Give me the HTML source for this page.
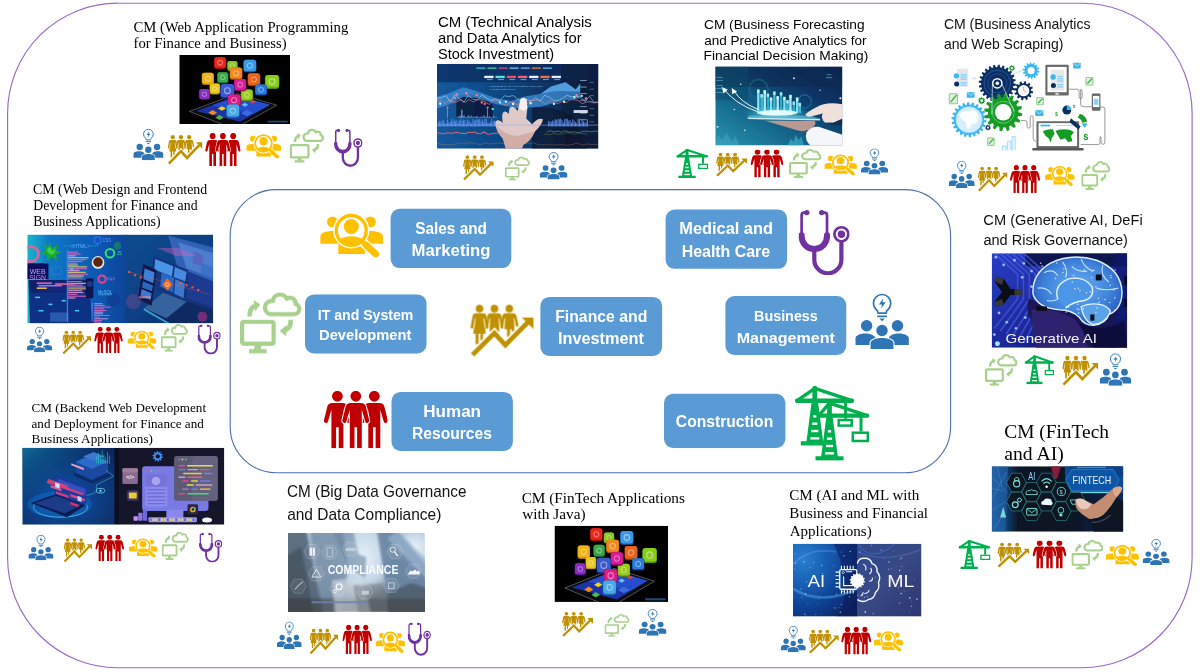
<!DOCTYPE html>
<html lang="en"><head><meta charset="utf-8"><title>Career Map</title>
<style>html,body{margin:0;padding:0;background:#fff}body{width:1200px;height:672px;overflow:hidden}svg{display:block}.serif{font-family:"Liberation Serif",serif}.sans{font-family:"Liberation Sans",sans-serif}</style></head><body>
<svg width="1200" height="672" viewBox="0 0 1200 672">
<defs><filter id="soft" x="-3%" y="-3%" width="106%" height="106%"><feGaussianBlur stdDeviation="0.55"/></filter><filter id="soft2" x="-5%" y="-5%" width="110%" height="110%"><feGaussianBlur stdDeviation="0.3"/></filter></defs>
<rect width="1200" height="672" fill="#fff"/>
<rect x="7.6" y="3.2" width="1184.5" height="664.5" rx="110" ry="110" fill="none" stroke="#9A6AC6" stroke-width="1.15"/>
<rect x="230.2" y="189.6" width="720.4" height="283.2" rx="46" ry="46" fill="none" stroke="#4F71B0" stroke-width="1.1"/>
<g filter="url(#soft)"><svg x="179.3" y="55" width="110.70" height="69.00" viewBox="40 25 990 620" preserveAspectRatio="none" overflow="hidden"><rect x="40" y="25" width="990" height="620" rx="0" fill="#000" /><polygon points="130,532 560,372 912,476 600,650 430,650" fill="#0a0a0c" stroke="#8c8c98" stroke-width="5" stroke-linejoin="round"/><polygon points="190,528 560,392 852,472 585,625" fill="#1a33a6"/><polygon points="330,478 560,392 852,472 700,555" fill="#2a55d8" opacity="0.8"/><polygon points="300,543.0 339.0,520 378,543.0 339.0,566" fill="#f08a1e"/><polygon points="385,505.5 421.5,485 458,505.5 421.5,526" fill="#f0d21e"/><polygon points="362,587.5 400.0,565 438,587.5 400.0,610" fill="#4ab84a"/><polygon points="598,472.5 626.5,455 655,472.5 626.5,490" fill="#6ac0f0"/><polygon points="668,445.0 698.0,430 728,445.0 698.0,460" fill="#e04040"/><polygon points="590,547.5 645.0,520 700,547.5 645.0,575" fill="#3a6ae0"/><rect x="350" y="45" width="110" height="105" rx="24.2" fill="#a01008"/><rect x="354.4" y="45" width="101.2" height="94.5" rx="22.0" fill="#e8281e"/><circle cx="405.0" cy="94.2" r="22.0" fill="none" stroke="#fff" stroke-opacity="0.5" stroke-width="7.7"/><rect x="468" y="80" width="94" height="90" rx="20.7" fill="#4a8a10"/><rect x="471.8" y="80" width="86.5" height="81.0" rx="18.8" fill="#8ac828"/><circle cx="515.0" cy="122.2" r="18.8" fill="none" stroke="#fff" stroke-opacity="0.5" stroke-width="6.6"/><rect x="612" y="68" width="118" height="112" rx="26.0" fill="#1a5aa8"/><rect x="616.7" y="68" width="108.6" height="100.8" rx="23.6" fill="#3a9ae8"/><circle cx="671.0" cy="120.5" r="23.6" fill="none" stroke="#fff" stroke-opacity="0.5" stroke-width="8.3"/><rect x="240" y="185" width="110" height="110" rx="24.2" fill="#b07808"/><rect x="244.4" y="185" width="101.2" height="99.0" rx="22.0" fill="#f0b41e"/><circle cx="295.0" cy="236.7" r="22.0" fill="none" stroke="#fff" stroke-opacity="0.5" stroke-width="7.7"/><rect x="378" y="180" width="102" height="100" rx="22.4" fill="#1a6a2a"/><rect x="382.1" y="180" width="93.8" height="90.0" rx="20.4" fill="#3aa84a"/><circle cx="429.0" cy="226.9" r="20.4" fill="none" stroke="#fff" stroke-opacity="0.5" stroke-width="7.1"/><rect x="490" y="138" width="115" height="110" rx="25.3" fill="#b85408"/><rect x="494.6" y="138" width="105.8" height="99.0" rx="23.0" fill="#f08a1e"/><circle cx="547.5" cy="189.6" r="23.0" fill="none" stroke="#fff" stroke-opacity="0.5" stroke-width="8.1"/><rect x="650" y="190" width="115" height="115" rx="25.3" fill="#a03808"/><rect x="654.6" y="190" width="105.8" height="103.5" rx="23.0" fill="#e8641e"/><circle cx="707.5" cy="244.1" r="23.0" fill="none" stroke="#fff" stroke-opacity="0.5" stroke-width="8.1"/><rect x="805" y="205" width="130" height="125" rx="28.6" fill="#4a8a08"/><rect x="810.2" y="205" width="119.6" height="112.5" rx="26.0" fill="#8acc1e"/><circle cx="870.0" cy="263.6" r="26.0" fill="none" stroke="#fff" stroke-opacity="0.5" stroke-width="9.1"/><rect x="310" y="280" width="95" height="100" rx="20.9" fill="#a88808"/><rect x="313.8" y="280" width="87.4" height="90.0" rx="19.0" fill="#e8c81e"/><circle cx="357.5" cy="327.1" r="19.0" fill="none" stroke="#fff" stroke-opacity="0.5" stroke-width="6.7"/><rect x="215" y="330" width="100" height="100" rx="22.0" fill="#4a0a80"/><rect x="219.0" y="330" width="92.0" height="90.0" rx="20.0" fill="#8a2ec0"/><circle cx="265.0" cy="377.0" r="20.0" fill="none" stroke="#fff" stroke-opacity="0.5" stroke-width="7.0"/><rect x="715" y="290" width="110" height="100" rx="24.2" fill="#0a3a98"/><rect x="719.4" y="290" width="101.2" height="90.0" rx="22.0" fill="#2a7ad8"/><circle cx="770.0" cy="336.7" r="22.0" fill="none" stroke="#fff" stroke-opacity="0.5" stroke-width="7.7"/><rect x="590" y="335" width="110" height="105" rx="24.2" fill="#5a8a08"/><rect x="594.4" y="335" width="101.2" height="94.5" rx="22.0" fill="#9acc1e"/><circle cx="645.0" cy="384.2" r="22.0" fill="none" stroke="#fff" stroke-opacity="0.5" stroke-width="7.7"/><rect x="528" y="240" width="112" height="110" rx="24.6" fill="#900a5a"/><rect x="532.5" y="240" width="103.0" height="99.0" rx="22.4" fill="#d81e9a"/><circle cx="584.0" cy="291.6" r="22.4" fill="none" stroke="#fff" stroke-opacity="0.5" stroke-width="7.8"/><rect x="405" y="285" width="130" height="130" rx="28.6" fill="#1a2a90"/><rect x="410.2" y="285" width="119.6" height="117.0" rx="26.0" fill="#3a5ad0"/><circle cx="470.0" cy="346.1" r="26.0" fill="none" stroke="#fff" stroke-opacity="0.5" stroke-width="9.1"/><rect x="470" y="380" width="120" height="110" rx="26.4" fill="#900a4a"/><rect x="474.8" y="380" width="110.4" height="99.0" rx="24.0" fill="#d81e8a"/><circle cx="530.0" cy="431.4" r="24.0" fill="none" stroke="#fff" stroke-opacity="0.5" stroke-width="8.4"/><rect x="460" y="470" width="120" height="120" rx="26.4" fill="#1a68a8"/><rect x="464.8" y="470" width="110.4" height="108.0" rx="24.0" fill="#4aa8e8"/><circle cx="520.0" cy="526.4" r="24.0" fill="none" stroke="#fff" stroke-opacity="0.5" stroke-width="8.4"/><rect x="830" y="615" width="180" height="17" rx="2" fill="#2a5a9a" opacity="0.8"/></svg></g>
<g filter="url(#soft)"><svg x="437" y="64" width="161.40" height="84.70" viewBox="48 25 1107 583" preserveAspectRatio="none" overflow="hidden"><defs><linearGradient id="stk" x1="0" x2="1" y1="0" y2="0"><stop offset="0" stop-color="#125a9c"/><stop offset="0.45" stop-color="#10447e"/><stop offset="0.8" stop-color="#0e2c54"/><stop offset="1" stop-color="#0c2140"/></linearGradient></defs><rect x="48" y="25" width="1107" height="583" rx="0" fill="url(#stk)" /><path d="M180 250 Q300 200 430 300 L430 390 H180Z" fill="#06183a" opacity="0.85"/><path d="M700 330 Q800 300 980 380 L1080 608 H700Z" fill="#061428" opacity="0.6"/><rect x="48" y="25" width="1107" height="125" rx="0" fill="#0a2a5c" opacity="0.7"/><rect x="900" y="25" width="255" height="583" rx="0" fill="#07142a" opacity="0.4"/><path d="M48 250 L120 230 L230 185 L330 215 L450 260 L560 280 L640 250 L760 230 L830 180 L930 150 L1000 200 L1030 160 L1030 260 L900 280 L760 320 L600 330 L450 300 L330 260 L230 250 L120 310 L48 330Z" fill="#3c8fd8" opacity="0.75"/><path d="M760 230 L830 180 L930 150 L1000 200 L1030 160 L1030 215 L860 210Z" fill="#5aa8e8" opacity="0.8"/><rect x="52.0" y="426.6712380517838" width="7.0" height="28.328761948216197" rx="0" fill="#5a8cf0" opacity="0.9"/><rect x="61.2" y="415.9519771146417" width="7.0" height="39.04802288535831" rx="0" fill="#5a8cf0" opacity="0.9"/><rect x="70.4" y="422.05156917081723" width="7.0" height="32.94843082918277" rx="0" fill="#5a8cf0" opacity="0.9"/><rect x="79.6" y="413.8627986491332" width="7.0" height="41.1372013508668" rx="0" fill="#5a8cf0" opacity="0.9"/><rect x="88.8" y="413.09978935621814" width="7.0" height="41.90021064378186" rx="0" fill="#5a8cf0" opacity="0.9"/><rect x="98.0" y="432.70648992660654" width="7.0" height="22.293510073393463" rx="0" fill="#5a8cf0" opacity="0.9"/><rect x="107.19999999999999" y="434.5391202955794" width="7.0" height="20.46087970442062" rx="0" fill="#5a8cf0" opacity="0.9"/><rect x="116.39999999999999" y="405.6885821266239" width="7.0" height="49.311417873376115" rx="0" fill="#5a8cf0" opacity="0.9"/><rect x="125.6" y="425.9226094985197" width="7.0" height="29.077390501480295" rx="0" fill="#5a8cf0" opacity="0.9"/><rect x="134.8" y="426.7984163633656" width="7.0" height="28.201583636634382" rx="0" fill="#5a8cf0" opacity="0.9"/><rect x="144.0" y="400.1524307571338" width="7.0" height="54.8475692428662" rx="0" fill="#5a8cf0" opacity="0.9"/><rect x="153.2" y="418.54077723671435" width="7.0" height="36.45922276328565" rx="0" fill="#5a8cf0" opacity="0.9"/><rect x="162.39999999999998" y="405.7238492053964" width="7.0" height="49.27615079460361" rx="0" fill="#5a8cf0" opacity="0.9"/><rect x="171.6" y="418.32763769552326" width="7.0" height="36.672362304476735" rx="0" fill="#5a8cf0" opacity="0.9"/><rect x="180.79999999999998" y="412.63261508095434" width="7.0" height="42.36738491904566" rx="0" fill="#5a8cf0" opacity="0.9"/><rect x="190.0" y="429.72842515917665" width="7.0" height="25.271574840823348" rx="0" fill="#5a8cf0" opacity="0.9"/><rect x="199.2" y="412.7798769600184" width="7.0" height="42.220123039981615" rx="0" fill="#5a8cf0" opacity="0.9"/><rect x="208.39999999999998" y="404.6184142499846" width="7.0" height="50.381585750015404" rx="0" fill="#5a8cf0" opacity="0.9"/><rect x="217.6" y="416.6886576365845" width="7.0" height="38.31134236341552" rx="0" fill="#5a8cf0" opacity="0.9"/><rect x="226.79999999999998" y="409.05618503294784" width="7.0" height="45.94381496705216" rx="0" fill="#5a8cf0" opacity="0.9"/><rect x="236.0" y="411.50059836206424" width="7.0" height="43.49940163793576" rx="0" fill="#5a8cf0" opacity="0.9"/><rect x="245.2" y="432.7588996620551" width="7.0" height="22.241100337944886" rx="0" fill="#5a8cf0" opacity="0.9"/><rect x="254.39999999999998" y="408.4619413799614" width="7.0" height="46.53805862003861" rx="0" fill="#5a8cf0" opacity="0.9"/><rect x="263.6" y="414.31151459740386" width="7.0" height="40.68848540259614" rx="0" fill="#5a8cf0" opacity="0.9"/><rect x="272.79999999999995" y="424.4556319169501" width="7.0" height="30.544368083049903" rx="0" fill="#5a8cf0" opacity="0.9"/><rect x="282.0" y="433.91458869855876" width="7.0" height="21.08541130144124" rx="0" fill="#5a8cf0" opacity="0.9"/><rect x="291.2" y="404.7065467057369" width="7.0" height="50.29345329426309" rx="0" fill="#5a8cf0" opacity="0.9"/><rect x="300.4" y="418.4537818967087" width="7.0" height="36.546218103291324" rx="0" fill="#5a8cf0" opacity="0.9"/><rect x="309.59999999999997" y="409.8411626576969" width="7.0" height="45.158837342303116" rx="0" fill="#5a8cf0" opacity="0.9"/><rect x="318.79999999999995" y="404.24155199105815" width="7.0" height="50.758448008941855" rx="0" fill="#5a8cf0" opacity="0.9"/><rect x="328.0" y="410.0054680736079" width="7.0" height="44.994531926392085" rx="0" fill="#5a8cf0" opacity="0.9"/><rect x="337.2" y="402.7615466345644" width="7.0" height="52.23845336543559" rx="0" fill="#5a8cf0" opacity="0.9"/><rect x="346.4" y="421.176280859974" width="7.0" height="33.823719140026014" rx="0" fill="#5a8cf0" opacity="0.9"/><rect x="355.59999999999997" y="406.968193015517" width="7.0" height="48.03180698448301" rx="0" fill="#5a8cf0" opacity="0.9"/><rect x="364.79999999999995" y="419.4382630382234" width="7.0" height="35.5617369617766" rx="0" fill="#5a8cf0" opacity="0.9"/><rect x="374.0" y="402.25446474034175" width="7.0" height="52.745535259658254" rx="0" fill="#5a8cf0" opacity="0.9"/><rect x="383.2" y="404.23966688816853" width="7.0" height="50.76033311183147" rx="0" fill="#5a8cf0" opacity="0.9"/><rect x="392.4" y="431.5890991594193" width="7.0" height="23.410900840580723" rx="0" fill="#5a8cf0" opacity="0.9"/><rect x="401.59999999999997" y="430.24108989297656" width="7.0" height="24.75891010702344" rx="0" fill="#5a8cf0" opacity="0.9"/><rect x="410.79999999999995" y="427.4054570568402" width="7.0" height="27.59454294315981" rx="0" fill="#5a8cf0" opacity="0.9"/><rect x="420.0" y="401.2081951385629" width="7.0" height="53.79180486143707" rx="0" fill="#5a8cf0" opacity="0.9"/><rect x="429.2" y="419.73433466804" width="7.0" height="35.26566533196001" rx="0" fill="#5a8cf0" opacity="0.9"/><rect x="438.4" y="413.0673098196619" width="7.0" height="41.93269018033811" rx="0" fill="#5a8cf0" opacity="0.9"/><rect x="447.59999999999997" y="424.4640830551073" width="7.0" height="30.535916944892676" rx="0" fill="#5a8cf0" opacity="0.9"/><rect x="810.0" y="417.2464955659829" width="7.0" height="37.75350443401709" rx="0" fill="#5a8cf0" opacity="0.9"/><rect x="819.2" y="421.4946809404284" width="7.0" height="33.505319059571605" rx="0" fill="#5a8cf0" opacity="0.9"/><rect x="828.4" y="422.71813289304373" width="7.0" height="32.28186710695627" rx="0" fill="#5a8cf0" opacity="0.9"/><rect x="837.6" y="414.5224062408123" width="7.0" height="40.4775937591877" rx="0" fill="#5a8cf0" opacity="0.9"/><rect x="846.8" y="414.551187246043" width="7.0" height="40.448812753956986" rx="0" fill="#5a8cf0" opacity="0.9"/><rect x="856.0" y="403.3529380203279" width="7.0" height="51.64706197967212" rx="0" fill="#5a8cf0" opacity="0.9"/><rect x="865.2" y="411.1306252177762" width="7.0" height="43.869374782223815" rx="0" fill="#5a8cf0" opacity="0.9"/><rect x="874.4" y="402.4869039579994" width="7.0" height="52.5130960420006" rx="0" fill="#5a8cf0" opacity="0.9"/><rect x="883.6" y="405.02598017611353" width="7.0" height="49.974019823886465" rx="0" fill="#5a8cf0" opacity="0.9"/><rect x="892.8" y="400.31536242959146" width="7.0" height="54.68463757040854" rx="0" fill="#5a8cf0" opacity="0.9"/><rect x="902.0" y="411.5054260243119" width="7.0" height="43.49457397568813" rx="0" fill="#5a8cf0" opacity="0.9"/><rect x="911.2" y="429.2915132310126" width="7.0" height="25.708486768987427" rx="0" fill="#5a8cf0" opacity="0.9"/><rect x="920.4" y="404.8776863409306" width="7.0" height="50.12231365906939" rx="0" fill="#5a8cf0" opacity="0.9"/><rect x="929.6" y="401.23784684418285" width="7.0" height="53.762153155817145" rx="0" fill="#5a8cf0" opacity="0.9"/><rect x="938.8" y="403.3356405420717" width="7.0" height="51.6643594579283" rx="0" fill="#5a8cf0" opacity="0.9"/><rect x="948.0" y="415.08123737839867" width="7.0" height="39.91876262160133" rx="0" fill="#5a8cf0" opacity="0.9"/><rect x="957.2" y="410.016404293903" width="7.0" height="44.98359570609699" rx="0" fill="#5a8cf0" opacity="0.9"/><rect x="966.4" y="427.61062557135403" width="7.0" height="27.389374428645965" rx="0" fill="#5a8cf0" opacity="0.9"/><rect x="975.6" y="405.8937224404326" width="7.0" height="49.10627755956739" rx="0" fill="#5a8cf0" opacity="0.9"/><rect x="984.8" y="414.92636766770505" width="7.0" height="40.07363233229495" rx="0" fill="#5a8cf0" opacity="0.9"/><rect x="994.0" y="425.02648883048283" width="7.0" height="29.973511169517167" rx="0" fill="#5a8cf0" opacity="0.9"/><rect x="1003.2" y="432.778879799917" width="7.0" height="22.22112020008302" rx="0" fill="#5a8cf0" opacity="0.9"/><rect x="1012.4" y="405.1120129052062" width="7.0" height="49.8879870947938" rx="0" fill="#5a8cf0" opacity="0.9"/><rect x="1021.6" y="400.35678947774466" width="6.999999999999886" height="54.643210522255345" rx="0" fill="#5a8cf0" opacity="0.9"/><rect x="1030.8" y="431.9018667411595" width="7.0" height="23.098133258840505" rx="0" fill="#5a8cf0" opacity="0.9"/><rect x="1040.0" y="406.97916375598743" width="7.0" height="48.02083624401257" rx="0" fill="#5a8cf0" opacity="0.9"/><rect x="1049.2" y="420.6338360428932" width="7.0" height="34.36616395710678" rx="0" fill="#5a8cf0" opacity="0.9"/><rect x="1058.4" y="429.7232118941517" width="7.0" height="25.27678810584831" rx="0" fill="#5a8cf0" opacity="0.9"/><rect x="1067.6" y="424.71380636133284" width="7.0" height="30.286193638667157" rx="0" fill="#5a8cf0" opacity="0.9"/><rect x="1076.8" y="408.09228394529293" width="7.0" height="46.907716054707066" rx="0" fill="#5a8cf0" opacity="0.9"/><rect x="190" y="382.27937627154415" width="6" height="12.720623728455848" rx="0" fill="#7aa0e0" opacity="0.8"/><rect x="199" y="380.61498215034976" width="6" height="14.38501784965024" rx="0" fill="#7aa0e0" opacity="0.8"/><rect x="208" y="379.8672900820803" width="6" height="15.132709917919726" rx="0" fill="#7aa0e0" opacity="0.8"/><rect x="217" y="377.8056960271213" width="6" height="17.194303972878686" rx="0" fill="#7aa0e0" opacity="0.8"/><rect x="226" y="380.641419953641" width="6" height="14.358580046359009" rx="0" fill="#7aa0e0" opacity="0.8"/><rect x="235" y="378.0874500466842" width="6" height="16.912549953315818" rx="0" fill="#7aa0e0" opacity="0.8"/><rect x="244" y="390.59392680402937" width="6" height="4.4060731959706345" rx="0" fill="#7aa0e0" opacity="0.8"/><rect x="253" y="384.48128283870653" width="6" height="10.518717161293466" rx="0" fill="#7aa0e0" opacity="0.8"/><rect x="262" y="377.7930059620236" width="6" height="17.206994037976415" rx="0" fill="#7aa0e0" opacity="0.8"/><rect x="271" y="381.91435625608307" width="6" height="13.085643743916933" rx="0" fill="#7aa0e0" opacity="0.8"/><rect x="280" y="378.3873931154913" width="6" height="16.612606884508693" rx="0" fill="#7aa0e0" opacity="0.8"/><rect x="289" y="389.41511649485597" width="6" height="5.584883505144035" rx="0" fill="#7aa0e0" opacity="0.8"/><rect x="298" y="384.4330333310497" width="6" height="10.566966668950272" rx="0" fill="#7aa0e0" opacity="0.8"/><rect x="307" y="387.54798034332237" width="6" height="7.452019656677635" rx="0" fill="#7aa0e0" opacity="0.8"/><rect x="316" y="383.38734797069696" width="6" height="11.612652029303035" rx="0" fill="#7aa0e0" opacity="0.8"/><rect x="325" y="382.9648233690066" width="6" height="12.03517663099342" rx="0" fill="#7aa0e0" opacity="0.8"/><rect x="334" y="390.81640134575537" width="6" height="4.1835986542446335" rx="0" fill="#7aa0e0" opacity="0.8"/><rect x="343" y="387.96578279350615" width="6" height="7.0342172064938495" rx="0" fill="#7aa0e0" opacity="0.8"/><rect x="352" y="387.08724687584447" width="6" height="7.912753124155529" rx="0" fill="#7aa0e0" opacity="0.8"/><rect x="361" y="378.1711647946803" width="6" height="16.828835205319706" rx="0" fill="#7aa0e0" opacity="0.8"/><rect x="370" y="380.279843677192" width="6" height="14.720156322808009" rx="0" fill="#7aa0e0" opacity="0.8"/><rect x="379" y="388.7655410269875" width="6" height="6.234458973012522" rx="0" fill="#7aa0e0" opacity="0.8"/><rect x="388" y="379.83994211996315" width="6" height="15.160057880036845" rx="0" fill="#7aa0e0" opacity="0.8"/><rect x="397" y="389.0572561424154" width="6" height="5.942743857584617" rx="0" fill="#7aa0e0" opacity="0.8"/><rect x="406" y="382.35566471347437" width="6" height="12.644335286525632" rx="0" fill="#7aa0e0" opacity="0.8"/><rect x="415" y="389.2262107442962" width="6" height="5.773789255703775" rx="0" fill="#7aa0e0" opacity="0.8"/><rect x="424" y="390.9751519291645" width="6" height="4.024848070835503" rx="0" fill="#7aa0e0" opacity="0.8"/><rect x="433" y="378.80033357386003" width="6" height="16.19966642613997" rx="0" fill="#7aa0e0" opacity="0.8"/><rect x="442" y="388.0676106450683" width="6" height="6.932389354931672" rx="0" fill="#7aa0e0" opacity="0.8"/><rect x="451" y="387.98326363085374" width="6" height="7.016736369146258" rx="0" fill="#7aa0e0" opacity="0.8"/><rect x="215" y="340" width="7" height="55" rx="0" fill="#9ab8f0" /><polyline points="48,282 76,275 103,297 131,271 159,292 186,284 214,271 242,290 269,270 297,287 325,271 352,272 380,287 408,304 435,273 463,278 491,296 518,310 546,293 574,285 602,311 629,270 657,306 685,281 712,274 740,273 768,282 795,304 823,276 851,294 878,296 906,284 934,292 961,271 989,271 1017,277 1044,298 1072,287 1100,282 1127,294 1155,288" fill="none" stroke="#f08088" stroke-width="5" opacity="0.9" stroke-linejoin="round"/><polyline points="48,263 79,257 110,243 140,287 171,235 202,265 232,289 263,240 294,268 325,272 356,237 386,258 417,277 448,262 478,279 509,244 540,249 571,242 602,265 632,290 663,270 694,281 724,258 755,280 786,241 817,252 848,275 878,279 909,260 940,240 970,251 1001,248 1032,252 1063,284 1094,247 1124,288 1155,288" fill="none" stroke="#b8e0ff" stroke-width="4" opacity="0.9" stroke-linejoin="round"/><polyline points="48,499 70,501 91,507 113,499 134,500 156,501 178,495 199,500 221,502 242,505 264,494 286,497 307,493 329,505 350,503 372,493 394,508 415,507 437,502 458,502 480,495" fill="none" stroke="#f06070" stroke-width="7" opacity="0.9" stroke-linejoin="round"/><polyline points="48,570 85,579 122,579 159,582 196,569 232,570 269,568 306,570 343,580 380,568 417,576 454,569 491,571 528,574 565,582 602,577 638,565 675,571 712,568 749,582 786,581 823,581 860,582 897,580 934,584 970,581 1007,570 1044,582 1081,575 1118,580 1155,576" fill="none" stroke="#d09070" stroke-width="3" opacity="0.7" stroke-linejoin="round"/><polyline points="800,496 825,484 851,493 876,486 901,496 927,484 952,495 978,492 1003,494 1028,496 1054,487 1079,488 1104,492 1130,487 1155,487" fill="none" stroke="#60e0d0" stroke-width="4" opacity="0.8" stroke-linejoin="round"/><polyline points="780,505 801,510 823,512 844,502 866,509 887,508 909,508 930,499 951,497 973,503 994,509 1016,501 1037,505 1059,502 1080,511" fill="none" stroke="#d0a040" stroke-width="3" opacity="0.7" stroke-linejoin="round"/><rect x="318" y="48" width="62" height="12" rx="0" fill="#40c0c0" opacity="0.8"/><rect x="372" y="106" width="64" height="16" rx="0" fill="#e8f0ff" /><rect x="390" y="128" width="40" height="8" rx="0" fill="#a0b8e0" opacity="0.7"/><rect x="394" y="48" width="62" height="12" rx="0" fill="#40d0a0" opacity="0.8"/><rect x="449" y="106" width="64" height="16" rx="0" fill="#60e0d0" /><rect x="467" y="128" width="40" height="8" rx="0" fill="#a0b8e0" opacity="0.7"/><rect x="470" y="48" width="62" height="12" rx="0" fill="#d05080" opacity="0.8"/><rect x="526" y="106" width="64" height="16" rx="0" fill="#f05060" /><rect x="544" y="128" width="40" height="8" rx="0" fill="#a0b8e0" opacity="0.7"/><rect x="546" y="48" width="62" height="12" rx="0" fill="#80c0e0" opacity="0.8"/><rect x="603" y="106" width="64" height="16" rx="0" fill="#f06070" /><rect x="621" y="128" width="40" height="8" rx="0" fill="#a0b8e0" opacity="0.7"/><rect x="622" y="48" width="62" height="12" rx="0" fill="#80a0e0" opacity="0.8"/><rect x="680" y="106" width="64" height="16" rx="0" fill="#e8f0ff" /><rect x="698" y="128" width="40" height="8" rx="0" fill="#a0b8e0" opacity="0.7"/><rect x="698" y="48" width="62" height="12" rx="0" fill="#e08040" opacity="0.8"/><rect x="757" y="106" width="64" height="16" rx="0" fill="#f07040" /><rect x="775" y="128" width="40" height="8" rx="0" fill="#a0b8e0" opacity="0.7"/><rect x="774" y="48" width="62" height="12" rx="0" fill="#60c0e0" opacity="0.8"/><rect x="834" y="106" width="64" height="16" rx="0" fill="#e8f0ff" /><rect x="852" y="128" width="40" height="8" rx="0" fill="#a0b8e0" opacity="0.7"/><text x="412" y="180" font-family="Liberation Serif, serif" font-size="20" fill="#8ab0d8" textLength="360" lengthAdjust="spacingAndGlyphs" font-weight="bold">HISTORICAL CHART PATTERN</text><text x="412" y="202" font-family="Liberation Serif, serif" font-size="20" fill="#8ab0d8" textLength="175" lengthAdjust="spacingAndGlyphs" font-weight="bold">COMPARISONS</text><rect x="1030" y="135" width="45" height="7" rx="0" fill="#a0c0e8" opacity="0.7"/><rect x="1095" y="150" width="30" height="6" rx="0" fill="#80a0d0" opacity="0.6"/><rect x="1030" y="180" width="45" height="7" rx="0" fill="#a0c0e8" opacity="0.7"/><rect x="1095" y="195" width="30" height="6" rx="0" fill="#80a0d0" opacity="0.6"/><rect x="1030" y="225" width="45" height="7" rx="0" fill="#a0c0e8" opacity="0.7"/><rect x="1095" y="240" width="30" height="6" rx="0" fill="#80a0d0" opacity="0.6"/><rect x="1030" y="270" width="45" height="7" rx="0" fill="#a0c0e8" opacity="0.7"/><rect x="1095" y="285" width="30" height="6" rx="0" fill="#80a0d0" opacity="0.6"/><rect x="1030" y="315" width="45" height="7" rx="0" fill="#a0c0e8" opacity="0.7"/><rect x="1095" y="330" width="30" height="6" rx="0" fill="#80a0d0" opacity="0.6"/><rect x="1030" y="360" width="45" height="7" rx="0" fill="#a0c0e8" opacity="0.7"/><rect x="1095" y="375" width="30" height="6" rx="0" fill="#80a0d0" opacity="0.6"/><rect x="1030" y="405" width="45" height="7" rx="0" fill="#a0c0e8" opacity="0.7"/><rect x="1095" y="420" width="30" height="6" rx="0" fill="#80a0d0" opacity="0.6"/><rect x="985" y="342" width="97" height="20" rx="0" fill="#e8f0ff" opacity="0.9"/><circle cx="170" cy="258" r="8" fill="#ff8090"/><circle cx="185" cy="235" r="8" fill="#ff8090"/><circle cx="250" cy="228" r="8" fill="#ff90a0"/><circle cx="320" cy="240" r="8" fill="#ff8090"/><circle cx="355" cy="290" r="8" fill="#ff7080"/><circle cx="375" cy="300" r="8" fill="#ff7080"/><circle cx="120" cy="325" r="8" fill="#ff6070"/><circle cx="395" cy="325" r="8" fill="#ff6070"/><circle cx="1005" cy="240" r="8" fill="#ff8090"/><circle cx="1070" cy="262" r="8" fill="#ff8090"/><circle cx="70" cy="298" r="8" fill="#fff"/><circle cx="430" cy="335" r="8" fill="#60ffe0"/><circle cx="480" cy="290" r="8" fill="#a0f0ff"/><circle cx="520" cy="285" r="8" fill="#c0ffff"/><circle cx="570" cy="300" r="8" fill="#fff"/><circle cx="850" cy="300" r="8" fill="#c0ffff"/><circle cx="920" cy="285" r="8" fill="#c0ffff"/><circle cx="990" cy="255" r="8" fill="#c0ffff"/><circle cx="1040" cy="245" r="8" fill="#a0ffff"/><circle cx="690" cy="295" r="8" fill="#e0ffff"/><rect x="117" y="325" width="6" height="70" rx="0" fill="#f06070" /><rect x="392" y="325" width="6" height="70" rx="0" fill="#f06070" /><path d="M520 608 L500 540 Q440 470 450 420 Q470 400 500 430 Q490 380 500 360 Q520 340 540 370 L545 330 Q560 310 585 330 L600 350 L620 270 Q640 245 662 270 L668 330 L660 400 L700 440 Q740 390 775 405 Q770 440 720 490 Q690 560 640 580 L630 608Z" fill="#ecd2cc" opacity="0.95"/><path d="M520 608 L500 540 Q470 500 455 450 Q520 520 600 520 Q680 500 720 490 Q690 560 640 580 L630 608Z" fill="#c89890" opacity="0.6"/><path d="M620 270 Q640 245 662 270 L668 330 L640 350 L612 330Z" fill="#f8f0f0"/><rect x="48" y="440" width="1107" height="12" rx="0" fill="#8ab0f0" opacity="0.35"/></svg></g>
<g filter="url(#soft)"><svg x="715.3" y="66.5" width="127.10" height="79.00" viewBox="78 47 949 593" preserveAspectRatio="none" overflow="hidden"><defs><linearGradient id="fcg" x1="0" x2="1" y1="1" y2="0"><stop offset="0" stop-color="#2a94ae"/><stop offset="0.35" stop-color="#14668a"/><stop offset="0.7" stop-color="#0c3566"/><stop offset="1" stop-color="#0a2250"/></linearGradient><radialGradient id="fcglow" cx="0.5" cy="0.5" r="0.5"><stop offset="0" stop-color="#e8ffff" stop-opacity="0.95"/><stop offset="0.4" stop-color="#70e0f0" stop-opacity="0.6"/><stop offset="1" stop-color="#30b0d0" stop-opacity="0"/></radialGradient></defs><rect x="78" y="47" width="949" height="593" rx="0" fill="url(#fcg)" /><rect x="78" y="47" width="949" height="153" rx="0" fill="#0a2a4c" opacity="0.55"/><path d="M78 47 H320 V300 H78Z" fill="#0e4a68" opacity="0.5"/><circle cx="400" cy="215" r="70" fill="none" stroke="#1a6a8a" stroke-width="14" opacity="0.6"/><circle cx="745" cy="310" r="50" fill="none" stroke="#2a7ab0" stroke-width="8" opacity="0.7"/><ellipse cx="540" cy="400" rx="260" ry="60" fill="url(#fcglow)"/><rect x="390" y="220" width="18" height="175" rx="0" fill="#8af0ff" opacity="0.9"/><rect x="390" y="220" width="18" height="25" rx="0" fill="#e0ffff" opacity="0.7"/><rect x="415" y="255" width="18" height="140" rx="0" fill="#40c8e0" opacity="0.9"/><rect x="415" y="255" width="18" height="25" rx="0" fill="#e0ffff" opacity="0.7"/><rect x="438" y="225" width="18" height="170" rx="0" fill="#b8f8ff" opacity="0.9"/><rect x="438" y="225" width="18" height="25" rx="0" fill="#e0ffff" opacity="0.7"/><rect x="462" y="250" width="18" height="145" rx="0" fill="#30b8d8" opacity="0.9"/><rect x="462" y="250" width="18" height="25" rx="0" fill="#e0ffff" opacity="0.7"/><rect x="485" y="280" width="18" height="115" rx="0" fill="#8af0ff" opacity="0.9"/><rect x="485" y="280" width="18" height="25" rx="0" fill="#e0ffff" opacity="0.7"/><rect x="510" y="235" width="18" height="160" rx="0" fill="#40c8e0" opacity="0.9"/><rect x="510" y="235" width="18" height="25" rx="0" fill="#e0ffff" opacity="0.7"/><rect x="535" y="270" width="18" height="125" rx="0" fill="#b8f8ff" opacity="0.9"/><rect x="535" y="270" width="18" height="25" rx="0" fill="#e0ffff" opacity="0.7"/><rect x="560" y="240" width="18" height="155" rx="0" fill="#30b8d8" opacity="0.9"/><rect x="560" y="240" width="18" height="25" rx="0" fill="#e0ffff" opacity="0.7"/><rect x="585" y="275" width="18" height="120" rx="0" fill="#8af0ff" opacity="0.9"/><rect x="585" y="275" width="18" height="25" rx="0" fill="#e0ffff" opacity="0.7"/><rect x="608" y="300" width="18" height="95" rx="0" fill="#40c8e0" opacity="0.9"/><rect x="608" y="300" width="18" height="25" rx="0" fill="#e0ffff" opacity="0.7"/><rect x="630" y="260" width="18" height="135" rx="0" fill="#b8f8ff" opacity="0.9"/><rect x="630" y="260" width="18" height="25" rx="0" fill="#e0ffff" opacity="0.7"/><rect x="655" y="310" width="18" height="85" rx="0" fill="#30b8d8" opacity="0.9"/><rect x="655" y="310" width="18" height="25" rx="0" fill="#e0ffff" opacity="0.7"/><rect x="680" y="280" width="18" height="115" rx="0" fill="#8af0ff" opacity="0.9"/><rect x="680" y="280" width="18" height="25" rx="0" fill="#e0ffff" opacity="0.7"/><rect x="700" y="320" width="18" height="75" rx="0" fill="#40c8e0" opacity="0.9"/><rect x="700" y="320" width="18" height="25" rx="0" fill="#e0ffff" opacity="0.7"/><ellipse cx="540" cy="395" rx="150" ry="22" fill="#f0ffff" opacity="0.9"/><path d="M320 430 L860 440 L860 452 L320 442Z" fill="#d0e8f0"/><path d="M330 415 L780 415 L860 440 L320 432Z" fill="#60c8e0" opacity="0.7"/><path d="M390 385 Q230 330 140 215" fill="none" stroke="#f0ffff" stroke-width="7"/><path d="M400 370 Q270 320 215 225" fill="none" stroke="#f0ffff" stroke-width="7"/><path d="M125 200 L170 220 L140 250Z" fill="#fff"/><path d="M200 208 L240 235 L205 255Z" fill="#fff"/><path d="M1027 330 Q900 310 840 350 Q760 390 750 410 Q760 430 800 420 L880 400 Q860 440 900 470 L960 470 L1027 440Z" fill="#f0e0dc"/><path d="M450 455 L820 455 Q840 480 800 510 Q760 540 700 530 Q600 500 450 455Z" fill="#b89890"/><path d="M760 540 Q800 490 850 500 L1027 560 V640 H790 Q740 600 760 540Z" fill="#f4f6fa"/><path d="M900 470 Q980 500 1027 480 V440 L960 470Z" fill="#0a2a4a" opacity="0.8"/><circle cx="268" cy="180" r="6" fill="#fff" opacity="0.9"/><circle cx="665" cy="135" r="7" fill="#fff" opacity="0.9"/><circle cx="1012" cy="285" r="8" fill="#fff" opacity="0.9"/><circle cx="220" cy="370" r="6" fill="#fff" opacity="0.9"/><circle cx="95" cy="500" r="7" fill="#fff" opacity="0.9"/><circle cx="298" cy="525" r="6" fill="#fff" opacity="0.9"/><circle cx="860" cy="225" r="5" fill="#fff" opacity="0.9"/><rect x="85" y="125" width="50" height="8" rx="0" fill="#60b0d0" opacity="0.6"/><rect x="85" y="148" width="50" height="8" rx="0" fill="#60b0d0" opacity="0.6"/><rect x="85" y="185" width="50" height="8" rx="0" fill="#60b0d0" opacity="0.6"/><rect x="85" y="208" width="50" height="8" rx="0" fill="#60b0d0" opacity="0.6"/><rect x="85" y="238" width="50" height="8" rx="0" fill="#60b0d0" opacity="0.6"/><rect x="910" y="105" width="35" height="7" rx="0" fill="#60a0d0" opacity="0.7"/><rect x="905" y="125" width="45" height="10" rx="0" fill="#5090c0" opacity="0.7"/><path d="M620 640 L640 590 L660 610 L680 560 L700 600 L720 570 L740 640Z" fill="#40b8d0" opacity="0.6"/><path d="M78 640 L100 560 L130 600 L160 540 L200 610 L230 570 L260 640Z" fill="#50b8d0" opacity="0.35"/></svg></g>
<g filter="url(#soft)"><svg x="946.7" y="61.7" width="160.00" height="90.00" viewBox="45 45 1075 605" preserveAspectRatio="none" overflow="hidden"><rect x="45" y="45" width="1075" height="605" rx="0" fill="#fff" /><path d="M865 230 H920 Q935 230 935 250 V280 Q935 295 945 295 Q955 295 955 280 V245 Q955 230 945 232 V330 Q945 348 965 348 H1020" fill="none" stroke="#777" stroke-width="5"/><path d="M1078 350 H1095 Q1108 350 1108 365 V590 Q1108 600 1095 600 Q1082 600 1082 585 V560 Q1082 548 1075 548 V590 Q1075 602 1060 602 H945" fill="none" stroke="#777" stroke-width="5"/><path d="M545 440 H570 Q585 440 585 455 V480 Q585 492 595 492 Q606 492 606 480 V420 Q606 408 615 408 Q626 408 626 420 V560 Q626 580 645 580" fill="none" stroke="#777" stroke-width="5"/><path d="M385 160 L612 85 M385 220 L562 190" stroke="#9ad8f8" stroke-width="4" fill="none"/><polygon points="296.5,435.0 312.9,440.1 311.8,451.8 294.7,453.7 292.4,463.6 306.7,473.1 302.3,484.0 285.4,481.1 280.4,489.9 291.4,503.0 284.2,512.3 268.8,504.7 261.5,511.7 268.4,527.4 258.8,534.3 246.2,522.6 237.2,527.3 239.4,544.3 228.2,548.2 219.4,533.5 209.4,535.4 206.8,552.4 195.0,553.0 190.7,536.4 180.6,535.4 173.2,551.0 161.8,548.2 162.3,531.1 152.8,527.3 141.4,540.1 131.2,534.3 136.5,517.9 128.5,511.7 114.0,520.8 105.8,512.3 115.5,498.1 109.6,489.9 93.1,494.5 87.7,484.0 101.0,473.2 97.6,463.6 80.5,463.4 78.2,451.8 94.0,445.1 93.5,435.0 77.1,429.9 78.2,418.2 95.3,416.3 97.6,406.4 83.3,396.9 87.7,386.0 104.6,388.9 109.6,380.1 98.6,367.0 105.8,357.7 121.2,365.3 128.5,358.3 121.6,342.6 131.2,335.7 143.8,347.4 152.8,342.7 150.6,325.7 161.8,321.8 170.6,336.5 180.6,334.6 183.2,317.6 195.0,317.0 199.3,333.6 209.4,334.6 216.8,319.0 228.2,321.8 227.7,338.9 237.2,342.7 248.6,329.9 258.8,335.7 253.5,352.1 261.5,358.3 276.0,349.2 284.2,357.7 274.5,371.9 280.4,380.1 296.9,375.5 302.3,386.0 289.0,396.8 292.4,406.4 309.5,406.6 311.8,418.2 296.0,424.9" fill="#38b6f2"/><circle cx="195" cy="435" r="88" fill="#d4eefc"/><path d="M130 400 Q150 370 190 380 Q230 360 250 390 Q270 420 250 450 Q230 470 215 460 Q210 490 190 500 Q170 480 175 450 Q140 440 130 400Z" fill="#fff" opacity="0.9"/><circle cx="195" cy="435" r="88" fill="none" stroke="#a8dcf8" stroke-width="6"/><polygon points="493.8,190.0 509.9,194.9 508.9,206.3 492.2,208.4 490.0,218.1 504.4,227.1 500.5,237.8 483.8,235.5 479.2,244.4 490.7,256.7 484.2,266.1 468.6,259.5 461.9,266.9 469.9,281.8 461.1,289.2 447.8,278.8 439.4,284.2 443.2,300.6 432.8,305.5 422.6,292.0 413.1,295.0 412.6,311.9 401.3,313.9 395.0,298.3 385.0,298.8 380.1,314.9 368.7,313.9 366.6,297.2 356.9,295.0 347.9,309.4 337.2,305.5 339.5,288.8 330.6,284.2 318.3,295.7 308.9,289.2 315.5,273.6 308.1,266.9 293.2,274.9 285.8,266.1 296.2,252.8 290.8,244.4 274.4,248.2 269.5,237.8 283.0,227.6 280.0,218.1 263.1,217.6 261.1,206.3 276.7,200.0 276.2,190.0 260.1,185.1 261.1,173.7 277.8,171.6 280.0,161.9 265.6,152.9 269.5,142.2 286.2,144.5 290.8,135.6 279.3,123.3 285.8,113.9 301.4,120.5 308.1,113.1 300.1,98.2 308.9,90.8 322.2,101.2 330.6,95.8 326.8,79.4 337.2,74.5 347.4,88.0 356.9,85.0 357.4,68.1 368.7,66.1 375.0,81.7 385.0,81.2 389.9,65.1 401.3,66.1 403.4,82.8 413.1,85.0 422.1,70.6 432.8,74.5 430.5,91.2 439.4,95.8 451.7,84.3 461.1,90.8 454.5,106.4 461.9,113.1 476.8,105.1 484.2,113.9 473.8,127.2 479.2,135.6 495.6,131.8 500.5,142.2 487.0,152.4 490.0,161.9 506.9,162.4 508.9,173.7 493.3,180.0" fill="#0c2f62"/><circle cx="385" cy="190" r="88" fill="none" stroke="#1a4a88" stroke-width="10"/><circle cx="385" cy="190" r="64" fill="none" stroke="#254f90" stroke-width="6"/><polygon points="527.4,385.0 552.8,392.5 550.5,410.0 524.1,410.9 519.6,424.2 540.2,440.9 531.4,456.1 506.6,446.8 497.4,457.4 510.0,480.7 496.1,491.4 476.8,473.3 464.2,479.6 466.9,505.9 450.0,510.5 439.0,486.4 425.0,487.4 417.5,512.8 400.0,510.5 399.1,484.1 385.8,479.6 369.1,500.2 353.9,491.4 363.2,466.6 352.6,457.4 329.3,470.0 318.6,456.1 336.7,436.8 330.4,424.2 304.1,426.9 299.5,410.0 323.6,399.0 322.6,385.0 297.2,377.5 299.5,360.0 325.9,359.1 330.4,345.8 309.8,329.1 318.6,313.9 343.4,323.2 352.6,312.6 340.0,289.3 353.9,278.6 373.2,296.7 385.8,290.4 383.1,264.1 400.0,259.5 411.0,283.6 425.0,282.6 432.5,257.2 450.0,259.5 450.9,285.9 464.2,290.4 480.9,269.8 496.1,278.6 486.8,303.4 497.4,312.6 520.7,300.0 531.4,313.9 513.3,333.2 519.6,345.8 545.9,343.1 550.5,360.0 526.4,371.0" fill="#129c24"/><circle cx="425" cy="385" r="56" fill="#fff"/><circle cx="425" cy="385" r="74" fill="none" stroke="#7ad888" stroke-width="5"/><path d="M352 200 L348 400 M418 200 L498 380" stroke="#d8e8f0" stroke-width="5" fill="none" opacity="0.9"/><circle cx="385" cy="190" r="36" fill="#fff"/><circle cx="385" cy="190" r="26" fill="#0c2f62"/><circle cx="385" cy="190" r="12" fill="#fff"/><polygon points="655.7,105.0 667.9,108.8 666.6,117.5 653.8,117.6 651.4,124.0 660.7,132.6 655.8,139.9 644.2,134.5 639.2,139.2 643.9,151.0 636.3,155.5 628.3,145.5 621.7,147.6 620.8,160.3 612.0,161.0 609.1,148.6 602.3,147.6 595.9,158.6 587.7,155.5 590.4,143.0 584.8,139.2 574.2,146.3 568.2,139.9 576.1,129.9 572.6,124.0 560.0,125.8 557.4,117.5 568.9,111.8 568.3,105.0 556.1,101.2 557.4,92.5 570.2,92.4 572.6,86.0 563.3,77.4 568.2,70.1 579.8,75.5 584.8,70.8 580.1,59.0 587.7,54.5 595.7,64.5 602.3,62.4 603.2,49.7 612.0,49.0 614.9,61.4 621.7,62.4 628.1,51.4 636.3,54.5 633.6,67.0 639.2,70.8 649.8,63.7 655.8,70.1 647.9,80.1 651.4,86.0 664.0,84.2 666.6,92.5 655.1,98.2" fill="#38b6f2"/><circle cx="612" cy="105" r="24" fill="#fff"/><polygon points="611.9,240.0 625.8,245.0 623.8,256.6 609.1,256.7 605.2,265.0 614.7,276.2 607.3,285.3 594.4,278.0 587.0,283.2 589.6,297.8 578.6,301.8 571.1,289.1 562.0,289.9 557.0,303.8 545.4,301.8 545.3,287.1 537.0,283.2 525.8,292.7 516.7,285.3 524.0,272.4 518.8,265.0 504.2,267.6 500.2,256.6 512.9,249.1 512.1,240.0 498.2,235.0 500.2,223.4 514.9,223.3 518.8,215.0 509.3,203.8 516.7,194.7 529.6,202.0 537.0,196.8 534.4,182.2 545.4,178.2 552.9,190.9 562.0,190.1 567.0,176.2 578.6,178.2 578.7,192.9 587.0,196.8 598.2,187.3 607.3,194.7 600.0,207.6 605.2,215.0 619.8,212.4 623.8,223.4 611.1,230.9" fill="#0c2f62"/><circle cx="562" cy="240" r="38" fill="#fff"/><path d="M562 240 L562 212 M562 240 L580 250" stroke="#e06040" stroke-width="4"/><polygon points="498.0,88.0 502.9,89.9 502.0,94.2 496.8,94.0 495.1,96.8 498.0,101.2 494.8,104.2 490.6,100.9 487.6,102.3 487.4,107.5 483.0,108.0 481.6,102.9 478.4,102.3 475.1,106.4 471.2,104.2 473.1,99.3 470.9,96.8 465.8,98.2 464.0,94.2 468.4,91.3 468.0,88.0 463.1,86.1 464.0,81.8 469.2,82.0 470.9,79.2 468.0,74.8 471.2,71.8 475.4,75.1 478.4,73.7 478.6,68.5 483.0,68.0 484.4,73.1 487.6,73.7 490.9,69.6 494.8,71.8 492.9,76.7 495.1,79.2 500.2,77.8 502.0,81.8 497.6,84.7" fill="#129c24"/><circle cx="483" cy="88" r="8" fill="#fff"/><polygon points="298.0,307.0 303.9,309.3 302.8,314.4 296.5,314.1 294.6,317.6 298.0,322.9 294.1,326.4 289.2,322.5 285.6,324.1 285.2,330.4 280.0,331.0 278.3,324.9 274.4,324.1 270.5,329.0 265.9,326.4 268.1,320.5 265.4,317.6 259.3,319.2 257.2,314.4 262.4,310.9 262.0,307.0 256.1,304.7 257.2,299.6 263.5,299.9 265.4,296.4 262.0,291.1 265.9,287.6 270.8,291.5 274.4,289.9 274.8,283.6 280.0,283.0 281.7,289.1 285.6,289.9 289.5,285.0 294.1,287.6 291.9,293.5 294.6,296.4 300.7,294.8 302.8,299.6 297.6,303.1" fill="#129c24"/><circle cx="280" cy="307" r="9" fill="#fff"/><polygon points="336.2,488.0 340.9,489.8 340.1,493.9 335.1,493.7 333.5,496.4 336.3,500.6 333.2,503.4 329.3,500.3 326.4,501.6 326.1,506.5 322.0,507.0 320.7,502.2 317.6,501.6 314.5,505.4 310.8,503.4 312.6,498.7 310.5,496.4 305.6,497.7 303.9,493.9 308.1,491.1 307.8,488.0 303.1,486.2 303.9,482.1 308.9,482.3 310.5,479.6 307.7,475.4 310.8,472.6 314.7,475.7 317.6,474.4 317.9,469.5 322.0,469.0 323.3,473.8 326.4,474.4 329.5,470.6 333.2,472.6 331.4,477.3 333.5,479.6 338.4,478.3 340.1,482.1 335.9,484.9" fill="#0c2f62"/><circle cx="322" cy="488" r="7" fill="#fff"/><rect x="115" y="92" width="75" height="123" rx="4" fill="#e4e6ea" /><circle cx="110" cy="140" r="18" fill="#38b6f2"/><circle cx="112" cy="195" r="17" fill="#0c2f62"/><rect x="138" y="128" width="42" height="9" rx="0" fill="#8ad0f4" /><rect x="138" y="143" width="42" height="9" rx="0" fill="#8ad0f4" /><rect x="138" y="158" width="42" height="9" rx="0" fill="#8ad0f4" /><rect x="138" y="182" width="42" height="9" rx="0" fill="#8ad0f4" /><rect x="138" y="197" width="42" height="9" rx="0" fill="#8ad0f4" /><path d="M208 158 H238 M228 148 L240 158 L228 168" stroke="#c8ccd4" stroke-width="4" fill="none"/><rect x="708" y="65" width="157" height="207" rx="8" fill="#686868" /><rect x="722" y="80" width="129" height="170" rx="0" fill="#fff" /><rect x="745" y="100" width="90" height="140" rx="0" fill="#e8e8e8" /><circle cx="760" cy="148" r="18" fill="#38b6f2"/><circle cx="762" cy="205" r="17" fill="#0c2f62"/><rect x="788" y="140" width="40" height="9" rx="0" fill="#8ad0f4" /><rect x="788" y="155" width="40" height="9" rx="0" fill="#8ad0f4" /><rect x="788" y="170" width="40" height="9" rx="0" fill="#8ad0f4" /><rect x="788" y="195" width="40" height="9" rx="0" fill="#8ad0f4" /><rect x="788" y="210" width="40" height="9" rx="0" fill="#8ad0f4" /><rect x="775" y="257" width="23" height="9" rx="0" fill="#fff" /><rect x="1020" y="258" width="58" height="117" rx="8" fill="#686868" /><rect x="1028" y="275" width="42" height="75" rx="0" fill="#fff" /><rect x="1034" y="295" width="30" height="40" rx="0" fill="#8ad0f4" /><rect x="648" y="445" width="287" height="185" rx="6" fill="#686868" /><rect x="662" y="458" width="259" height="154" rx="0" fill="#fff" /><rect x="620" y="625" width="345" height="17" rx="6" fill="#555" /><rect x="675" y="468" width="65" height="12" rx="0" fill="#38b6f2" /><rect x="780" y="470" width="130" height="8" rx="0" fill="#b8e0f4" /><path d="M690 515 Q720 495 760 500 L770 530 L750 560 L745 590 L730 560 L710 545 Z" fill="#129c24"/><path d="M775 510 Q820 490 880 505 L900 520 L880 545 L890 580 L860 585 L840 560 L810 570 L795 545 Z" fill="#129c24"/><rect x="895" y="52" width="50" height="38" rx="3" fill="#3ab4f0"/><path d="M899 57 L920.0 74.0 L941 57" fill="none" stroke="#fff" stroke-width="4"/><rect x="180" y="250" width="52" height="38" rx="3" fill="#3ab4f0"/><path d="M184 255 L206.0 272.0 L228 255" fill="none" stroke="#fff" stroke-width="4"/><rect x="640" y="372" width="55" height="38" rx="3" fill="#3ab4f0"/><path d="M644 377 L667.5 394.0 L691 377" fill="none" stroke="#fff" stroke-width="4"/><rect x="980" y="150" width="48" height="53" rx="4" fill="#d8f0d8" stroke="#3aa83a" stroke-width="4" opacity="0.9"/><path d="M990 191 L1022 158" stroke="#3aa83a" stroke-width="9" opacity="0.9"/><rect x="62" y="260" width="56" height="68" rx="4" fill="#d8f0d8" stroke="#3aa83a" stroke-width="4" opacity="0.9"/><path d="M72 316 L112 268" stroke="#3aa83a" stroke-width="9" opacity="0.9"/><rect x="650" y="285" width="45" height="50" rx="4" fill="#d8f0d8" stroke="#3aa83a" stroke-width="4" opacity="0.9"/><path d="M660 323 L689 293" stroke="#3aa83a" stroke-width="9" opacity="0.9"/><rect x="320" y="557" width="44" height="51" rx="4" fill="#d8f0d8" stroke="#3aa83a" stroke-width="4" opacity="0.9"/><path d="M330 596 L358 565" stroke="#3aa83a" stroke-width="9" opacity="0.9"/><circle cx="852" cy="370" r="30" fill="#0c2f62"/><path d="M852 370 L852 340 A30 30 0 0 1 882 370Z" fill="#38b6f2"/><path d="M940 395 Q985 410 988 450 L955 455 Q950 430 925 420Z" fill="#129c24"/><path d="M950 460 L990 458 L975 490Z" fill="#38b6f2"/><path d="M880 425 L945 480 L930 500 L870 450Z" fill="#0c2f62"/><text x="965" y="570" font-family="Liberation Sans, sans-serif" font-weight="bold" font-size="58" fill="#129c24">$</text><text x="775" y="412" font-family="Liberation Sans, sans-serif" font-weight="bold" font-size="30" fill="#129c24">$</text><text x="893" y="355" font-family="Liberation Sans, sans-serif" font-weight="bold" font-size="28" fill="#129c24">$</text><path d="M420 640 V612 H445 V640 M452 640 V580 H477 V640 M484 640 V548 H505 V640" fill="#eaf6fe" stroke="#8ad0f4" stroke-width="5"/></svg></g>
<g filter="url(#soft)"><svg x="991.7" y="253.3" width="135.50" height="94.40" viewBox="43 35 875 610" preserveAspectRatio="none" overflow="hidden"><defs><linearGradient id="brg" x1="0" x2="1" y1="0" y2="1"><stop offset="0" stop-color="#2a3cc4"/><stop offset="0.5" stop-color="#1c2a9c"/><stop offset="1" stop-color="#0a1248"/></linearGradient><radialGradient id="brn" cx="0.5" cy="0.45" r="0.6"><stop offset="0" stop-color="#6cb0f4"/><stop offset="0.6" stop-color="#4084dc"/><stop offset="1" stop-color="#2452b8"/></radialGradient></defs><rect x="43" y="35" width="875" height="610" rx="0" fill="url(#brg)" /><rect x="260" y="35" width="658" height="85" rx="0" fill="#0a103a" opacity="0.8"/><path d="M840 35 H918 V645 H780 Q860 400 840 35Z" fill="#101a70" opacity="0.7"/><path d="M60 35 L210 170 V330 L60 520.0" fill="none" stroke="#4a5ce0" stroke-width="10" opacity="0.7"/><path d="M98 35 L248 170 V330 L98 539.0" fill="none" stroke="#4a5ce0" stroke-width="10" opacity="0.7"/><path d="M136 35 L286 170 V330 L136 558.0" fill="none" stroke="#4a5ce0" stroke-width="10" opacity="0.7"/><path d="M174 35 L324 170 V330 L174 577.0" fill="none" stroke="#4a5ce0" stroke-width="10" opacity="0.7"/><path d="M212 35 L362 170 V330 L212 596.0" fill="none" stroke="#4a5ce0" stroke-width="10" opacity="0.7"/><path d="M250 35 L400 170 V330 L250 615.0" fill="none" stroke="#4a5ce0" stroke-width="10" opacity="0.7"/><circle cx="70" cy="60" r="9" fill="#9ab8ff"/><circle cx="120" cy="110" r="9" fill="#9ab8ff"/><circle cx="190" cy="80" r="9" fill="#9ab8ff"/><circle cx="250" cy="100" r="9" fill="#9ab8ff"/><circle cx="300" cy="150" r="9" fill="#9ab8ff"/><circle cx="240" cy="190" r="9" fill="#9ab8ff"/><circle cx="90" cy="420" r="9" fill="#9ab8ff"/><circle cx="140" cy="480" r="9" fill="#9ab8ff"/><circle cx="60" cy="560" r="9" fill="#9ab8ff"/><circle cx="200" cy="520" r="9" fill="#9ab8ff"/><circle cx="260" cy="450" r="9" fill="#9ab8ff"/><circle cx="300" cy="250" r="9" fill="#9ab8ff"/><path d="M75 185 L120 200 L165 265 H240 V305 H165 L120 365 L75 380 L60 350 L110 285 L60 215Z" fill="#0a0a12"/><path d="M75 185 L120 200 L110 240 L60 215Z M75 380 L120 365 L110 330 L60 350Z M190 265 H240 V305 H190Z" fill="#444" opacity="0.8"/><path d="M280 330 Q260 420 300 470 L330 645 H860 Q800 520 870 400 L500 380Z" fill="#1a1450" opacity="0.92"/><path d="M300 400 Q420 380 560 450 Q640 500 660 645 H330 L300 470Z" fill="#3a2a80" opacity="0.6"/><path d="M600 480 Q760 560 900 470 L918 645 H700Z" fill="#07103a" opacity="0.9"/><path d="M310 300 Q300 170 420 100 Q560 30 720 80 Q880 140 885 290 Q880 400 800 430 Q780 490 700 500 Q640 500 610 450 Q560 400 480 400 Q340 390 310 300Z" fill="url(#brn)" stroke="#d8f0ff" stroke-width="9"/><path d="M470 330 Q440 240 540 200 Q640 180 690 250 Q710 320 640 340 Q560 350 520 390" fill="#4c96e6" stroke="#e0f4ff" stroke-width="9"/><path d="M620 380 Q680 350 760 370 Q830 400 800 430 Q770 490 700 495 Q640 480 620 380Z" fill="#5aa2ea" stroke="#e0f4ff" stroke-width="8"/><path d="M380 160 Q440 130 470 180" fill="none" stroke="#cfeaff" stroke-width="7" opacity="0.9"/><path d="M500 90 Q540 140 520 190" fill="none" stroke="#cfeaff" stroke-width="7" opacity="0.9"/><path d="M620 70 Q640 130 700 150" fill="none" stroke="#cfeaff" stroke-width="7" opacity="0.9"/><path d="M760 110 Q740 180 800 220" fill="none" stroke="#cfeaff" stroke-width="7" opacity="0.9"/><path d="M340 260 Q400 250 430 300" fill="none" stroke="#cfeaff" stroke-width="7" opacity="0.9"/><path d="M720 260 Q780 280 860 260" fill="none" stroke="#cfeaff" stroke-width="7" opacity="0.9"/><path d="M400 340 Q440 350 470 330" fill="none" stroke="#cfeaff" stroke-width="7" opacity="0.9"/><path d="M560 120 Q600 160 660 150" fill="none" stroke="#cfeaff" stroke-width="7" opacity="0.9"/><circle cx="837" cy="403" r="5" fill="#e8f8ff" opacity="0.8"/><circle cx="369" cy="118" r="5" fill="#e8f8ff" opacity="0.8"/><circle cx="774" cy="333" r="5" fill="#e8f8ff" opacity="0.8"/><circle cx="688" cy="192" r="5" fill="#e8f8ff" opacity="0.8"/><circle cx="655" cy="290" r="5" fill="#e8f8ff" opacity="0.8"/><circle cx="642" cy="142" r="5" fill="#e8f8ff" opacity="0.8"/><circle cx="564" cy="220" r="5" fill="#e8f8ff" opacity="0.8"/><circle cx="716" cy="418" r="5" fill="#e8f8ff" opacity="0.8"/><circle cx="834" cy="270" r="5" fill="#e8f8ff" opacity="0.8"/><circle cx="571" cy="179" r="5" fill="#e8f8ff" opacity="0.8"/><circle cx="359" cy="99" r="5" fill="#e8f8ff" opacity="0.8"/><circle cx="582" cy="195" r="5" fill="#e8f8ff" opacity="0.8"/><circle cx="538" cy="384" r="5" fill="#e8f8ff" opacity="0.8"/><circle cx="613" cy="275" r="5" fill="#e8f8ff" opacity="0.8"/><circle cx="463" cy="98" r="5" fill="#e8f8ff" opacity="0.8"/><circle cx="509" cy="135" r="5" fill="#e8f8ff" opacity="0.8"/><circle cx="605" cy="420" r="5" fill="#e8f8ff" opacity="0.8"/><circle cx="691" cy="150" r="5" fill="#e8f8ff" opacity="0.8"/><circle cx="805" cy="353" r="5" fill="#e8f8ff" opacity="0.8"/><circle cx="722" cy="389" r="5" fill="#e8f8ff" opacity="0.8"/><circle cx="737" cy="351" r="5" fill="#e8f8ff" opacity="0.8"/><circle cx="524" cy="414" r="5" fill="#e8f8ff" opacity="0.8"/><circle cx="840" cy="143" r="5" fill="#e8f8ff" opacity="0.8"/><circle cx="732" cy="326" r="5" fill="#e8f8ff" opacity="0.8"/><circle cx="580" cy="265" r="5" fill="#e8f8ff" opacity="0.8"/><circle cx="595" cy="395" r="5" fill="#e8f8ff" opacity="0.8"/><circle cx="600" cy="364" r="5" fill="#e8f8ff" opacity="0.8"/><circle cx="524" cy="381" r="5" fill="#e8f8ff" opacity="0.8"/><circle cx="808" cy="242" r="5" fill="#e8f8ff" opacity="0.8"/><circle cx="635" cy="394" r="5" fill="#e8f8ff" opacity="0.8"/><circle cx="716" cy="251" r="5" fill="#e8f8ff" opacity="0.8"/><circle cx="455" cy="197" r="5" fill="#e8f8ff" opacity="0.8"/><circle cx="704" cy="145" r="5" fill="#e8f8ff" opacity="0.8"/><circle cx="812" cy="178" r="5" fill="#e8f8ff" opacity="0.8"/><circle cx="814" cy="192" r="5" fill="#e8f8ff" opacity="0.8"/><circle cx="838" cy="323" r="5" fill="#e8f8ff" opacity="0.8"/><circle cx="602" cy="261" r="5" fill="#e8f8ff" opacity="0.8"/><circle cx="679" cy="284" r="5" fill="#e8f8ff" opacity="0.8"/><circle cx="502" cy="159" r="5" fill="#e8f8ff" opacity="0.8"/><circle cx="606" cy="398" r="5" fill="#e8f8ff" opacity="0.8"/><rect x="715" y="172" width="38" height="38" rx="0" fill="#0a0a14" /><rect x="680" y="430" width="26" height="40" rx="0" fill="#0a0a14" /><rect x="330" y="378" width="70" height="28" rx="0" fill="#0a0a14" /><rect x="900" y="180" width="18" height="60" rx="0" fill="#0a0a14" /><rect x="900" y="330" width="18" height="50" rx="0" fill="#0a0a14" /><circle cx="80" cy="620" r="16" fill="#9ae8ff"/><text x="133" y="615" font-family="Liberation Sans, sans-serif" font-size="84" fill="#f4f4fa" textLength="590" lengthAdjust="spacingAndGlyphs">Generative AI</text></svg></g>
<g filter="url(#soft)"><svg x="991.7" y="466.25" width="131.60" height="65.45" viewBox="55 35 1090 543" preserveAspectRatio="none" overflow="hidden"><defs><linearGradient id="ftg" x1="0" x2="1" y1="0" y2="0"><stop offset="0" stop-color="#1c5a9c"/><stop offset="0.12" stop-color="#123a6c"/><stop offset="0.2" stop-color="#0a1626"/><stop offset="0.6" stop-color="#0a1422"/><stop offset="1" stop-color="#0c2a58"/></linearGradient></defs><rect x="55" y="35" width="1090" height="543" rx="0" fill="url(#ftg)" /><path d="M55 35 H190 L170 578 H55Z" fill="#2468b0" opacity="0.6"/><path d="M55 120 L190 260" stroke="#8ac0f0" stroke-width="3" opacity="0.6"/><path d="M60 300 L180 80" stroke="#8ac0f0" stroke-width="3" opacity="0.6"/><path d="M55 400 L170 330" stroke="#8ac0f0" stroke-width="3" opacity="0.6"/><path d="M70 560 L160 420" stroke="#8ac0f0" stroke-width="3" opacity="0.6"/><path d="M55 220 L150 240" stroke="#8ac0f0" stroke-width="3" opacity="0.6"/><path d="M100 35 L140 200" stroke="#8ac0f0" stroke-width="3" opacity="0.6"/><path d="M545 35 H630 L600 130 Q585 150 570 130Z" fill="#8a1a3a"/><path d="M660 35 H1145 V260 H720 L665 150Z" fill="#0c4c98"/><path d="M700 35 H1145 V120 H700Z" fill="#0a3a7a" opacity="0.6"/><polygon points="720,60 1060,60 1110,150 1060,240 720,240 668,150" fill="#0f58a8" stroke="#3a9ae0" stroke-width="5" opacity="0.95"/><rect x="700" y="248" width="360" height="10" rx="0" fill="#8ae8f0" opacity="0.9"/><rect x="760" y="40" width="240" height="8" rx="0" fill="#4ac8f0" opacity="0.8"/><polygon points="342,171 301,249 219,249 178,171 219,93 301,93" fill="#0a1424" stroke="#3fa8a0" stroke-width="4.5" stroke-linejoin="round"/><polygon points="468,248 427,326 345,326 304,248 345,170 427,170" fill="#0a1424" stroke="#3fa8a0" stroke-width="4.5" stroke-linejoin="round"/><polygon points="590,171 549,249 467,249 426,171 467,93 549,93" fill="#0a1424" stroke="#3fa8a0" stroke-width="4.5" stroke-linejoin="round"/><polygon points="714,248 673,326 591,326 550,248 591,170 673,170" fill="#0a1424" stroke="#3fa8a0" stroke-width="4.5" stroke-linejoin="round"/><polygon points="342,328 301,406 219,406 178,328 219,250 301,250" fill="#0a1424" stroke="#3fa8a0" stroke-width="4.5" stroke-linejoin="round"/><polygon points="468,408 427,486 345,486 304,408 345,330 427,330" fill="#0a1424" stroke="#3fa8a0" stroke-width="4.5" stroke-linejoin="round"/><polygon points="590,328 549,406 467,406 426,328 467,250 549,250" fill="#0a1424" stroke="#3fa8a0" stroke-width="4.5" stroke-linejoin="round"/><polygon points="714,408 673,486 591,486 550,408 591,330 673,330" fill="#0a1424" stroke="#3fa8a0" stroke-width="4.5" stroke-linejoin="round"/><polygon points="832,328 791,406 709,406 668,328 709,250 791,250" fill="#0a1424" stroke="#3fa8a0" stroke-width="4.5" stroke-linejoin="round"/><circle cx="262" cy="180" r="26" fill="none" stroke="#7ee8d8" stroke-width="9"/><path d="M245 160 V140 Q262 115 280 140 V160" fill="none" stroke="#7ee8d8" stroke-width="8"/><path d="M340 270 H432 V250 Q415 225 400 240 Q385 215 370 240 Q355 225 340 250Z" fill="none" stroke="#7ee8d8" stroke-width="7"/><path d="M468 160 Q510 115 552 160 M482 180 Q510 150 538 180" fill="none" stroke="#7ee8d8" stroke-width="9"/><circle cx="510" cy="205" r="10" fill="#fff"/><circle cx="632" cy="245" r="34" fill="none" stroke="#7ee8d8" stroke-width="7"/><text x="617" y="262" font-family="Liberation Sans, sans-serif" font-size="46" fill="#7ee8d8">$</text><circle cx="250" cy="355" r="24" fill="none" stroke="#7ee8d8" stroke-width="10"/><circle cx="285" cy="315" r="16" fill="none" stroke="#7ee8d8" stroke-width="8"/><rect x="345" y="385" width="85" height="55" rx="5" fill="none" stroke="#7ee8d8" stroke-width="8"/><path d="M350 392 L387 420 L425 392" fill="none" stroke="#7ee8d8" stroke-width="7"/><path d="M470 355 Q455 330 485 322 Q495 295 525 305 Q550 300 552 328 Q570 345 548 358Z" fill="#e8fbff"/><circle cx="628" cy="400" r="24" fill="none" stroke="#7ee8d8" stroke-width="7"/><rect x="616" y="428" width="24" height="22" fill="#7ee8d8"/><path d="M705 315 H770 L760 350 H720Z" fill="none" stroke="#7ee8d8" stroke-width="7"/><path d="M150 370 L175 460 H125Z" fill="#7ee8d8" opacity="0.9"/><path d="M750 310 Q800 290 830 320 L900 350 Q980 300 1060 220 Q1110 190 1135 215 Q1130 250 1090 290 Q1040 380 980 440 Q920 480 860 470 Q800 440 760 390 Q740 350 750 310Z" fill="#c48c70"/><path d="M750 310 Q800 290 830 320 L880 350 Q860 400 800 390 Q760 370 750 310Z" fill="#e8c8b8"/><path d="M1060 220 Q1110 190 1135 215 Q1130 250 1090 290 Q1060 280 1060 220Z" fill="#e0a888"/><path d="M860 470 Q920 480 980 440 Q1040 380 1090 300 L1145 330 V578 H900Z" fill="#0a1220"/><path d="M880 500 Q960 510 1040 440" fill="none" stroke="#3a4a60" stroke-width="10"/><text x="725" y="185" font-family="Liberation Sans, sans-serif" font-size="96" fill="#e8f0fa" textLength="320" lengthAdjust="spacingAndGlyphs">FINTECH</text><text x="358" y="150" font-family="Liberation Sans, sans-serif" font-size="84" fill="#9ad8ff" textLength="58" lengthAdjust="spacingAndGlyphs">AI</text></svg></g>
<g filter="url(#soft)"><svg x="27.3" y="234.6" width="185.90" height="88.70" viewBox="43 38 1117 532" preserveAspectRatio="none" overflow="hidden"><defs><linearGradient id="wdl" x1="0" x2="1" y1="0" y2="0"><stop offset="0" stop-color="#18b4d0"/><stop offset="0.22" stop-color="#0e78c4"/><stop offset="0.7" stop-color="#0c58b4"/><stop offset="1" stop-color="#0c4498"/></linearGradient><linearGradient id="wdr" x1="0" x2="1" y1="0" y2="1"><stop offset="0" stop-color="#0c4c90"/><stop offset="0.5" stop-color="#0e4084"/><stop offset="1" stop-color="#18286c"/></linearGradient></defs><rect x="43" y="38" width="597" height="532" rx="0" fill="url(#wdl)" /><rect x="630" y="38" width="530" height="532" rx="0" fill="url(#wdr)" /><path d="M50 310 H400 L440 570 H60Z" fill="#0c2468"/><path d="M90 320 H400 L370 380 H100Z" fill="#142878"/><path d="M60 385 H420 L430 570 H65Z" fill="#103488" opacity="0.9"/><rect x="180" y="505" width="110" height="55" rx="4" fill="#2a5ab0" /><rect x="43" y="210" width="127" height="95" rx="0" fill="#101060" /><text x="58" y="275" font-family="Liberation Sans, sans-serif" font-size="46" fill="#c8a0f0" textLength="95" lengthAdjust="spacingAndGlyphs">WEB</text><text x="55" y="312" font-family="Liberation Sans, sans-serif" font-size="40" fill="#b890e8" textLength="100" lengthAdjust="spacingAndGlyphs">SIGN</text><path d="M175 80 L195 120 L225 95 L215 135 L250 140 L215 160 L225 195 L190 170 L165 200 L160 160 L120 150 L155 130 L140 95 L170 115Z" fill="#1aa830"/><path d="M175 110 L195 135 L215 125 L205 150 L190 160 L170 150 L160 130Z" fill="#3ad04a"/><circle cx="65" cy="155" r="45" fill="none" stroke="#f06090" stroke-width="16" opacity="0.9"/><circle cx="465" cy="72" r="20" fill="none" stroke="#2a70f0" stroke-width="8"/><circle cx="540" cy="150" r="26" fill="none" stroke="#30e070" stroke-width="12"/><circle cx="492" cy="305" r="22" fill="none" stroke="#f04088" stroke-width="12"/><circle cx="585" cy="105" r="22" fill="#208868" opacity="0.7"/><circle cx="560" cy="430" r="40" fill="#0a3a90" opacity="0.7"/><circle cx="468" cy="205" r="38" fill="#f0e8e0"/><circle cx="468" cy="203" r="29" fill="#5a2810"/><text x="302" y="118" font-family="Liberation Sans, sans-serif" font-size="32" fill="#60b0ff" textLength="118" lengthAdjust="spacingAndGlyphs">&lt;HTML&gt;</text><text x="495" y="84" font-family="Liberation Sans, sans-serif" font-size="30" fill="#60a0ff" textLength="50" lengthAdjust="spacingAndGlyphs">CSS</text><text x="582" y="162" font-family="Liberation Sans, sans-serif" font-size="30" fill="#40e090" textLength="28" lengthAdjust="spacingAndGlyphs">JS</text><text x="522" y="316" font-family="Liberation Sans, sans-serif" font-size="30" fill="#c060c0" textLength="48" lengthAdjust="spacingAndGlyphs">PHP</text><text x="468" y="392" font-family="Liberation Sans, sans-serif" font-size="30" fill="#60c0ff" textLength="85" lengthAdjust="spacingAndGlyphs" text-decoration="underline">MySQL</text><rect x="288" y="140" width="61.24432807636913" height="7" rx="0" fill="#f060c0" opacity="0.85"/><rect x="288" y="151" width="75.64524183496133" height="7" rx="0" fill="#f060c0" opacity="0.85"/><rect x="288" y="162" width="45.9863586111631" height="7" rx="0" fill="#e0a0e0" opacity="0.85"/><rect x="288" y="173" width="122.6159538778947" height="7" rx="0" fill="#f0d060" opacity="0.85"/><rect x="288" y="184" width="108.86463422548945" height="7" rx="0" fill="#f060c0" opacity="0.85"/><rect x="288" y="195" width="88.30120073573323" height="7" rx="0" fill="#f060c0" opacity="0.85"/><rect x="288" y="206" width="55.53980763568319" height="7" rx="0" fill="#f060c0" opacity="0.85"/><rect x="288" y="217" width="59.296038932102476" height="7" rx="0" fill="#f0d060" opacity="0.85"/><rect x="288" y="228" width="114.60280439005771" height="7" rx="0" fill="#f0d060" opacity="0.85"/><rect x="288" y="239" width="112.04030546886696" height="7" rx="0" fill="#f060c0" opacity="0.85"/><rect x="288" y="250" width="67.88649615695817" height="7" rx="0" fill="#e0a0e0" opacity="0.85"/><rect x="288" y="261" width="105.8705237990846" height="7" rx="0" fill="#f0d060" opacity="0.85"/><rect x="288" y="272" width="119.20456762250797" height="7" rx="0" fill="#f060c0" opacity="0.85"/><rect x="288" y="283" width="94.52666953478922" height="7" rx="0" fill="#f0d060" opacity="0.85"/><rect x="288" y="294" width="85.5358398139374" height="7" rx="0" fill="#f060c0" opacity="0.85"/><rect x="288" y="316" width="82.62290988266307" height="7" rx="0" fill="#f060c0" opacity="0.85"/><rect x="288" y="327" width="124.11295275099172" height="7" rx="0" fill="#f0d060" opacity="0.85"/><rect x="288" y="338" width="89.28749826283484" height="7" rx="0" fill="#f060c0" opacity="0.85"/><rect x="288" y="349" width="121.79832604732178" height="7" rx="0" fill="#e0a0e0" opacity="0.85"/><rect x="288" y="360" width="119.40855158909108" height="7" rx="0" fill="#f0d060" opacity="0.85"/><rect x="288" y="371" width="85.75351377994764" height="7" rx="0" fill="#e0a0e0" opacity="0.85"/><rect x="288" y="382" width="93.90212249709907" height="7" rx="0" fill="#e0a0e0" opacity="0.85"/><rect x="288" y="393" width="54.51885455094475" height="7" rx="0" fill="#f060c0" opacity="0.85"/><rect x="288" y="404" width="113.13330867711585" height="7" rx="0" fill="#f060c0" opacity="0.85"/><rect x="288" y="415" width="44.168979910316125" height="7" rx="0" fill="#e0a0e0" opacity="0.85"/><rect x="445" y="450" width="49.6303248131353" height="6" rx="0" fill="#e0a0e0" opacity="0.85"/><rect x="445" y="460" width="62.9868060280495" height="6" rx="0" fill="#f060c0" opacity="0.85"/><rect x="445" y="470" width="99.8095211920479" height="6" rx="0" fill="#f060c0" opacity="0.85"/><rect x="445" y="480" width="58.89562594851276" height="6" rx="0" fill="#f060c0" opacity="0.85"/><rect x="445" y="490" width="74.28654872537129" height="6" rx="0" fill="#f060c0" opacity="0.85"/><rect x="445" y="500" width="54.90815282251464" height="6" rx="0" fill="#e0a0e0" opacity="0.85"/><rect x="445" y="510" width="52.44682322748196" height="6" rx="0" fill="#e0a0e0" opacity="0.85"/><rect x="445" y="520" width="93.30205710714608" height="6" rx="0" fill="#f060c0" opacity="0.85"/><rect x="445" y="530" width="34.3127169428123" height="6" rx="0" fill="#f060c0" opacity="0.85"/><rect x="445" y="540" width="83.56135689283929" height="6" rx="0" fill="#e0a0e0" opacity="0.85"/><rect x="445" y="550" width="46.61920188777282" height="6" rx="0" fill="#f060c0" opacity="0.85"/><rect x="445" y="560" width="42.42777854475901" height="6" rx="0" fill="#f060c0" opacity="0.85"/><rect x="280" y="130" width="8" height="430" rx="0" fill="#4090ff" opacity="0.8"/><rect x="428" y="445" width="8" height="115" rx="0" fill="#4090ff" opacity="0.8"/><rect x="106.13090882332511" y="356.37813466576836" width="-106.13090882332511" height="-356.37813466576836" rx="0" fill="#f06090" /><rect x="327.9412225690739" y="367.9631919254055" width="-327.9412225690739" height="-367.9631919254055" rx="0" fill="#f06090" /><rect x="286.0682686832207" y="368.1940416225828" width="-286.0682686832207" height="-368.1940416225828" rx="0" fill="#f06090" /><rect x="99.72875657625994" y="338.00484105553795" width="-99.72875657625994" height="-338.00484105553795" rx="0" fill="#f06090" /><rect x="346.16175681171194" y="359.8857745851317" width="-346.16175681171194" height="-359.8857745851317" rx="0" fill="#f06090" /><rect x="201.71119707790763" y="367.44887653088415" width="-201.71119707790763" height="-367.44887653088415" rx="0" fill="#f06090" /><rect x="256.3327225805176" y="361.80675103142136" width="-256.3327225805176" height="-361.80675103142136" rx="0" fill="#f06090" /><rect x="171.28666595078784" y="333.61368421639327" width="-171.28666595078784" height="-333.61368421639327" rx="0" fill="#f06090" /><rect x="210.47698226510573" y="331.13969319501615" width="-210.47698226510573" height="-331.13969319501615" rx="0" fill="#f06090" /><rect x="194.22500502832617" y="368.2816130083107" width="-194.22500502832617" height="-368.2816130083107" rx="0" fill="#f06090" /><rect x="100" y="325" width="90" height="9" rx="0" fill="#f060a0" /><rect x="110" y="340" width="140" height="9" rx="0" fill="#a070f0" /><rect x="100" y="355" width="60" height="9" rx="0" fill="#f0c060" /><rect x="210" y="330" width="120" height="9" rx="0" fill="#f060a0" /><rect x="90" y="410" width="30" height="9" rx="0" fill="#40d0f0" /><rect x="250" y="430" width="24" height="9" rx="0" fill="#40d0f0" /><rect x="170" y="452" width="24" height="9" rx="0" fill="#40d0f0" /><rect x="110" y="490" width="30" height="9" rx="0" fill="#40d0f0" /><rect x="330" y="490" width="24" height="9" rx="0" fill="#40d0f0" /><rect x="300" y="240" width="20" height="9" rx="0" fill="#40d0f0" /><rect x="395" y="300" width="45" height="120" rx="6" fill="#0a1450" /><circle cx="418" cy="335" r="18" fill="#1a3890"/><rect x="190" y="232" width="58" height="46" rx="4" fill="none" stroke="#3a80e0" stroke-width="4"/><path d="M260 105 H300 M420 105 H465 V92" stroke="#30c080" stroke-width="3" fill="none"/><path d="M890 45 L1160 115 V330 L950 250Z" fill="#3a68c0" opacity="0.85"/><path d="M950 85 L1160 150 V300 L1000 240Z" fill="#5a8ad8" opacity="0.7"/><path d="M800 165 L1010 250 L985 440 L790 355Z" fill="#12347c"/><path d="M812 185 L920 228 L912 290 L806 248Z" fill="#4a94e4"/><path d="M930 232 L1000 262 L992 320 L922 292Z" fill="#4a8ae0"/><path d="M850 265 L925 298 L918 385 L842 350Z" fill="#2a68c8"/><path d="M932 305 L990 330 L982 420 L925 392Z" fill="#3a78d0"/><path d="M1010 260 L1160 320 V480 L1000 420Z" fill="#1a3a90"/><path d="M1090 210 L1160 235 V300 L1085 270Z" fill="#3a70c8" opacity="0.9"/><path d="M1040 140 L1100 160 L1095 230 L1035 208Z" fill="#5a60c0" opacity="0.8"/><path d="M745 480 L860 385 L1160 500 V570 H900Z" fill="#0c2a64"/><path d="M745 480 L860 385 L1000 440 L880 540Z" fill="#3a6aa4" opacity="0.9"/><path d="M745 480 L900 570 H880 L740 490Z" fill="#3aa0d0"/><path d="M740 215 L820 250 L790 465 L708 425Z" fill="#141848"/><path d="M748 240 L808 265 L800 330 L740 305Z" fill="#3a80d8"/><path d="M738 318 L798 343 L792 378 L732 355Z" fill="#2a68c0"/><path d="M730 365 L790 390 L784 430 L724 405Z" fill="#3a78d0"/><rect x="715" y="408" width="70" height="12" rx="0" fill="#f090b0" opacity="0.7"/><polygon points="885,300 915,338 885,375 855,338" fill="#f06a20"/><circle cx="885" cy="338" r="11" fill="none" stroke="#fff" stroke-width="4"/><circle cx="655" cy="262" r="7" fill="#ff5040"/><circle cx="690" cy="282" r="7" fill="#ff5040"/><circle cx="725" cy="295" r="7" fill="#ff5040"/><circle cx="965" cy="330" r="7" fill="#ff5040"/><circle cx="1000" cy="342" r="7" fill="#ff5040"/><circle cx="1035" cy="355" r="7" fill="#ff5040"/><circle cx="1070" cy="370" r="7" fill="#ff5040"/><path d="M655 262 L1150 400" stroke="#f06050" stroke-width="3" opacity="0.6"/><circle cx="680" cy="440" r="45" fill="#6a4a90" opacity="0.5"/><circle cx="1095" cy="530" r="30" fill="#a03080" opacity="0.7"/><rect x="830" y="118" width="130" height="4" rx="0" fill="#e060c0" opacity="0.6"/><rect x="844" y="124" width="130" height="4" rx="0" fill="#e060c0" opacity="0.6"/><rect x="858" y="130" width="130" height="4" rx="0" fill="#e060c0" opacity="0.6"/><rect x="872" y="136" width="130" height="4" rx="0" fill="#e060c0" opacity="0.6"/><rect x="886" y="142" width="130" height="4" rx="0" fill="#e060c0" opacity="0.6"/><rect x="900" y="148" width="130" height="4" rx="0" fill="#e060c0" opacity="0.6"/><rect x="914" y="154" width="130" height="4" rx="0" fill="#e060c0" opacity="0.6"/><rect x="928" y="160" width="130" height="4" rx="0" fill="#e060c0" opacity="0.6"/></svg></g>
<g filter="url(#soft)"><svg x="22.3" y="447.8" width="202.00" height="76.90" viewBox="42 32 1126 430" preserveAspectRatio="none" overflow="hidden"><defs><radialGradient id="bkl" cx="0.45" cy="0.65" r="0.8"><stop offset="0" stop-color="#0c54a8"/><stop offset="0.5" stop-color="#0a3c80"/><stop offset="1" stop-color="#08265a"/></radialGradient><linearGradient id="bkt" x1="0" x2="1" y1="0" y2="1"><stop offset="0" stop-color="#0c6c98"/><stop offset="0.45" stop-color="#0a4a88" stop-opacity="0"/></linearGradient></defs><rect x="42" y="32" width="518" height="430" rx="0" fill="url(#bkl)" /><rect x="42" y="32" width="518" height="430" rx="0" fill="url(#bkt)" /><rect x="556" y="32" width="26" height="430" rx="0" fill="#0a0e20" /><rect x="580" y="32" width="588" height="430" rx="0" fill="#17122c" /><ellipse cx="255" cy="365" rx="150" ry="55" fill="none" stroke="#7ae0ff" stroke-width="5" opacity="0.9"/><ellipse cx="250" cy="350" rx="180" ry="75" fill="#1a80e0" opacity="0.35"/><path d="M90 340 L230 290 L400 350 L290 420Z" fill="#0a1c50"/><path d="M110 340 L230 300 L370 350 L280 400Z" fill="#1a3a88"/><path d="M230 185 L405 250 L395 355 L225 290Z" fill="#2038a0" opacity="0.95"/><path d="M240 205 L395 262 L392 300 L238 245Z" fill="#3a58c8" opacity="0.8"/><path d="M185 205 l110 38 v14 l-110 -38Z" fill="#f04070" opacity="0.85"/><path d="M200 240 l60 21 v14 l-60 -21Z" fill="#ff6090" opacity="0.85"/><path d="M230 275 l70 24 v14 l-70 -24Z" fill="#f04070" opacity="0.85"/><path d="M310 290 l80 28 v14 l-80 -28Z" fill="#ff5080" opacity="0.85"/><path d="M310 335 l45 16 v14 l-45 -16Z" fill="#ff3060" opacity="0.85"/><path d="M180 215 l200 70 v14 l-200 -70Z" fill="#f04070" opacity="0.85"/><path d="M225 225 L250 234 V260 L225 251Z" fill="#d0e0ff"/><path d="M350 300 L372 308 V335 L350 327Z" fill="#c0d8ff"/><path d="M340 110 L430 70 L520 110 L520 170 L430 210 L340 170Z" fill="#1a4aa0"/><path d="M340 110 L430 70 L520 110 L430 150Z" fill="#2a6ac8"/><path d="M380 80 L440 55 L500 80 L440 105Z" fill="#3a78d0"/><path d="M330 170 L430 215 L530 170 L530 185 L430 232 L330 185Z" fill="#0a2a68"/><path d="M315 118 L385 145 V158 L315 130Z" fill="#e8a0c0"/><rect x="455" y="80" width="4" height="40" rx="0" fill="#30d0c0" opacity="0.8"/><rect x="465" y="60" width="4" height="60" rx="0" fill="#30d0c0" opacity="0.8"/><rect x="475" y="90" width="4" height="30" rx="0" fill="#30d0c0" opacity="0.8"/><rect x="485" y="45" width="4" height="75" rx="0" fill="#30d0c0" opacity="0.8"/><rect x="495" y="70" width="4" height="50" rx="0" fill="#30d0c0" opacity="0.8"/><rect x="505" y="85" width="4" height="35" rx="0" fill="#30d0c0" opacity="0.8"/><rect x="515" y="55" width="4" height="65" rx="0" fill="#30d0c0" opacity="0.8"/><rect x="525" y="75" width="4" height="45" rx="0" fill="#30d0c0" opacity="0.8"/><path d="M510 160 L552 190 L455 240 L455 275" fill="none" stroke="#50c0e0" stroke-width="3"/><path d="M400 300 Q440 290 460 275" fill="none" stroke="#50c0e0" stroke-width="3"/><ellipse cx="478" cy="272" rx="24" ry="13" fill="none" stroke="#60d0f0" stroke-width="5"/><circle cx="478" cy="272" r="6" fill="#a0f0ff"/><rect x="710" y="135" width="370" height="250" rx="18" fill="#7a7ae4" /><rect x="845" y="380" width="95" height="50" rx="0" fill="#8a88ec" /><rect x="745" y="420" width="270" height="28" rx="6" fill="#9a98f0" /><rect x="752" y="427" width="10" height="14" rx="0" fill="#6a68c8" /><rect x="768" y="427" width="10" height="14" rx="0" fill="#e8d870" /><rect x="784" y="427" width="10" height="14" rx="0" fill="#e8d870" /><rect x="800" y="427" width="10" height="14" rx="0" fill="#6a68c8" /><rect x="816" y="427" width="10" height="14" rx="0" fill="#e8d870" /><rect x="832" y="427" width="10" height="14" rx="0" fill="#e8d870" /><rect x="848" y="427" width="10" height="14" rx="0" fill="#6a68c8" /><rect x="864" y="427" width="10" height="14" rx="0" fill="#e8d870" /><rect x="880" y="427" width="10" height="14" rx="0" fill="#e8d870" /><rect x="896" y="427" width="10" height="14" rx="0" fill="#6a68c8" /><rect x="912" y="427" width="10" height="14" rx="0" fill="#e8d870" /><rect x="928" y="427" width="10" height="14" rx="0" fill="#e8d870" /><rect x="944" y="427" width="10" height="14" rx="0" fill="#6a68c8" /><rect x="960" y="427" width="10" height="14" rx="0" fill="#e8d870" /><rect x="976" y="427" width="10" height="14" rx="0" fill="#e8d870" /><rect x="992" y="427" width="10" height="14" rx="0" fill="#6a68c8" /><rect x="740" y="157" width="8" height="8" rx="4" fill="#f06060" /><rect x="758" y="157" width="8" height="8" rx="4" fill="#f0d040" /><rect x="776" y="157" width="8" height="8" rx="4" fill="#40d080" /><rect x="728" y="178" width="122" height="182" rx="10" fill="#8c8cf0" /><rect x="728" y="178" width="122" height="72" rx="10" fill="#7472d8" /><circle cx="787" cy="218" r="24" fill="#a8a4f0"/><rect x="738" y="262" width="102" height="8" rx="3" fill="#706ed4" /><rect x="738" y="282" width="102" height="8" rx="3" fill="#706ed4" /><rect x="738" y="302" width="102" height="8" rx="3" fill="#706ed4" /><rect x="738" y="322" width="102" height="8" rx="3" fill="#706ed4" /><rect x="738" y="340" width="102" height="8" rx="3" fill="#706ed4" /><rect x="888" y="78" width="244" height="250" rx="14" fill="#5c5a74" /><rect x="990" y="78" width="142" height="250" rx="14" fill="#6a6888" opacity="0.6"/><circle cx="917" cy="97" r="5" fill="#f06080"/><circle cx="935" cy="97" r="5" fill="#f0d040"/><circle cx="953" cy="97" r="5" fill="#40e080"/><rect x="912" y="128" width="38" height="8" rx="4" fill="#f04090" /><rect x="960" y="128" width="145" height="8" rx="4" fill="#f0d840" /><rect x="912" y="150" width="40" height="8" rx="4" fill="#7080f0" /><rect x="962" y="150" width="60" height="8" rx="4" fill="#c8a0e0" /><rect x="1032" y="150" width="58" height="8" rx="4" fill="#f05858" /><rect x="938" y="172" width="105" height="8" rx="4" fill="#e8d040" /><rect x="1053" y="172" width="50" height="8" rx="4" fill="#7a80e8" /><rect x="912" y="193" width="40" height="8" rx="4" fill="#c8a0e0" /><rect x="962" y="193" width="85" height="8" rx="4" fill="#f05880" /><rect x="932" y="214" width="40" height="8" rx="4" fill="#f04090" /><rect x="982" y="214" width="40" height="8" rx="4" fill="#e8d040" /><rect x="1032" y="214" width="60" height="8" rx="4" fill="#7080e8" /><rect x="958" y="236" width="40" height="8" rx="4" fill="#f0d840" /><rect x="1008" y="236" width="95" height="8" rx="4" fill="#c8a0c0" /><rect x="932" y="259" width="40" height="8" rx="4" fill="#a080e0" /><rect x="982" y="259" width="40" height="8" rx="4" fill="#7080f0" /><rect x="1032" y="259" width="60" height="8" rx="4" fill="#f0d040" /><rect x="912" y="285" width="40" height="8" rx="4" fill="#f04080" /><rect x="962" y="285" width="120" height="8" rx="4" fill="#40e070" /><rect x="600" y="147" width="86" height="88" rx="8" fill="#8a6a90" /><rect x="600" y="147" width="86" height="23" rx="8" fill="#a08098" /><text x="620" y="207" font-family="Liberation Sans, sans-serif" font-weight="bold" font-size="30" fill="#f0f0f8" textLength="46" lengthAdjust="spacingAndGlyphs">&lt;/&gt;</text><rect x="626" y="270" width="64" height="58" rx="8" fill="#3a3868" /><rect x="636" y="282" width="44" height="33" rx="4" fill="#f0c830" /><rect x="963" y="348" width="59" height="57" rx="8" fill="#2a2848" /><circle cx="993" cy="377" r="16" fill="#f0a020"/><path d="M993 377 L993 361 A16 16 0 0 1 1009 377Z" fill="#40c060"/><circle cx="993" cy="377" r="7" fill="#2a2848"/><polygon points="818.6,80.0 826.9,82.8 825.5,89.3 816.8,88.6 814.5,92.7 819.5,99.8 814.6,104.3 808.0,98.6 803.7,100.5 803.5,109.3 797.0,110.0 795.0,101.5 790.3,100.5 785.1,107.5 779.4,104.3 782.7,96.2 779.5,92.7 771.2,95.3 768.5,89.3 775.9,84.7 775.4,80.0 767.1,77.2 768.5,70.7 777.2,71.4 779.5,67.3 774.5,60.2 779.4,55.7 786.0,61.4 790.3,59.5 790.5,50.7 797.0,50.0 799.0,58.5 803.7,59.5 808.9,52.5 814.6,55.7 811.3,63.8 814.5,67.3 822.8,64.7 825.5,70.7 818.1,75.3" fill="#3a90f0"/><circle cx="797" cy="80" r="12" fill="#17122c"/><rect x="662" y="415" width="24" height="25" rx="4" fill="#c890f0" /><rect x="688" y="395" width="24" height="45" rx="4" fill="#8a78e8" /><rect x="714" y="375" width="24" height="65" rx="4" fill="#7068e0" /><ellipse cx="1072" cy="436" rx="28" ry="14" fill="#f4f4fa"/></svg></g>
<g filter="url(#soft)"><svg x="288.1" y="533.1" width="136.50" height="78.50" viewBox="62 38 1043 602" preserveAspectRatio="none" overflow="hidden"><defs><linearGradient id="cpg" x1="0" x2="0" y1="0" y2="1"><stop offset="0" stop-color="#a9c0d4"/><stop offset="0.55" stop-color="#94a8b8"/><stop offset="1" stop-color="#5c6268"/></linearGradient><radialGradient id="cps" cx="0.5" cy="0.5" r="0.5"><stop offset="0" stop-color="#eaf3fa"/><stop offset="0.6" stop-color="#cfe0ee" stop-opacity="0.8"/><stop offset="1" stop-color="#b4c8da" stop-opacity="0"/></radialGradient><filter id="cpb" x="-10%" y="-10%" width="120%" height="120%"><feGaussianBlur stdDeviation="9"/></filter></defs><rect x="62" y="38" width="1043" height="602" rx="0" fill="url(#cpg)" /><g filter="url(#cpb)"><ellipse cx="640" cy="230" rx="270" ry="330" fill="url(#cps)"/><ellipse cx="1030" cy="150" rx="190" ry="170" fill="url(#cps)"/><path d="M40 20 H200 L330 660 H40Z" fill="#55687a" opacity="0.9"/><path d="M40 220 L160 140 L260 660 H40Z" fill="#414e58" opacity="0.7"/><path d="M230 20 H480 L520 300 L470 660 H330Z" fill="#7890a8" opacity="0.8"/><path d="M400 20 H560 L600 200 L660 220 L650 380 L520 300Z" fill="#6a86a4" opacity="0.6"/><path d="M740 20 H900 L1130 300 V660 H820 L800 400Z" fill="#6480a0" opacity="0.85"/><path d="M900 20 L1130 250 V400 L820 80Z" fill="#9ab4d0" opacity="0.7"/><path d="M820 500 L1000 420 L1130 460 V660 H820Z" fill="#505e6c" opacity="0.85"/><path d="M40 540 H1130 V660 H40Z" fill="#3c3c3c" opacity="0.5"/><path d="M400 400 L620 380 L700 660 H420Z" fill="#d4dee6" opacity="0.6"/><path d="M560 440 L800 420 L830 660 H600Z" fill="#687078" opacity="0.5"/></g><rect x="240" y="560" width="420" height="16" rx="0" fill="#6a84b0" opacity="0.8"/><polygon points="307,180 276,234 214,234 183,180 214,126 276,126" fill="#fff" fill-opacity="0.07" stroke="#e8f0f8" stroke-opacity="0.4" stroke-width="4"/><polygon points="442,185 411,239 349,239 318,185 349,131 411,131" fill="#fff" fill-opacity="0.07" stroke="#e8f0f8" stroke-opacity="0.4" stroke-width="4"/><polygon points="602,160 571,214 509,214 478,160 509,106 571,106" fill="#fff" fill-opacity="0.07" stroke="#e8f0f8" stroke-opacity="0.4" stroke-width="4"/><polygon points="942,180 911,234 849,234 818,180 849,126 911,126" fill="#fff" fill-opacity="0.07" stroke="#e8f0f8" stroke-opacity="0.4" stroke-width="4"/><polygon points="340,350 309,404 247,404 216,350 247,296 309,296" fill="#fff" fill-opacity="0.07" stroke="#e8f0f8" stroke-opacity="0.4" stroke-width="4"/><polygon points="202,445 171,499 109,499 78,445 109,391 171,391" fill="#fff" fill-opacity="0.07" stroke="#e8f0f8" stroke-opacity="0.4" stroke-width="4"/><polygon points="502,465 471,519 409,519 378,465 409,411 471,411" fill="#fff" fill-opacity="0.07" stroke="#e8f0f8" stroke-opacity="0.4" stroke-width="4"/><polygon points="712,490 681,544 619,544 588,490 619,436 681,436" fill="#fff" fill-opacity="0.07" stroke="#e8f0f8" stroke-opacity="0.4" stroke-width="4"/><polygon points="912,440 881,494 819,494 788,440 819,386 881,386" fill="#fff" fill-opacity="0.07" stroke="#e8f0f8" stroke-opacity="0.4" stroke-width="4"/><polygon points="1082,330 1051,384 989,384 958,330 989,276 1051,276" fill="#fff" fill-opacity="0.07" stroke="#e8f0f8" stroke-opacity="0.4" stroke-width="4"/><path d="M225 150 H245 V212 H225Z M251 150 H268 V212 H251Z" fill="#f4f6fa" opacity="0.9"/><rect x="360" y="150" width="42" height="70" rx="4" fill="none" stroke="#e0e8f0" stroke-width="6" opacity="0.7"/><path d="M245 375 L278 315 L312 375Z" fill="none" stroke="#f0f4f8" stroke-width="7" opacity="0.9"/><circle cx="862" cy="165" r="20" fill="none" stroke="#f0f4f8" stroke-width="7"/><path d="M876 182 L900 215" stroke="#f8f8fc" stroke-width="10"/><circle cx="452" cy="450" r="22" fill="none" stroke="#f8f8fc" stroke-width="10"/><circle cx="418" cy="485" r="13" fill="none" stroke="#f8f8fc" stroke-width="7"/><path d="M975 355 H1068 V335 Q1055 320 1045 335 Q1030 305 1015 335 Q1000 320 990 335 Z" fill="#f4f6fa"/><rect x="828" y="420" width="44" height="44" fill="none" stroke="#e8eef4" stroke-width="6" opacity="0.8"/><path d="M115 470 L140 440 L175 410" fill="none" stroke="#e0e8f0" stroke-width="8" opacity="0.7"/><rect x="625" y="480" width="55" height="30" rx="0" fill="#e8eef4" opacity="0.6"/><rect x="500" y="150" width="80" height="25" rx="0" fill="#e8eef4" opacity="0.5"/><text x="365" y="355" font-family="Liberation Sans, sans-serif" font-weight="bold" font-size="98" fill="#fafcff" textLength="540" lengthAdjust="spacingAndGlyphs">COMPLIANCE</text></svg></g>
<g filter="url(#soft)"><svg x="554.5" y="525.8" width="113.50" height="76.10" viewBox="40 25 990 620" preserveAspectRatio="none" overflow="hidden"><rect x="40" y="25" width="990" height="620" rx="0" fill="#000" /><polygon points="130,532 560,372 912,476 600,650 430,650" fill="#0a0a0c" stroke="#8c8c98" stroke-width="5" stroke-linejoin="round"/><polygon points="190,528 560,392 852,472 585,625" fill="#1a33a6"/><polygon points="330,478 560,392 852,472 700,555" fill="#2a55d8" opacity="0.8"/><polygon points="300,543.0 339.0,520 378,543.0 339.0,566" fill="#f08a1e"/><polygon points="385,505.5 421.5,485 458,505.5 421.5,526" fill="#f0d21e"/><polygon points="362,587.5 400.0,565 438,587.5 400.0,610" fill="#4ab84a"/><polygon points="598,472.5 626.5,455 655,472.5 626.5,490" fill="#6ac0f0"/><polygon points="668,445.0 698.0,430 728,445.0 698.0,460" fill="#e04040"/><polygon points="590,547.5 645.0,520 700,547.5 645.0,575" fill="#3a6ae0"/><rect x="350" y="45" width="110" height="105" rx="24.2" fill="#a01008"/><rect x="354.4" y="45" width="101.2" height="94.5" rx="22.0" fill="#e8281e"/><circle cx="405.0" cy="94.2" r="22.0" fill="none" stroke="#fff" stroke-opacity="0.5" stroke-width="7.7"/><rect x="468" y="80" width="94" height="90" rx="20.7" fill="#4a8a10"/><rect x="471.8" y="80" width="86.5" height="81.0" rx="18.8" fill="#8ac828"/><circle cx="515.0" cy="122.2" r="18.8" fill="none" stroke="#fff" stroke-opacity="0.5" stroke-width="6.6"/><rect x="612" y="68" width="118" height="112" rx="26.0" fill="#1a5aa8"/><rect x="616.7" y="68" width="108.6" height="100.8" rx="23.6" fill="#3a9ae8"/><circle cx="671.0" cy="120.5" r="23.6" fill="none" stroke="#fff" stroke-opacity="0.5" stroke-width="8.3"/><rect x="240" y="185" width="110" height="110" rx="24.2" fill="#b07808"/><rect x="244.4" y="185" width="101.2" height="99.0" rx="22.0" fill="#f0b41e"/><circle cx="295.0" cy="236.7" r="22.0" fill="none" stroke="#fff" stroke-opacity="0.5" stroke-width="7.7"/><rect x="378" y="180" width="102" height="100" rx="22.4" fill="#1a6a2a"/><rect x="382.1" y="180" width="93.8" height="90.0" rx="20.4" fill="#3aa84a"/><circle cx="429.0" cy="226.9" r="20.4" fill="none" stroke="#fff" stroke-opacity="0.5" stroke-width="7.1"/><rect x="490" y="138" width="115" height="110" rx="25.3" fill="#b85408"/><rect x="494.6" y="138" width="105.8" height="99.0" rx="23.0" fill="#f08a1e"/><circle cx="547.5" cy="189.6" r="23.0" fill="none" stroke="#fff" stroke-opacity="0.5" stroke-width="8.1"/><rect x="650" y="190" width="115" height="115" rx="25.3" fill="#a03808"/><rect x="654.6" y="190" width="105.8" height="103.5" rx="23.0" fill="#e8641e"/><circle cx="707.5" cy="244.1" r="23.0" fill="none" stroke="#fff" stroke-opacity="0.5" stroke-width="8.1"/><rect x="805" y="205" width="130" height="125" rx="28.6" fill="#4a8a08"/><rect x="810.2" y="205" width="119.6" height="112.5" rx="26.0" fill="#8acc1e"/><circle cx="870.0" cy="263.6" r="26.0" fill="none" stroke="#fff" stroke-opacity="0.5" stroke-width="9.1"/><rect x="310" y="280" width="95" height="100" rx="20.9" fill="#a88808"/><rect x="313.8" y="280" width="87.4" height="90.0" rx="19.0" fill="#e8c81e"/><circle cx="357.5" cy="327.1" r="19.0" fill="none" stroke="#fff" stroke-opacity="0.5" stroke-width="6.7"/><rect x="215" y="330" width="100" height="100" rx="22.0" fill="#4a0a80"/><rect x="219.0" y="330" width="92.0" height="90.0" rx="20.0" fill="#8a2ec0"/><circle cx="265.0" cy="377.0" r="20.0" fill="none" stroke="#fff" stroke-opacity="0.5" stroke-width="7.0"/><rect x="715" y="290" width="110" height="100" rx="24.2" fill="#0a3a98"/><rect x="719.4" y="290" width="101.2" height="90.0" rx="22.0" fill="#2a7ad8"/><circle cx="770.0" cy="336.7" r="22.0" fill="none" stroke="#fff" stroke-opacity="0.5" stroke-width="7.7"/><rect x="590" y="335" width="110" height="105" rx="24.2" fill="#5a8a08"/><rect x="594.4" y="335" width="101.2" height="94.5" rx="22.0" fill="#9acc1e"/><circle cx="645.0" cy="384.2" r="22.0" fill="none" stroke="#fff" stroke-opacity="0.5" stroke-width="7.7"/><rect x="528" y="240" width="112" height="110" rx="24.6" fill="#900a5a"/><rect x="532.5" y="240" width="103.0" height="99.0" rx="22.4" fill="#d81e9a"/><circle cx="584.0" cy="291.6" r="22.4" fill="none" stroke="#fff" stroke-opacity="0.5" stroke-width="7.8"/><rect x="405" y="285" width="130" height="130" rx="28.6" fill="#1a2a90"/><rect x="410.2" y="285" width="119.6" height="117.0" rx="26.0" fill="#3a5ad0"/><circle cx="470.0" cy="346.1" r="26.0" fill="none" stroke="#fff" stroke-opacity="0.5" stroke-width="9.1"/><rect x="470" y="380" width="120" height="110" rx="26.4" fill="#900a4a"/><rect x="474.8" y="380" width="110.4" height="99.0" rx="24.0" fill="#d81e8a"/><circle cx="530.0" cy="431.4" r="24.0" fill="none" stroke="#fff" stroke-opacity="0.5" stroke-width="8.4"/><rect x="460" y="470" width="120" height="120" rx="26.4" fill="#1a68a8"/><rect x="464.8" y="470" width="110.4" height="108.0" rx="24.0" fill="#4aa8e8"/><circle cx="520.0" cy="526.4" r="24.0" fill="none" stroke="#fff" stroke-opacity="0.5" stroke-width="8.4"/><rect x="830" y="615" width="180" height="17" rx="2" fill="#2a5a9a" opacity="0.8"/></svg></g>
<g filter="url(#soft)"><svg x="792.9" y="543.7" width="128.60" height="72.90" viewBox="65 33 1052 595" preserveAspectRatio="none" overflow="hidden"><defs><radialGradient id="aml" cx="0.15" cy="0.2" r="1"><stop offset="0" stop-color="#2a7ed0"/><stop offset="0.4" stop-color="#165cb0"/><stop offset="0.8" stop-color="#0c3684"/><stop offset="1" stop-color="#0a2460"/></radialGradient><linearGradient id="amr" x1="0" x2="1" y1="0" y2="1"><stop offset="0" stop-color="#2e4890"/><stop offset="0.5" stop-color="#384884"/><stop offset="1" stop-color="#2c3670"/></linearGradient></defs><rect x="65" y="33" width="527" height="595" rx="0" fill="url(#aml)" /><rect x="590" y="33" width="527" height="595" rx="0" fill="url(#amr)" /><path d="M400 33 H592 V628 H420 Q520 500 480 300 Q460 150 400 33Z" fill="#061c5c" opacity="0.55"/><path d="M65 400 Q250 520 500 440 Q560 420 592 400" fill="none" stroke="#5ab0f0" stroke-width="22" opacity="0.45"/><path d="M65 200 Q200 60 420 100" fill="none" stroke="#60b0f0" stroke-width="14" opacity="0.35"/><path d="M600 100 Q800 200 1117 80" fill="none" stroke="#5a70c0" stroke-width="12" opacity="0.5"/><path d="M600 33 Q700 200 900 33" fill="none" stroke="#4a78d0" stroke-width="10" opacity="0.5"/><circle cx="303" cy="606" r="3.5" fill="#d0e0ff" opacity="0.75"/><circle cx="155" cy="180" r="7.0" fill="#d0e0ff" opacity="0.50"/><circle cx="740" cy="306" r="4.8" fill="#d0e0ff" opacity="0.65"/><circle cx="267" cy="527" r="3.4" fill="#d0e0ff" opacity="0.52"/><circle cx="86" cy="192" r="4.6" fill="#d0e0ff" opacity="0.85"/><circle cx="464" cy="101" r="4.0" fill="#d0e0ff" opacity="0.90"/><circle cx="131" cy="402" r="4.5" fill="#d0e0ff" opacity="0.73"/><circle cx="421" cy="444" r="5.0" fill="#d0e0ff" opacity="0.72"/><circle cx="1013" cy="379" r="3.6" fill="#d0e0ff" opacity="0.43"/><circle cx="1060" cy="324" r="3.8" fill="#d0e0ff" opacity="0.87"/><circle cx="674" cy="467" r="6.5" fill="#d0e0ff" opacity="0.54"/><circle cx="440" cy="555" r="3.5" fill="#d0e0ff" opacity="0.78"/><circle cx="168" cy="444" r="5.8" fill="#d0e0ff" opacity="0.87"/><circle cx="952" cy="333" r="3.8" fill="#d0e0ff" opacity="0.48"/><circle cx="621" cy="336" r="3.3" fill="#d0e0ff" opacity="0.85"/><circle cx="599" cy="450" r="3.9" fill="#d0e0ff" opacity="0.52"/><circle cx="78" cy="237" r="4.1" fill="#d0e0ff" opacity="0.61"/><circle cx="462" cy="529" r="6.6" fill="#d0e0ff" opacity="0.49"/><circle cx="482" cy="132" r="5.7" fill="#d0e0ff" opacity="0.89"/><circle cx="277" cy="489" r="4.2" fill="#d0e0ff" opacity="0.41"/><circle cx="869" cy="236" r="3.7" fill="#d0e0ff" opacity="0.62"/><circle cx="309" cy="277" r="4.8" fill="#d0e0ff" opacity="0.61"/><circle cx="684" cy="205" r="3.4" fill="#d0e0ff" opacity="0.44"/><circle cx="177" cy="343" r="4.4" fill="#d0e0ff" opacity="0.80"/><circle cx="596" cy="454" r="6.9" fill="#d0e0ff" opacity="0.43"/><circle cx="83" cy="117" r="4.5" fill="#d0e0ff" opacity="0.69"/><circle cx="847" cy="242" r="6.9" fill="#d0e0ff" opacity="0.40"/><circle cx="944" cy="158" r="6.5" fill="#d0e0ff" opacity="0.42"/><circle cx="1080" cy="485" r="7.0" fill="#d0e0ff" opacity="0.69"/><circle cx="252" cy="610" r="4.8" fill="#d0e0ff" opacity="0.44"/><circle cx="702" cy="329" r="4.9" fill="#d0e0ff" opacity="0.48"/><circle cx="193" cy="379" r="4.8" fill="#d0e0ff" opacity="0.46"/><circle cx="527" cy="465" r="5.9" fill="#d0e0ff" opacity="0.64"/><circle cx="479" cy="248" r="3.9" fill="#d0e0ff" opacity="0.50"/><circle cx="534" cy="97" r="5.9" fill="#d0e0ff" opacity="0.75"/><circle cx="708" cy="46" r="4.5" fill="#d0e0ff" opacity="0.62"/><circle cx="163" cy="609" r="6.0" fill="#d0e0ff" opacity="0.65"/><circle cx="807" cy="152" r="3.9" fill="#d0e0ff" opacity="0.66"/><circle cx="848" cy="418" r="3.0" fill="#d0e0ff" opacity="0.71"/><circle cx="1021" cy="475" r="6.7" fill="#d0e0ff" opacity="0.89"/><circle cx="300" cy="209" r="5.2" fill="#d0e0ff" opacity="0.89"/><circle cx="453" cy="593" r="6.4" fill="#d0e0ff" opacity="0.66"/><circle cx="723" cy="602" r="6.1" fill="#d0e0ff" opacity="0.55"/><circle cx="955" cy="149" r="4.5" fill="#d0e0ff" opacity="0.88"/><circle cx="956" cy="219" r="4.2" fill="#d0e0ff" opacity="0.71"/><circle cx="951" cy="440" r="6.7" fill="#d0e0ff" opacity="0.76"/><circle cx="929" cy="393" r="4.4" fill="#d0e0ff" opacity="0.61"/><circle cx="580" cy="348" r="6.4" fill="#d0e0ff" opacity="0.53"/><circle cx="137" cy="469" r="4.1" fill="#d0e0ff" opacity="0.61"/><circle cx="188" cy="526" r="4.1" fill="#d0e0ff" opacity="0.55"/><circle cx="911" cy="333" r="4.1" fill="#d0e0ff" opacity="0.84"/><circle cx="498" cy="248" r="6.9" fill="#d0e0ff" opacity="0.80"/><circle cx="851" cy="182" r="6.3" fill="#d0e0ff" opacity="0.70"/><circle cx="938" cy="252" r="6.1" fill="#d0e0ff" opacity="0.80"/><circle cx="473" cy="423" r="6.1" fill="#d0e0ff" opacity="0.90"/><circle cx="1033" cy="501" r="3.5" fill="#d0e0ff" opacity="0.71"/><circle cx="786" cy="85" r="4.9" fill="#d0e0ff" opacity="0.83"/><circle cx="1018" cy="584" r="3.4" fill="#d0e0ff" opacity="0.70"/><circle cx="975" cy="421" r="4.3" fill="#d0e0ff" opacity="0.42"/><circle cx="1033" cy="544" r="5.6" fill="#d0e0ff" opacity="0.58"/><circle cx="937" cy="518" r="5.9" fill="#d0e0ff" opacity="0.70"/><circle cx="401" cy="209" r="4.4" fill="#d0e0ff" opacity="0.56"/><circle cx="612" cy="101" r="5.9" fill="#d0e0ff" opacity="0.57"/><circle cx="233" cy="185" r="4.6" fill="#d0e0ff" opacity="0.62"/><circle cx="888" cy="92" r="3.9" fill="#d0e0ff" opacity="0.55"/><circle cx="251" cy="479" r="3.4" fill="#d0e0ff" opacity="0.43"/><circle cx="650" cy="471" r="6.3" fill="#d0e0ff" opacity="0.68"/><circle cx="409" cy="558" r="5.9" fill="#d0e0ff" opacity="0.64"/><circle cx="657" cy="590" r="7.0" fill="#d0e0ff" opacity="0.87"/><circle cx="205" cy="227" r="4.6" fill="#d0e0ff" opacity="0.48"/><rect x="448" y="245" width="140" height="160" rx="12" fill="none" stroke="#f6f8fc" stroke-width="11"/><path d="M480 300 V375 H560" fill="none" stroke="#f6f8fc" stroke-width="9"/><path d="M500 262 H550" stroke="#f6f8fc" stroke-width="9"/><circle cx="478" cy="268" r="8" fill="none" stroke="#f6f8fc" stroke-width="6"/><path d="M462 242 v-30 M462 408 v32" stroke="#f6f8fc" stroke-width="9"/><path d="M446 265 h-32" stroke="#f6f8fc" stroke-width="9"/><path d="M486 242 v-30 M486 408 v32" stroke="#f6f8fc" stroke-width="9"/><path d="M446 295 h-32" stroke="#f6f8fc" stroke-width="9"/><path d="M510 242 v-30 M510 408 v32" stroke="#f6f8fc" stroke-width="9"/><path d="M446 325 h-32" stroke="#f6f8fc" stroke-width="9"/><path d="M534 242 v-30 M534 408 v32" stroke="#f6f8fc" stroke-width="9"/><path d="M446 355 h-32" stroke="#f6f8fc" stroke-width="9"/><path d="M558 242 v-30 M558 408 v32" stroke="#f6f8fc" stroke-width="9"/><path d="M446 385 h-32" stroke="#f6f8fc" stroke-width="9"/><path d="M592 195 Q600 150 650 152 Q700 150 712 195 Q760 210 752 260 Q790 300 765 350 Q780 400 740 430 Q735 480 680 490 Q640 520 592 490" fill="#3a4c90" fill-opacity="0.3" stroke="#f6f8fc" stroke-width="11" stroke-linejoin="round"/><path d="M640 200 Q670 210 660 250" fill="none" stroke="#f6f8fc" stroke-width="9"/><path d="M700 230 Q720 260 690 280" fill="none" stroke="#f6f8fc" stroke-width="9"/><path d="M690 340 Q720 340 715 310" fill="none" stroke="#f6f8fc" stroke-width="9"/><path d="M650 440 Q680 440 690 410" fill="none" stroke="#f6f8fc" stroke-width="9"/><path d="M620 460 Q640 450 640 430" fill="none" stroke="#f6f8fc" stroke-width="9"/><polygon points="645.3,335.0 653.9,339.2 652.4,348.8 643.1,350.3 640.0,358.1 645.9,365.6 640.5,373.7 631.4,371.0 625.2,376.7 627.3,386.0 618.9,390.9 611.9,384.5 603.9,387.0 601.7,396.2 592.0,397.0 588.4,388.2 580.1,387.0 574.2,394.4 565.1,390.9 565.7,381.4 558.8,376.7 550.2,380.8 543.5,373.7 548.2,365.4 544.0,358.1 534.5,358.1 531.6,348.8 539.3,343.3 538.7,335.0 530.1,330.8 531.6,321.2 540.9,319.7 544.0,311.9 538.1,304.4 543.5,296.3 552.6,299.0 558.8,293.3 556.7,284.0 565.1,279.1 572.1,285.5 580.1,283.0 582.3,273.8 592.0,273.0 595.6,281.8 603.9,283.0 609.8,275.6 618.9,279.1 618.3,288.6 625.2,293.3 633.8,289.2 640.5,296.3 635.8,304.6 640.0,311.9 649.5,311.9 652.4,321.2 644.7,326.7" fill="#fff"/><text x="186" y="388" font-family="Liberation Sans, sans-serif" font-size="142" fill="#f6f8fc" textLength="142" lengthAdjust="spacingAndGlyphs">AI</text><text x="836" y="388" font-family="Liberation Sans, sans-serif" font-size="142" fill="#f6f8fc" textLength="222" lengthAdjust="spacingAndGlyphs">ML</text></svg></g>
<g class="serif">
<text x="133.40" y="32.00" font-size="14.6" fill="#000" textLength="214.88" lengthAdjust="spacingAndGlyphs">CM (Web Application Programming</text>
<text x="133.55" y="47.60" font-size="14.6" fill="#000" textLength="153.10" lengthAdjust="spacingAndGlyphs">for Finance and Business)</text>
</g>
<g class="sans">
<text x="437.95" y="27.00" font-size="14.7" fill="#000" textLength="153.88" lengthAdjust="spacingAndGlyphs">CM (Technical Analysis</text>
<text x="438.08" y="43.00" font-size="14.7" fill="#000" textLength="143.47" lengthAdjust="spacingAndGlyphs">and Data Analytics for</text>
<text x="438.04" y="59.20" font-size="14.7" fill="#000" textLength="116.16" lengthAdjust="spacingAndGlyphs">Stock Investment)</text>
</g>
<g class="sans">
<text x="704.00" y="28.80" font-size="13.5" fill="#000" textLength="160.58" lengthAdjust="spacingAndGlyphs">CM (Business Forecasting</text>
<text x="704.13" y="44.50" font-size="13.5" fill="#000" textLength="162.40" lengthAdjust="spacingAndGlyphs">and Predictive Analytics for</text>
<text x="703.57" y="59.70" font-size="13.5" fill="#000" textLength="164.79" lengthAdjust="spacingAndGlyphs">Financial Decision Making)</text>
</g>
<g class="sans">
<text x="943.89" y="29.00" font-size="14.5" fill="#111" textLength="146.61" lengthAdjust="spacingAndGlyphs">CM (Business Analytics</text>
<text x="944.01" y="48.50" font-size="14.5" fill="#111" textLength="119.36" lengthAdjust="spacingAndGlyphs">and Web Scraping)</text>
</g>
<g class="sans">
<text x="983.36" y="225.00" font-size="14.9" fill="#111" textLength="159.32" lengthAdjust="spacingAndGlyphs">CM (Generative AI, DeFi</text>
<text x="983.48" y="244.60" font-size="14.9" fill="#111" textLength="144.42" lengthAdjust="spacingAndGlyphs">and Risk Governance)</text>
</g>
<g class="serif">
<text x="1004.21" y="438.10" font-size="19.2" fill="#000" textLength="104.79" lengthAdjust="spacingAndGlyphs">CM (FinTech</text>
<text x="1004.32" y="459.60" font-size="19.2" fill="#000" textLength="59.43" lengthAdjust="spacingAndGlyphs">and AI)</text>
</g>
<g class="serif">
<text x="33.04" y="193.60" font-size="13.75" fill="#000" textLength="174.13" lengthAdjust="spacingAndGlyphs">CM (Web Design and Frontend</text>
<text x="33.20" y="210.40" font-size="13.75" fill="#000" textLength="164.37" lengthAdjust="spacingAndGlyphs">Development for Finance and</text>
<text x="33.20" y="226.40" font-size="13.75" fill="#000" textLength="127.40" lengthAdjust="spacingAndGlyphs">Business Applications)</text>
</g>
<g class="serif">
<text x="31.47" y="412.00" font-size="13.1" fill="#000" textLength="174.61" lengthAdjust="spacingAndGlyphs">CM (Backend Web Development</text>
<text x="31.54" y="428.00" font-size="13.1" fill="#000" textLength="172.22" lengthAdjust="spacingAndGlyphs">and Deployment for Finance and</text>
<text x="31.62" y="443.40" font-size="13.1" fill="#000" textLength="121.35" lengthAdjust="spacingAndGlyphs">Business Applications)</text>
</g>
<g class="sans">
<text x="287.02" y="497.00" font-size="16.2" fill="#111" textLength="179.46" lengthAdjust="spacingAndGlyphs">CM (Big Data Governance</text>
<text x="287.14" y="519.60" font-size="16.2" fill="#111" textLength="154.22" lengthAdjust="spacingAndGlyphs">and Data Compliance)</text>
</g>
<g class="serif">
<text x="521.68" y="502.90" font-size="15.15" fill="#000" textLength="163.26" lengthAdjust="spacingAndGlyphs">CM (FinTech Applications</text>
<text x="522.29" y="519.00" font-size="15.15" fill="#000" textLength="63.39" lengthAdjust="spacingAndGlyphs">with Java)</text>
</g>
<g class="serif">
<text x="789.18" y="500.40" font-size="14.95" fill="#000" textLength="130.01" lengthAdjust="spacingAndGlyphs">CM (AI and ML with</text>
<text x="789.37" y="518.10" font-size="14.95" fill="#000" textLength="138.63" lengthAdjust="spacingAndGlyphs">Business and Financial</text>
<text x="789.65" y="536.25" font-size="14.95" fill="#000" textLength="82.01" lengthAdjust="spacingAndGlyphs">Applications)</text>
</g>
<rect x="390.6" y="208.8" width="120.70" height="59.30" rx="9" fill="#5B9BD5"/>
<g class="sans">
<text x="415.16" y="233.75" font-size="15.8" font-weight="bold" fill="#fff" textLength="71.86" lengthAdjust="spacingAndGlyphs">Sales and</text>
<text x="411.63" y="255.60" font-size="15.8" font-weight="bold" fill="#fff" textLength="78.88" lengthAdjust="spacingAndGlyphs">Marketing</text>
</g>
<rect x="665.6" y="209.6" width="121.50" height="59.20" rx="9" fill="#5B9BD5"/>
<g class="sans">
<text x="679.31" y="234.40" font-size="15.8" font-weight="bold" fill="#fff" textLength="93.67" lengthAdjust="spacingAndGlyphs">Medical and</text>
<text x="681.69" y="256.50" font-size="15.8" font-weight="bold" fill="#fff" textLength="88.46" lengthAdjust="spacingAndGlyphs">Health Care</text>
</g>
<rect x="305" y="294.4" width="121.50" height="59.10" rx="9" fill="#5B9BD5"/>
<g class="sans">
<text x="317.81" y="319.75" font-size="14.2" font-weight="bold" fill="#fff" textLength="95.57" lengthAdjust="spacingAndGlyphs">IT and System</text>
<text x="319.02" y="339.60" font-size="14.2" font-weight="bold" fill="#fff" textLength="92.41" lengthAdjust="spacingAndGlyphs">Development</text>
</g>
<rect x="540.4" y="296.9" width="121.70" height="59.10" rx="9" fill="#5B9BD5"/>
<g class="sans">
<text x="555.19" y="321.90" font-size="15.8" font-weight="bold" fill="#fff" textLength="92.10" lengthAdjust="spacingAndGlyphs">Finance and</text>
<text x="557.91" y="344.00" font-size="15.8" font-weight="bold" fill="#fff" textLength="86.04" lengthAdjust="spacingAndGlyphs">Investment</text>
</g>
<rect x="725.4" y="296" width="120.85" height="59.00" rx="9" fill="#5B9BD5"/>
<g class="sans">
<text x="754.04" y="320.90" font-size="15.5" font-weight="bold" fill="#fff" textLength="63.80" lengthAdjust="spacingAndGlyphs">Business</text>
<text x="736.68" y="342.50" font-size="15.5" font-weight="bold" fill="#fff" textLength="98.12" lengthAdjust="spacingAndGlyphs">Management</text>
</g>
<rect x="391.5" y="391.9" width="121.40" height="59.10" rx="9" fill="#5B9BD5"/>
<g class="sans">
<text x="423.26" y="416.90" font-size="15.8" font-weight="bold" fill="#fff" textLength="57.80" lengthAdjust="spacingAndGlyphs">Human</text>
<text x="412.06" y="439.00" font-size="15.8" font-weight="bold" fill="#fff" textLength="79.83" lengthAdjust="spacingAndGlyphs">Resources</text>
</g>
<rect x="664" y="393.75" width="121.40" height="54.15" rx="9" fill="#5B9BD5"/>
<g class="sans">
<text x="675.86" y="427.25" font-size="15.8" font-weight="bold" fill="#fff" textLength="97.36" lengthAdjust="spacingAndGlyphs">Construction</text>
</g>
<g filter="url(#soft2)">
<svg x="320.2" y="212.5" width="63.00" height="45.00" viewBox="0 0 63 45" preserveAspectRatio="none"><g fill="#FFC000"><circle cx="12.3" cy="9.4" r="5.5"/><circle cx="50.2" cy="9.4" r="5.5"/><path d="M0 31.2 V24.5 Q0 20.8 4 19.7 Q10 18.1 18 18.3 V31.2Z"/><path d="M62.8 31.2 V24.5 Q62.8 20.8 58.8 19.7 Q52.8 18.1 44.8 18.3 V31.2Z"/><path d="M18.1 27 H44.8 V40.7 Q44.8 41.5 44 41.5 H18.9 Q18.1 41.5 18.1 40.7Z"/></g><circle cx="31.05" cy="17.9" r="18.1" fill="#fff"/><path d="M42 29 L55.6 41.8" stroke="#fff" stroke-width="9.4" stroke-linecap="round" fill="none"/><circle cx="31.05" cy="17.9" r="14.95" fill="none" stroke="#FFC000" stroke-width="3.4"/><circle cx="31.05" cy="14" r="7.5" fill="#FFC000"/><path d="M19.5 27.4 Q23 23.7 31.05 23.7 Q39.1 23.7 42.6 27.4 A15 15 0 0 1 19.5 27.4Z" fill="#FFC000"/><path d="M41 28 L46 32.5" stroke="#FFC000" stroke-width="4.4" fill="none"/><path d="M45.8 32.6 L55.4 41.6" stroke="#FFC000" stroke-width="6.9" stroke-linecap="round" fill="none"/></svg>
<svg x="240" y="291.8" width="61.40" height="61.50" viewBox="0 0 61.4 61.5" preserveAspectRatio="none"><rect x="2.1" y="30" width="31.5" height="21.9" rx="1.6" fill="none" stroke="#A9D18E" stroke-width="4.2"/><rect x="14.4" y="53" width="6.8" height="5" fill="#A9D18E"/><rect x="9" y="57.3" width="17.6" height="4.2" rx="0.8" fill="#A9D18E"/><path d="M30.3 22.4 H54.3 A5.2 5.2 0 0 0 55.6 12.2 A5.6 5.6 0 0 0 46.8 7 A7.3 7.3 0 0 0 32.9 9.3 A6.5 6.5 0 0 0 30.3 22.4Z" fill="none" stroke="#A9D18E" stroke-width="4.1" stroke-linejoin="round"/><path d="M9.6 24.6 Q9.2 16.5 15.6 13.6" fill="none" stroke="#A9D18E" stroke-width="4.6"/><path d="M13.6 8.2 L20.2 12.6 L15.4 19.4Z" fill="#A9D18E"/><path d="M50.6 28 Q51.4 35.6 45.2 38.6" fill="none" stroke="#A9D18E" stroke-width="4.6"/><path d="M46.6 33.2 L39.8 39 L46 44.6Z" fill="#A9D18E"/></svg>
<svg x="470.4" y="304.7" width="63.00" height="52.30" viewBox="0 0 63 52.4" preserveAspectRatio="none"><g fill="#BF9000"><circle cx="9.1" cy="3.9" r="3.8"/><circle cx="24" cy="3.9" r="3.8"/><circle cx="38.9" cy="3.9" r="3.8"/><path d="M5.2 8.6 H13 Q15.4 8.6 16 11 L18 22.2 Q18 23.8 16.6 23.8 Q15.6 23.8 15.2 22.6 L13.6 14.6 L15.4 29 H12.6 V35.5 H10 V29 H8.2 V39.5 H5.2 V29 H2.8 L4.6 14.6 L3 22.6 Q2.6 23.8 1.6 23.8 Q0.2 23.8 0.2 22.2 L2.2 11 Q2.8 8.6 5.2 8.6Z"/><path d="M20 8.6 H28 Q30.4 8.6 31 11 L33 22.2 Q33 23.8 31.6 23.8 Q30.6 23.8 30.2 22.6 L28.8 15 V27 H19.2 V15 L17.8 22.6 Q17.4 23.8 16.4 23.8 Q15 23.8 15 22.2 L17 11 Q17.6 8.6 20 8.6Z"/><path d="M35 8.6 H43 Q45.4 8.6 46 11 L48 20.4 Q48 22 46.6 22 Q45.6 22 45.2 20.8 L43.8 15 L44 27 H41.4 V24.5 H39.6 V32 H36.6 V24.5 H34.2 V15 L32.8 22.6 Q32.4 23.8 31.4 23.8 Q30 23.8 30 22.2 L32 11 Q32.6 8.6 35 8.6Z"/></g><path d="M4.9 13.5 L3.6 23 M13.3 13.5 L14.7 23 M19.5 13.5 L18.4 23 M28.6 13.5 L29.7 23 M34.5 13.5 L33.3 23 M43.6 13.5 L44.9 21.5" stroke="#fff" stroke-width="0.8" fill="none"/><path d="M2.1 50.3 L24 28.4 L34.9 40.4 L57.6 17.4" fill="none" stroke="#fff" stroke-width="8.2" stroke-linejoin="miter"/><path d="M2.1 50.3 L24 28.4 L34.9 40.4 L57.6 17.4" fill="none" stroke="#BF9000" stroke-width="4.7" stroke-linejoin="miter"/><path d="M51.4 12.7 H63 V24.4Z" fill="#BF9000" stroke="#fff" stroke-width="0"/></svg>
<svg x="324" y="390.8" width="63.60" height="57.50" viewBox="0 0 63.6 57.5" preserveAspectRatio="none"><circle cx="13.4" cy="5.45" r="5.4" fill="#C00000"/><path d="M8.4 12.1 H18.4 Q22.700000000000003 12.1 23.6 16.2 L26.8 29.3 A2.1 2.1 0 0 1 22.8 30.6 L19.4 19 V56.6 A0.9 0.9 0 0 1 18.5 57.5 H15.600000000000001 A0.9 0.9 0 0 1 14.700000000000001 56.6 V36.4 H12.1 V56.6 A0.9 0.9 0 0 1 11.2 57.5 H8.3 A0.9 0.9 0 0 1 7.4 56.6 V19 L4.0 30.6 A2.1 2.1 0 0 1 0.0 29.3 L3.200000000000001 16.2 Q4.1 12.1 8.4 12.1Z" fill="#C00000"/><circle cx="50.3" cy="5.45" r="5.4" fill="#C00000"/><path d="M45.3 12.1 H55.3 Q59.599999999999994 12.1 60.5 16.2 L63.699999999999996 29.3 A2.1 2.1 0 0 1 59.699999999999996 30.6 L56.3 19 V56.6 A0.9 0.9 0 0 1 55.4 57.5 H52.5 A0.9 0.9 0 0 1 51.599999999999994 56.6 V36.4 H49.0 V56.6 A0.9 0.9 0 0 1 48.099999999999994 57.5 H45.199999999999996 A0.9 0.9 0 0 1 44.3 56.6 V19 L40.9 30.6 A2.1 2.1 0 0 1 36.9 29.3 L40.099999999999994 16.2 Q41.0 12.1 45.3 12.1Z" fill="#C00000"/><path d="M26.8 12.1 H36.8 Q41.1 12.1 42.0 16.2 L45.2 29.3 A2.1 2.1 0 0 1 41.2 30.6 L37.8 19 V56.6 A0.9 0.9 0 0 1 36.9 57.5 H34.0 A0.9 0.9 0 0 1 33.1 56.6 V36.4 H30.5 V56.6 A0.9 0.9 0 0 1 29.6 57.5 H26.700000000000003 A0.9 0.9 0 0 1 25.8 56.6 V19 L22.4 30.6 A2.1 2.1 0 0 1 18.4 29.3 L21.6 16.2 Q22.5 12.1 26.8 12.1Z" fill="#C00000" stroke="#fff" stroke-width="2" paint-order="stroke" stroke-linejoin="round"/><circle cx="31.8" cy="5.45" r="5.4" fill="#C00000"/></svg>
<svg x="798.5" y="209.8" width="51.10" height="65.40" viewBox="0 0 51.1 65.5" preserveAspectRatio="none"><g fill="none" stroke="#7030A0"><path d="M8.3 2.8 H5.6 Q3.1 2.8 3.1 5.6 V27" stroke-width="2.7"/><path d="M23.2 2.8 H26 Q28.5 2.8 28.5 5.6 V27" stroke-width="2.7"/><path d="M3.1 25.5 V26.6 A12.7 12.7 0 0 0 28.5 26.6 V25.5" stroke-width="6.1" stroke-linecap="round"/><path d="M15.8 40 V50 A13.55 13.55 0 0 0 42.9 50 V32" stroke-width="4.2"/><circle cx="42.9" cy="24.5" r="7" stroke-width="2.7"/></g><circle cx="8.3" cy="2.8" r="2.7" fill="#7030A0"/><circle cx="23.2" cy="2.8" r="2.7" fill="#7030A0"/><circle cx="42.9" cy="24.5" r="3.7" fill="#7030A0"/></svg>
<svg x="855.3" y="293.6" width="53.60" height="55.40" viewBox="0 0 53.6 55.4" preserveAspectRatio="none"><g fill="#2E75B6"><circle cx="11.35" cy="32.2" r="5.7"/><circle cx="42.2" cy="32.2" r="5.7"/><path d="M0 51.3 V45.0 C0 42.0 4.4 39.8 10.0 39.8 C15.6 39.8 20 42.0 20 45.0 V51.3Z"/><path d="M33.5 51.3 V45.0 C33.5 42.0 37.922 39.8 43.55 39.8 C49.178 39.8 53.6 42.0 53.6 45.0 V51.3Z"/></g><g fill="#2E75B6" stroke="#fff" stroke-width="2.2" paint-order="stroke"><circle cx="26.7" cy="36.9" r="5.7"/><path d="M15.3 55.4 V49.7 C15.3 46.7 20.316000000000003 44.5 26.700000000000003 44.5 C33.084 44.5 38.1 46.7 38.1 49.7 V55.4Z"/></g><path d="M22.8 19.6 H30.8 L31.4 17.3 Q35.4 14 35.4 9.5 A8.6 8.6 0 1 0 18.2 9.5 Q18.2 14 22.2 17.3Z" fill="none" stroke="#2E75B6" stroke-width="1.7" stroke-linejoin="round"/><path d="M22.6 22.7 H31" stroke="#2E75B6" stroke-width="1.7" fill="none" stroke-linecap="round"/><path d="M24 24.9 H29.6 L26.8 27.6Z" fill="#2E75B6"/><path d="M27.9 4.6 L23.6 10.8 H26.7 L25.6 15.2 L30.5 8.6 H27.2Z" fill="#2E75B6"/></svg>
<svg x="794.7" y="386" width="74.70" height="74.70" viewBox="0 0 74.7 74.7" preserveAspectRatio="none"><polygon points="17.1,14.7 23.1,14.7 28.700000000000003,57.4 11.500000000000002,57.4" fill="#00B050"/><rect x="18.50" y="29.22" width="3.21" height="2.34" fill="#fff"/><rect x="17.54" y="36.54" width="5.13" height="2.34" fill="#fff"/><rect x="16.58" y="43.86" width="7.05" height="2.34" fill="#fff"/><rect x="15.62" y="51.18" width="8.97" height="2.34" fill="#fff"/><g fill="none" stroke="#00B050" stroke-linecap="round" stroke-linejoin="round"><path d="M20.1 2.2 V14.7" stroke-width="4.8"/><path d="M6.100000000000001 57.4 H34.1" stroke-width="4.2" stroke-linecap="butt"/><path d="M2.4 14.7 H57.2" stroke-width="4.4"/><path d="M2.4 14.7 L20.1 2.3 L57.2 14.7" stroke-width="3.4"/><path d="M50.9 14.7 V32.8" stroke-width="3.0" stroke-linecap="butt"/><rect x="44.0" y="34.0" width="13.000000000000005" height="5.6" stroke-width="2.5" stroke-linejoin="miter"/></g><polygon points="31.799999999999997,29.6 37.8,29.6 43.4,72.4 26.199999999999996,72.4" fill="#00B050"/><rect x="33.20" y="44.15" width="3.21" height="2.34" fill="#fff"/><rect x="32.24" y="51.49" width="5.13" height="2.34" fill="#fff"/><rect x="31.28" y="58.83" width="7.05" height="2.34" fill="#fff"/><rect x="30.32" y="66.16" width="8.97" height="2.34" fill="#fff"/><g fill="none" stroke="#00B050" stroke-linecap="round" stroke-linejoin="round"><path d="M34.8 17.1 V29.6" stroke-width="4.8"/><path d="M20.799999999999997 72.4 H48.8" stroke-width="4.2" stroke-linecap="butt"/><path d="M24 29.6 H72.6" stroke-width="4.4"/><path d="M24 29.6 L34.8 17.2 L72.6 29.6" stroke-width="3.4"/><path d="M66.3 29.6 V45.5" stroke-width="3.0" stroke-linecap="butt"/><rect x="58.1" y="46.7" width="14.999999999999998" height="8.300000000000002" stroke-width="2.5" stroke-linejoin="miter"/></g></svg>
<svg x="133.3" y="128.75" width="30.20" height="31.45" viewBox="0 0 53.6 55.4" preserveAspectRatio="none"><g fill="#2E75B6"><circle cx="11.35" cy="32.2" r="5.7"/><circle cx="42.2" cy="32.2" r="5.7"/><path d="M0 51.3 V45.0 C0 42.0 4.4 39.8 10.0 39.8 C15.6 39.8 20 42.0 20 45.0 V51.3Z"/><path d="M33.5 51.3 V45.0 C33.5 42.0 37.922 39.8 43.55 39.8 C49.178 39.8 53.6 42.0 53.6 45.0 V51.3Z"/></g><g fill="#2E75B6" stroke="#fff" stroke-width="2.2" paint-order="stroke"><circle cx="26.7" cy="36.9" r="5.7"/><path d="M15.3 55.4 V49.7 C15.3 46.7 20.316000000000003 44.5 26.700000000000003 44.5 C33.084 44.5 38.1 46.7 38.1 49.7 V55.4Z"/></g><path d="M22.8 19.6 H30.8 L31.4 17.3 Q35.4 14 35.4 9.5 A8.6 8.6 0 1 0 18.2 9.5 Q18.2 14 22.2 17.3Z" fill="none" stroke="#2E75B6" stroke-width="1.7" stroke-linejoin="round"/><path d="M22.6 22.7 H31" stroke="#2E75B6" stroke-width="1.7" fill="none" stroke-linecap="round"/><path d="M24 24.9 H29.6 L26.8 27.6Z" fill="#2E75B6"/><path d="M27.9 4.6 L23.6 10.8 H26.7 L25.6 15.2 L30.5 8.6 H27.2Z" fill="#2E75B6"/></svg>
<svg x="167.7" y="135" width="34.80" height="29.80" viewBox="0 0 63 52.4" preserveAspectRatio="none"><g fill="#BF9000"><circle cx="9.1" cy="3.9" r="3.8"/><circle cx="24" cy="3.9" r="3.8"/><circle cx="38.9" cy="3.9" r="3.8"/><path d="M5.2 8.6 H13 Q15.4 8.6 16 11 L18 22.2 Q18 23.8 16.6 23.8 Q15.6 23.8 15.2 22.6 L13.6 14.6 L15.4 29 H12.6 V35.5 H10 V29 H8.2 V39.5 H5.2 V29 H2.8 L4.6 14.6 L3 22.6 Q2.6 23.8 1.6 23.8 Q0.2 23.8 0.2 22.2 L2.2 11 Q2.8 8.6 5.2 8.6Z"/><path d="M20 8.6 H28 Q30.4 8.6 31 11 L33 22.2 Q33 23.8 31.6 23.8 Q30.6 23.8 30.2 22.6 L28.8 15 V27 H19.2 V15 L17.8 22.6 Q17.4 23.8 16.4 23.8 Q15 23.8 15 22.2 L17 11 Q17.6 8.6 20 8.6Z"/><path d="M35 8.6 H43 Q45.4 8.6 46 11 L48 20.4 Q48 22 46.6 22 Q45.6 22 45.2 20.8 L43.8 15 L44 27 H41.4 V24.5 H39.6 V32 H36.6 V24.5 H34.2 V15 L32.8 22.6 Q32.4 23.8 31.4 23.8 Q30 23.8 30 22.2 L32 11 Q32.6 8.6 35 8.6Z"/></g><path d="M4.9 13.5 L3.6 23 M13.3 13.5 L14.7 23 M19.5 13.5 L18.4 23 M28.6 13.5 L29.7 23 M34.5 13.5 L33.3 23 M43.6 13.5 L44.9 21.5" stroke="#fff" stroke-width="0.8" fill="none"/><path d="M2.1 50.3 L24 28.4 L34.9 40.4 L57.6 17.4" fill="none" stroke="#fff" stroke-width="8.2" stroke-linejoin="miter"/><path d="M2.1 50.3 L24 28.4 L34.9 40.4 L57.6 17.4" fill="none" stroke="#BF9000" stroke-width="4.7" stroke-linejoin="miter"/><path d="M51.4 12.7 H63 V24.4Z" fill="#BF9000" stroke="#fff" stroke-width="0"/></svg>
<svg x="205.2" y="132.9" width="35.40" height="33.35" viewBox="0 0 63.6 57.5" preserveAspectRatio="none"><circle cx="13.4" cy="5.45" r="5.4" fill="#C00000"/><path d="M8.4 12.1 H18.4 Q22.700000000000003 12.1 23.6 16.2 L26.8 29.3 A2.1 2.1 0 0 1 22.8 30.6 L19.4 19 V56.6 A0.9 0.9 0 0 1 18.5 57.5 H15.600000000000001 A0.9 0.9 0 0 1 14.700000000000001 56.6 V36.4 H12.1 V56.6 A0.9 0.9 0 0 1 11.2 57.5 H8.3 A0.9 0.9 0 0 1 7.4 56.6 V19 L4.0 30.6 A2.1 2.1 0 0 1 0.0 29.3 L3.200000000000001 16.2 Q4.1 12.1 8.4 12.1Z" fill="#C00000"/><circle cx="50.3" cy="5.45" r="5.4" fill="#C00000"/><path d="M45.3 12.1 H55.3 Q59.599999999999994 12.1 60.5 16.2 L63.699999999999996 29.3 A2.1 2.1 0 0 1 59.699999999999996 30.6 L56.3 19 V56.6 A0.9 0.9 0 0 1 55.4 57.5 H52.5 A0.9 0.9 0 0 1 51.599999999999994 56.6 V36.4 H49.0 V56.6 A0.9 0.9 0 0 1 48.099999999999994 57.5 H45.199999999999996 A0.9 0.9 0 0 1 44.3 56.6 V19 L40.9 30.6 A2.1 2.1 0 0 1 36.9 29.3 L40.099999999999994 16.2 Q41.0 12.1 45.3 12.1Z" fill="#C00000"/><path d="M26.8 12.1 H36.8 Q41.1 12.1 42.0 16.2 L45.2 29.3 A2.1 2.1 0 0 1 41.2 30.6 L37.8 19 V56.6 A0.9 0.9 0 0 1 36.9 57.5 H34.0 A0.9 0.9 0 0 1 33.1 56.6 V36.4 H30.5 V56.6 A0.9 0.9 0 0 1 29.6 57.5 H26.700000000000003 A0.9 0.9 0 0 1 25.8 56.6 V19 L22.4 30.6 A2.1 2.1 0 0 1 18.4 29.3 L21.6 16.2 Q22.5 12.1 26.8 12.1Z" fill="#C00000" stroke="#fff" stroke-width="2" paint-order="stroke" stroke-linejoin="round"/><circle cx="31.8" cy="5.45" r="5.4" fill="#C00000"/></svg>
<svg x="246.25" y="133.5" width="35.00" height="25.00" viewBox="0 0 63 45" preserveAspectRatio="none"><g fill="#FFC000"><circle cx="12.3" cy="9.4" r="5.5"/><circle cx="50.2" cy="9.4" r="5.5"/><path d="M0 31.2 V24.5 Q0 20.8 4 19.7 Q10 18.1 18 18.3 V31.2Z"/><path d="M62.8 31.2 V24.5 Q62.8 20.8 58.8 19.7 Q52.8 18.1 44.8 18.3 V31.2Z"/><path d="M18.1 27 H44.8 V40.7 Q44.8 41.5 44 41.5 H18.9 Q18.1 41.5 18.1 40.7Z"/></g><circle cx="31.05" cy="17.9" r="18.1" fill="#fff"/><path d="M42 29 L55.6 41.8" stroke="#fff" stroke-width="9.4" stroke-linecap="round" fill="none"/><circle cx="31.05" cy="17.9" r="14.95" fill="none" stroke="#FFC000" stroke-width="3.4"/><circle cx="31.05" cy="14" r="7.5" fill="#FFC000"/><path d="M19.5 27.4 Q23 23.7 31.05 23.7 Q39.1 23.7 42.6 27.4 A15 15 0 0 1 19.5 27.4Z" fill="#FFC000"/><path d="M41 28 L46 32.5" stroke="#FFC000" stroke-width="4.4" fill="none"/><path d="M45.8 32.6 L55.4 41.6" stroke="#FFC000" stroke-width="6.9" stroke-linecap="round" fill="none"/></svg>
<svg x="289.6" y="128.3" width="34.40" height="34.40" viewBox="0 0 61.4 61.5" preserveAspectRatio="none"><rect x="2.1" y="30" width="31.5" height="21.9" rx="1.6" fill="none" stroke="#A9D18E" stroke-width="4.2"/><rect x="14.4" y="53" width="6.8" height="5" fill="#A9D18E"/><rect x="9" y="57.3" width="17.6" height="4.2" rx="0.8" fill="#A9D18E"/><path d="M30.3 22.4 H54.3 A5.2 5.2 0 0 0 55.6 12.2 A5.6 5.6 0 0 0 46.8 7 A7.3 7.3 0 0 0 32.9 9.3 A6.5 6.5 0 0 0 30.3 22.4Z" fill="none" stroke="#A9D18E" stroke-width="4.1" stroke-linejoin="round"/><path d="M9.6 24.6 Q9.2 16.5 15.6 13.6" fill="none" stroke="#A9D18E" stroke-width="4.6"/><path d="M13.6 8.2 L20.2 12.6 L15.4 19.4Z" fill="#A9D18E"/><path d="M50.6 28 Q51.4 35.6 45.2 38.6" fill="none" stroke="#A9D18E" stroke-width="4.6"/><path d="M46.6 33.2 L39.8 39 L46 44.6Z" fill="#A9D18E"/></svg>
<svg x="334" y="128.75" width="28.50" height="38.15" viewBox="0 0 51.1 65.5" preserveAspectRatio="none"><g fill="none" stroke="#7030A0"><path d="M8.3 2.8 H5.6 Q3.1 2.8 3.1 5.6 V27" stroke-width="2.7"/><path d="M23.2 2.8 H26 Q28.5 2.8 28.5 5.6 V27" stroke-width="2.7"/><path d="M3.1 25.5 V26.6 A12.7 12.7 0 0 0 28.5 26.6 V25.5" stroke-width="6.1" stroke-linecap="round"/><path d="M15.8 40 V50 A13.55 13.55 0 0 0 42.9 50 V32" stroke-width="4.2"/><circle cx="42.9" cy="24.5" r="7" stroke-width="2.7"/></g><circle cx="8.3" cy="2.8" r="2.7" fill="#7030A0"/><circle cx="23.2" cy="2.8" r="2.7" fill="#7030A0"/><circle cx="42.9" cy="24.5" r="3.7" fill="#7030A0"/></svg>
<svg x="463" y="155.3" width="30.70" height="25.20" viewBox="0 0 63 52.4" preserveAspectRatio="none"><g fill="#BF9000"><circle cx="9.1" cy="3.9" r="3.8"/><circle cx="24" cy="3.9" r="3.8"/><circle cx="38.9" cy="3.9" r="3.8"/><path d="M5.2 8.6 H13 Q15.4 8.6 16 11 L18 22.2 Q18 23.8 16.6 23.8 Q15.6 23.8 15.2 22.6 L13.6 14.6 L15.4 29 H12.6 V35.5 H10 V29 H8.2 V39.5 H5.2 V29 H2.8 L4.6 14.6 L3 22.6 Q2.6 23.8 1.6 23.8 Q0.2 23.8 0.2 22.2 L2.2 11 Q2.8 8.6 5.2 8.6Z"/><path d="M20 8.6 H28 Q30.4 8.6 31 11 L33 22.2 Q33 23.8 31.6 23.8 Q30.6 23.8 30.2 22.6 L28.8 15 V27 H19.2 V15 L17.8 22.6 Q17.4 23.8 16.4 23.8 Q15 23.8 15 22.2 L17 11 Q17.6 8.6 20 8.6Z"/><path d="M35 8.6 H43 Q45.4 8.6 46 11 L48 20.4 Q48 22 46.6 22 Q45.6 22 45.2 20.8 L43.8 15 L44 27 H41.4 V24.5 H39.6 V32 H36.6 V24.5 H34.2 V15 L32.8 22.6 Q32.4 23.8 31.4 23.8 Q30 23.8 30 22.2 L32 11 Q32.6 8.6 35 8.6Z"/></g><path d="M4.9 13.5 L3.6 23 M13.3 13.5 L14.7 23 M19.5 13.5 L18.4 23 M28.6 13.5 L29.7 23 M34.5 13.5 L33.3 23 M43.6 13.5 L44.9 21.5" stroke="#fff" stroke-width="0.8" fill="none"/><path d="M2.1 50.3 L24 28.4 L34.9 40.4 L57.6 17.4" fill="none" stroke="#fff" stroke-width="8.2" stroke-linejoin="miter"/><path d="M2.1 50.3 L24 28.4 L34.9 40.4 L57.6 17.4" fill="none" stroke="#BF9000" stroke-width="4.7" stroke-linejoin="miter"/><path d="M51.4 12.7 H63 V24.4Z" fill="#BF9000" stroke="#fff" stroke-width="0"/></svg>
<svg x="505" y="156.3" width="25.00" height="24.20" viewBox="0 0 61.4 61.5" preserveAspectRatio="none"><rect x="2.1" y="30" width="31.5" height="21.9" rx="1.6" fill="none" stroke="#A9D18E" stroke-width="4.2"/><rect x="14.4" y="53" width="6.8" height="5" fill="#A9D18E"/><rect x="9" y="57.3" width="17.6" height="4.2" rx="0.8" fill="#A9D18E"/><path d="M30.3 22.4 H54.3 A5.2 5.2 0 0 0 55.6 12.2 A5.6 5.6 0 0 0 46.8 7 A7.3 7.3 0 0 0 32.9 9.3 A6.5 6.5 0 0 0 30.3 22.4Z" fill="none" stroke="#A9D18E" stroke-width="4.1" stroke-linejoin="round"/><path d="M9.6 24.6 Q9.2 16.5 15.6 13.6" fill="none" stroke="#A9D18E" stroke-width="4.6"/><path d="M13.6 8.2 L20.2 12.6 L15.4 19.4Z" fill="#A9D18E"/><path d="M50.6 28 Q51.4 35.6 45.2 38.6" fill="none" stroke="#A9D18E" stroke-width="4.6"/><path d="M46.6 33.2 L39.8 39 L46 44.6Z" fill="#A9D18E"/></svg>
<svg x="539.7" y="152" width="27.80" height="27.50" viewBox="0 0 53.6 55.4" preserveAspectRatio="none"><g fill="#2E75B6"><circle cx="11.35" cy="32.2" r="5.7"/><circle cx="42.2" cy="32.2" r="5.7"/><path d="M0 51.3 V45.0 C0 42.0 4.4 39.8 10.0 39.8 C15.6 39.8 20 42.0 20 45.0 V51.3Z"/><path d="M33.5 51.3 V45.0 C33.5 42.0 37.922 39.8 43.55 39.8 C49.178 39.8 53.6 42.0 53.6 45.0 V51.3Z"/></g><g fill="#2E75B6" stroke="#fff" stroke-width="2.2" paint-order="stroke"><circle cx="26.7" cy="36.9" r="5.7"/><path d="M15.3 55.4 V49.7 C15.3 46.7 20.316000000000003 44.5 26.700000000000003 44.5 C33.084 44.5 38.1 46.7 38.1 49.7 V55.4Z"/></g><path d="M22.8 19.6 H30.8 L31.4 17.3 Q35.4 14 35.4 9.5 A8.6 8.6 0 1 0 18.2 9.5 Q18.2 14 22.2 17.3Z" fill="none" stroke="#2E75B6" stroke-width="1.7" stroke-linejoin="round"/><path d="M22.6 22.7 H31" stroke="#2E75B6" stroke-width="1.7" fill="none" stroke-linecap="round"/><path d="M24 24.9 H29.6 L26.8 27.6Z" fill="#2E75B6"/><path d="M27.9 4.6 L23.6 10.8 H26.7 L25.6 15.2 L30.5 8.6 H27.2Z" fill="#2E75B6"/></svg>
<svg x="676.4" y="149" width="32.00" height="29.00" viewBox="0 0 59 58" preserveAspectRatio="none"><polygon points="16.200000000000003,14.6 23.0,14.6 29.200000000000003,55.6 10.000000000000002,55.6" fill="#00B050"/><rect x="17.69" y="28.54" width="3.82" height="2.76" fill="#fff"/><rect x="16.63" y="35.57" width="5.94" height="2.76" fill="#fff"/><rect x="15.57" y="42.60" width="8.07" height="2.76" fill="#fff"/><rect x="14.50" y="49.63" width="10.19" height="2.76" fill="#fff"/><g fill="none" stroke="#00B050" stroke-linecap="round" stroke-linejoin="round"><path d="M19.6 1.9 V14.6" stroke-width="5.5"/><path d="M3.6000000000000014 55.6 H35.6" stroke-width="4.6" stroke-linecap="butt"/><path d="M2.4 14.6 H55.4" stroke-width="5.1"/><path d="M2.4 14.6 L19.6 2.0 L55.4 14.6" stroke-width="4.1"/><path d="M49 14.6 V29.4" stroke-width="3.6999999999999997" stroke-linecap="butt"/><rect x="41.2" y="30.599999999999998" width="16.200000000000003" height="8.200000000000001" stroke-width="2.5" stroke-linejoin="miter"/></g></svg>
<svg x="716" y="152.6" width="31.00" height="24.00" viewBox="0 0 63 52.4" preserveAspectRatio="none"><g fill="#BF9000"><circle cx="9.1" cy="3.9" r="3.8"/><circle cx="24" cy="3.9" r="3.8"/><circle cx="38.9" cy="3.9" r="3.8"/><path d="M5.2 8.6 H13 Q15.4 8.6 16 11 L18 22.2 Q18 23.8 16.6 23.8 Q15.6 23.8 15.2 22.6 L13.6 14.6 L15.4 29 H12.6 V35.5 H10 V29 H8.2 V39.5 H5.2 V29 H2.8 L4.6 14.6 L3 22.6 Q2.6 23.8 1.6 23.8 Q0.2 23.8 0.2 22.2 L2.2 11 Q2.8 8.6 5.2 8.6Z"/><path d="M20 8.6 H28 Q30.4 8.6 31 11 L33 22.2 Q33 23.8 31.6 23.8 Q30.6 23.8 30.2 22.6 L28.8 15 V27 H19.2 V15 L17.8 22.6 Q17.4 23.8 16.4 23.8 Q15 23.8 15 22.2 L17 11 Q17.6 8.6 20 8.6Z"/><path d="M35 8.6 H43 Q45.4 8.6 46 11 L48 20.4 Q48 22 46.6 22 Q45.6 22 45.2 20.8 L43.8 15 L44 27 H41.4 V24.5 H39.6 V32 H36.6 V24.5 H34.2 V15 L32.8 22.6 Q32.4 23.8 31.4 23.8 Q30 23.8 30 22.2 L32 11 Q32.6 8.6 35 8.6Z"/></g><path d="M4.9 13.5 L3.6 23 M13.3 13.5 L14.7 23 M19.5 13.5 L18.4 23 M28.6 13.5 L29.7 23 M34.5 13.5 L33.3 23 M43.6 13.5 L44.9 21.5" stroke="#fff" stroke-width="0.8" fill="none"/><path d="M2.1 50.3 L24 28.4 L34.9 40.4 L57.6 17.4" fill="none" stroke="#fff" stroke-width="8.2" stroke-linejoin="miter"/><path d="M2.1 50.3 L24 28.4 L34.9 40.4 L57.6 17.4" fill="none" stroke="#BF9000" stroke-width="4.7" stroke-linejoin="miter"/><path d="M51.4 12.7 H63 V24.4Z" fill="#BF9000" stroke="#fff" stroke-width="0"/></svg>
<svg x="750.6" y="149.4" width="32.80" height="28.00" viewBox="0 0 63.6 57.5" preserveAspectRatio="none"><circle cx="13.4" cy="5.45" r="5.4" fill="#C00000"/><path d="M8.4 12.1 H18.4 Q22.700000000000003 12.1 23.6 16.2 L26.8 29.3 A2.1 2.1 0 0 1 22.8 30.6 L19.4 19 V56.6 A0.9 0.9 0 0 1 18.5 57.5 H15.600000000000001 A0.9 0.9 0 0 1 14.700000000000001 56.6 V36.4 H12.1 V56.6 A0.9 0.9 0 0 1 11.2 57.5 H8.3 A0.9 0.9 0 0 1 7.4 56.6 V19 L4.0 30.6 A2.1 2.1 0 0 1 0.0 29.3 L3.200000000000001 16.2 Q4.1 12.1 8.4 12.1Z" fill="#C00000"/><circle cx="50.3" cy="5.45" r="5.4" fill="#C00000"/><path d="M45.3 12.1 H55.3 Q59.599999999999994 12.1 60.5 16.2 L63.699999999999996 29.3 A2.1 2.1 0 0 1 59.699999999999996 30.6 L56.3 19 V56.6 A0.9 0.9 0 0 1 55.4 57.5 H52.5 A0.9 0.9 0 0 1 51.599999999999994 56.6 V36.4 H49.0 V56.6 A0.9 0.9 0 0 1 48.099999999999994 57.5 H45.199999999999996 A0.9 0.9 0 0 1 44.3 56.6 V19 L40.9 30.6 A2.1 2.1 0 0 1 36.9 29.3 L40.099999999999994 16.2 Q41.0 12.1 45.3 12.1Z" fill="#C00000"/><path d="M26.8 12.1 H36.8 Q41.1 12.1 42.0 16.2 L45.2 29.3 A2.1 2.1 0 0 1 41.2 30.6 L37.8 19 V56.6 A0.9 0.9 0 0 1 36.9 57.5 H34.0 A0.9 0.9 0 0 1 33.1 56.6 V36.4 H30.5 V56.6 A0.9 0.9 0 0 1 29.6 57.5 H26.700000000000003 A0.9 0.9 0 0 1 25.8 56.6 V19 L22.4 30.6 A2.1 2.1 0 0 1 18.4 29.3 L21.6 16.2 Q22.5 12.1 26.8 12.1Z" fill="#C00000" stroke="#fff" stroke-width="2" paint-order="stroke" stroke-linejoin="round"/><circle cx="31.8" cy="5.45" r="5.4" fill="#C00000"/></svg>
<svg x="789" y="148.6" width="32.40" height="29.40" viewBox="0 0 61.4 61.5" preserveAspectRatio="none"><rect x="2.1" y="30" width="31.5" height="21.9" rx="1.6" fill="none" stroke="#A9D18E" stroke-width="4.2"/><rect x="14.4" y="53" width="6.8" height="5" fill="#A9D18E"/><rect x="9" y="57.3" width="17.6" height="4.2" rx="0.8" fill="#A9D18E"/><path d="M30.3 22.4 H54.3 A5.2 5.2 0 0 0 55.6 12.2 A5.6 5.6 0 0 0 46.8 7 A7.3 7.3 0 0 0 32.9 9.3 A6.5 6.5 0 0 0 30.3 22.4Z" fill="none" stroke="#A9D18E" stroke-width="4.1" stroke-linejoin="round"/><path d="M9.6 24.6 Q9.2 16.5 15.6 13.6" fill="none" stroke="#A9D18E" stroke-width="4.6"/><path d="M13.6 8.2 L20.2 12.6 L15.4 19.4Z" fill="#A9D18E"/><path d="M50.6 28 Q51.4 35.6 45.2 38.6" fill="none" stroke="#A9D18E" stroke-width="4.6"/><path d="M46.6 33.2 L39.8 39 L46 44.6Z" fill="#A9D18E"/></svg>
<svg x="824.4" y="154" width="32.60" height="21.40" viewBox="0 0 63 45" preserveAspectRatio="none"><g fill="#FFC000"><circle cx="12.3" cy="9.4" r="5.5"/><circle cx="50.2" cy="9.4" r="5.5"/><path d="M0 31.2 V24.5 Q0 20.8 4 19.7 Q10 18.1 18 18.3 V31.2Z"/><path d="M62.8 31.2 V24.5 Q62.8 20.8 58.8 19.7 Q52.8 18.1 44.8 18.3 V31.2Z"/><path d="M18.1 27 H44.8 V40.7 Q44.8 41.5 44 41.5 H18.9 Q18.1 41.5 18.1 40.7Z"/></g><circle cx="31.05" cy="17.9" r="18.1" fill="#fff"/><path d="M42 29 L55.6 41.8" stroke="#fff" stroke-width="9.4" stroke-linecap="round" fill="none"/><circle cx="31.05" cy="17.9" r="14.95" fill="none" stroke="#FFC000" stroke-width="3.4"/><circle cx="31.05" cy="14" r="7.5" fill="#FFC000"/><path d="M19.5 27.4 Q23 23.7 31.05 23.7 Q39.1 23.7 42.6 27.4 A15 15 0 0 1 19.5 27.4Z" fill="#FFC000"/><path d="M41 28 L46 32.5" stroke="#FFC000" stroke-width="4.4" fill="none"/><path d="M45.8 32.6 L55.4 41.6" stroke="#FFC000" stroke-width="6.9" stroke-linecap="round" fill="none"/></svg>
<svg x="861" y="148.4" width="27.00" height="26.00" viewBox="0 0 53.6 55.4" preserveAspectRatio="none"><g fill="#2E75B6"><circle cx="11.35" cy="32.2" r="5.7"/><circle cx="42.2" cy="32.2" r="5.7"/><path d="M0 51.3 V45.0 C0 42.0 4.4 39.8 10.0 39.8 C15.6 39.8 20 42.0 20 45.0 V51.3Z"/><path d="M33.5 51.3 V45.0 C33.5 42.0 37.922 39.8 43.55 39.8 C49.178 39.8 53.6 42.0 53.6 45.0 V51.3Z"/></g><g fill="#2E75B6" stroke="#fff" stroke-width="2.2" paint-order="stroke"><circle cx="26.7" cy="36.9" r="5.7"/><path d="M15.3 55.4 V49.7 C15.3 46.7 20.316000000000003 44.5 26.700000000000003 44.5 C33.084 44.5 38.1 46.7 38.1 49.7 V55.4Z"/></g><path d="M22.8 19.6 H30.8 L31.4 17.3 Q35.4 14 35.4 9.5 A8.6 8.6 0 1 0 18.2 9.5 Q18.2 14 22.2 17.3Z" fill="none" stroke="#2E75B6" stroke-width="1.7" stroke-linejoin="round"/><path d="M22.6 22.7 H31" stroke="#2E75B6" stroke-width="1.7" fill="none" stroke-linecap="round"/><path d="M24 24.9 H29.6 L26.8 27.6Z" fill="#2E75B6"/><path d="M27.9 4.6 L23.6 10.8 H26.7 L25.6 15.2 L30.5 8.6 H27.2Z" fill="#2E75B6"/></svg>
<svg x="948.7" y="160.8" width="26.00" height="27.20" viewBox="0 0 53.6 55.4" preserveAspectRatio="none"><g fill="#2E75B6"><circle cx="11.35" cy="32.2" r="5.7"/><circle cx="42.2" cy="32.2" r="5.7"/><path d="M0 51.3 V45.0 C0 42.0 4.4 39.8 10.0 39.8 C15.6 39.8 20 42.0 20 45.0 V51.3Z"/><path d="M33.5 51.3 V45.0 C33.5 42.0 37.922 39.8 43.55 39.8 C49.178 39.8 53.6 42.0 53.6 45.0 V51.3Z"/></g><g fill="#2E75B6" stroke="#fff" stroke-width="2.2" paint-order="stroke"><circle cx="26.7" cy="36.9" r="5.7"/><path d="M15.3 55.4 V49.7 C15.3 46.7 20.316000000000003 44.5 26.700000000000003 44.5 C33.084 44.5 38.1 46.7 38.1 49.7 V55.4Z"/></g><path d="M22.8 19.6 H30.8 L31.4 17.3 Q35.4 14 35.4 9.5 A8.6 8.6 0 1 0 18.2 9.5 Q18.2 14 22.2 17.3Z" fill="none" stroke="#2E75B6" stroke-width="1.7" stroke-linejoin="round"/><path d="M22.6 22.7 H31" stroke="#2E75B6" stroke-width="1.7" fill="none" stroke-linecap="round"/><path d="M24 24.9 H29.6 L26.8 27.6Z" fill="#2E75B6"/><path d="M27.9 4.6 L23.6 10.8 H26.7 L25.6 15.2 L30.5 8.6 H27.2Z" fill="#2E75B6"/></svg>
<svg x="977.8" y="166.7" width="29.70" height="25.00" viewBox="0 0 63 52.4" preserveAspectRatio="none"><g fill="#BF9000"><circle cx="9.1" cy="3.9" r="3.8"/><circle cx="24" cy="3.9" r="3.8"/><circle cx="38.9" cy="3.9" r="3.8"/><path d="M5.2 8.6 H13 Q15.4 8.6 16 11 L18 22.2 Q18 23.8 16.6 23.8 Q15.6 23.8 15.2 22.6 L13.6 14.6 L15.4 29 H12.6 V35.5 H10 V29 H8.2 V39.5 H5.2 V29 H2.8 L4.6 14.6 L3 22.6 Q2.6 23.8 1.6 23.8 Q0.2 23.8 0.2 22.2 L2.2 11 Q2.8 8.6 5.2 8.6Z"/><path d="M20 8.6 H28 Q30.4 8.6 31 11 L33 22.2 Q33 23.8 31.6 23.8 Q30.6 23.8 30.2 22.6 L28.8 15 V27 H19.2 V15 L17.8 22.6 Q17.4 23.8 16.4 23.8 Q15 23.8 15 22.2 L17 11 Q17.6 8.6 20 8.6Z"/><path d="M35 8.6 H43 Q45.4 8.6 46 11 L48 20.4 Q48 22 46.6 22 Q45.6 22 45.2 20.8 L43.8 15 L44 27 H41.4 V24.5 H39.6 V32 H36.6 V24.5 H34.2 V15 L32.8 22.6 Q32.4 23.8 31.4 23.8 Q30 23.8 30 22.2 L32 11 Q32.6 8.6 35 8.6Z"/></g><path d="M4.9 13.5 L3.6 23 M13.3 13.5 L14.7 23 M19.5 13.5 L18.4 23 M28.6 13.5 L29.7 23 M34.5 13.5 L33.3 23 M43.6 13.5 L44.9 21.5" stroke="#fff" stroke-width="0.8" fill="none"/><path d="M2.1 50.3 L24 28.4 L34.9 40.4 L57.6 17.4" fill="none" stroke="#fff" stroke-width="8.2" stroke-linejoin="miter"/><path d="M2.1 50.3 L24 28.4 L34.9 40.4 L57.6 17.4" fill="none" stroke="#BF9000" stroke-width="4.7" stroke-linejoin="miter"/><path d="M51.4 12.7 H63 V24.4Z" fill="#BF9000" stroke="#fff" stroke-width="0"/></svg>
<svg x="1010" y="165" width="30.00" height="28.00" viewBox="0 0 63.6 57.5" preserveAspectRatio="none"><circle cx="13.4" cy="5.45" r="5.4" fill="#C00000"/><path d="M8.4 12.1 H18.4 Q22.700000000000003 12.1 23.6 16.2 L26.8 29.3 A2.1 2.1 0 0 1 22.8 30.6 L19.4 19 V56.6 A0.9 0.9 0 0 1 18.5 57.5 H15.600000000000001 A0.9 0.9 0 0 1 14.700000000000001 56.6 V36.4 H12.1 V56.6 A0.9 0.9 0 0 1 11.2 57.5 H8.3 A0.9 0.9 0 0 1 7.4 56.6 V19 L4.0 30.6 A2.1 2.1 0 0 1 0.0 29.3 L3.200000000000001 16.2 Q4.1 12.1 8.4 12.1Z" fill="#C00000"/><circle cx="50.3" cy="5.45" r="5.4" fill="#C00000"/><path d="M45.3 12.1 H55.3 Q59.599999999999994 12.1 60.5 16.2 L63.699999999999996 29.3 A2.1 2.1 0 0 1 59.699999999999996 30.6 L56.3 19 V56.6 A0.9 0.9 0 0 1 55.4 57.5 H52.5 A0.9 0.9 0 0 1 51.599999999999994 56.6 V36.4 H49.0 V56.6 A0.9 0.9 0 0 1 48.099999999999994 57.5 H45.199999999999996 A0.9 0.9 0 0 1 44.3 56.6 V19 L40.9 30.6 A2.1 2.1 0 0 1 36.9 29.3 L40.099999999999994 16.2 Q41.0 12.1 45.3 12.1Z" fill="#C00000"/><path d="M26.8 12.1 H36.8 Q41.1 12.1 42.0 16.2 L45.2 29.3 A2.1 2.1 0 0 1 41.2 30.6 L37.8 19 V56.6 A0.9 0.9 0 0 1 36.9 57.5 H34.0 A0.9 0.9 0 0 1 33.1 56.6 V36.4 H30.5 V56.6 A0.9 0.9 0 0 1 29.6 57.5 H26.700000000000003 A0.9 0.9 0 0 1 25.8 56.6 V19 L22.4 30.6 A2.1 2.1 0 0 1 18.4 29.3 L21.6 16.2 Q22.5 12.1 26.8 12.1Z" fill="#C00000" stroke="#fff" stroke-width="2" paint-order="stroke" stroke-linejoin="round"/><circle cx="31.8" cy="5.45" r="5.4" fill="#C00000"/></svg>
<svg x="1045" y="165.3" width="29.70" height="20.90" viewBox="0 0 63 45" preserveAspectRatio="none"><g fill="#FFC000"><circle cx="12.3" cy="9.4" r="5.5"/><circle cx="50.2" cy="9.4" r="5.5"/><path d="M0 31.2 V24.5 Q0 20.8 4 19.7 Q10 18.1 18 18.3 V31.2Z"/><path d="M62.8 31.2 V24.5 Q62.8 20.8 58.8 19.7 Q52.8 18.1 44.8 18.3 V31.2Z"/><path d="M18.1 27 H44.8 V40.7 Q44.8 41.5 44 41.5 H18.9 Q18.1 41.5 18.1 40.7Z"/></g><circle cx="31.05" cy="17.9" r="18.1" fill="#fff"/><path d="M42 29 L55.6 41.8" stroke="#fff" stroke-width="9.4" stroke-linecap="round" fill="none"/><circle cx="31.05" cy="17.9" r="14.95" fill="none" stroke="#FFC000" stroke-width="3.4"/><circle cx="31.05" cy="14" r="7.5" fill="#FFC000"/><path d="M19.5 27.4 Q23 23.7 31.05 23.7 Q39.1 23.7 42.6 27.4 A15 15 0 0 1 19.5 27.4Z" fill="#FFC000"/><path d="M41 28 L46 32.5" stroke="#FFC000" stroke-width="4.4" fill="none"/><path d="M45.8 32.6 L55.4 41.6" stroke="#FFC000" stroke-width="6.9" stroke-linecap="round" fill="none"/></svg>
<svg x="1081.3" y="160.8" width="29.00" height="29.20" viewBox="0 0 61.4 61.5" preserveAspectRatio="none"><rect x="2.1" y="30" width="31.5" height="21.9" rx="1.6" fill="none" stroke="#A9D18E" stroke-width="4.2"/><rect x="14.4" y="53" width="6.8" height="5" fill="#A9D18E"/><rect x="9" y="57.3" width="17.6" height="4.2" rx="0.8" fill="#A9D18E"/><path d="M30.3 22.4 H54.3 A5.2 5.2 0 0 0 55.6 12.2 A5.6 5.6 0 0 0 46.8 7 A7.3 7.3 0 0 0 32.9 9.3 A6.5 6.5 0 0 0 30.3 22.4Z" fill="none" stroke="#A9D18E" stroke-width="4.1" stroke-linejoin="round"/><path d="M9.6 24.6 Q9.2 16.5 15.6 13.6" fill="none" stroke="#A9D18E" stroke-width="4.6"/><path d="M13.6 8.2 L20.2 12.6 L15.4 19.4Z" fill="#A9D18E"/><path d="M50.6 28 Q51.4 35.6 45.2 38.6" fill="none" stroke="#A9D18E" stroke-width="4.6"/><path d="M46.6 33.2 L39.8 39 L46 44.6Z" fill="#A9D18E"/></svg>
<svg x="985" y="353.7" width="32.50" height="32.10" viewBox="0 0 61.4 61.5" preserveAspectRatio="none"><rect x="2.1" y="30" width="31.5" height="21.9" rx="1.6" fill="none" stroke="#A9D18E" stroke-width="4.2"/><rect x="14.4" y="53" width="6.8" height="5" fill="#A9D18E"/><rect x="9" y="57.3" width="17.6" height="4.2" rx="0.8" fill="#A9D18E"/><path d="M30.3 22.4 H54.3 A5.2 5.2 0 0 0 55.6 12.2 A5.6 5.6 0 0 0 46.8 7 A7.3 7.3 0 0 0 32.9 9.3 A6.5 6.5 0 0 0 30.3 22.4Z" fill="none" stroke="#A9D18E" stroke-width="4.1" stroke-linejoin="round"/><path d="M9.6 24.6 Q9.2 16.5 15.6 13.6" fill="none" stroke="#A9D18E" stroke-width="4.6"/><path d="M13.6 8.2 L20.2 12.6 L15.4 19.4Z" fill="#A9D18E"/><path d="M50.6 28 Q51.4 35.6 45.2 38.6" fill="none" stroke="#A9D18E" stroke-width="4.6"/><path d="M46.6 33.2 L39.8 39 L46 44.6Z" fill="#A9D18E"/></svg>
<svg x="1024.7" y="355.3" width="29.50" height="28.90" viewBox="0 0 59 58" preserveAspectRatio="none"><polygon points="16.200000000000003,14.6 23.0,14.6 29.200000000000003,55.6 10.000000000000002,55.6" fill="#00B050"/><rect x="17.69" y="28.54" width="3.82" height="2.76" fill="#fff"/><rect x="16.63" y="35.57" width="5.94" height="2.76" fill="#fff"/><rect x="15.57" y="42.60" width="8.07" height="2.76" fill="#fff"/><rect x="14.50" y="49.63" width="10.19" height="2.76" fill="#fff"/><g fill="none" stroke="#00B050" stroke-linecap="round" stroke-linejoin="round"><path d="M19.6 1.9 V14.6" stroke-width="5.5"/><path d="M3.6000000000000014 55.6 H35.6" stroke-width="4.6" stroke-linecap="butt"/><path d="M2.4 14.6 H55.4" stroke-width="5.1"/><path d="M2.4 14.6 L19.6 2.0 L55.4 14.6" stroke-width="4.1"/><path d="M49 14.6 V29.4" stroke-width="3.6999999999999997" stroke-linecap="butt"/><rect x="41.2" y="30.599999999999998" width="16.200000000000003" height="8.200000000000001" stroke-width="2.5" stroke-linejoin="miter"/></g></svg>
<svg x="1062.2" y="355.8" width="36.10" height="30.00" viewBox="0 0 63 52.4" preserveAspectRatio="none"><g fill="#BF9000"><circle cx="9.1" cy="3.9" r="3.8"/><circle cx="24" cy="3.9" r="3.8"/><circle cx="38.9" cy="3.9" r="3.8"/><path d="M5.2 8.6 H13 Q15.4 8.6 16 11 L18 22.2 Q18 23.8 16.6 23.8 Q15.6 23.8 15.2 22.6 L13.6 14.6 L15.4 29 H12.6 V35.5 H10 V29 H8.2 V39.5 H5.2 V29 H2.8 L4.6 14.6 L3 22.6 Q2.6 23.8 1.6 23.8 Q0.2 23.8 0.2 22.2 L2.2 11 Q2.8 8.6 5.2 8.6Z"/><path d="M20 8.6 H28 Q30.4 8.6 31 11 L33 22.2 Q33 23.8 31.6 23.8 Q30.6 23.8 30.2 22.6 L28.8 15 V27 H19.2 V15 L17.8 22.6 Q17.4 23.8 16.4 23.8 Q15 23.8 15 22.2 L17 11 Q17.6 8.6 20 8.6Z"/><path d="M35 8.6 H43 Q45.4 8.6 46 11 L48 20.4 Q48 22 46.6 22 Q45.6 22 45.2 20.8 L43.8 15 L44 27 H41.4 V24.5 H39.6 V32 H36.6 V24.5 H34.2 V15 L32.8 22.6 Q32.4 23.8 31.4 23.8 Q30 23.8 30 22.2 L32 11 Q32.6 8.6 35 8.6Z"/></g><path d="M4.9 13.5 L3.6 23 M13.3 13.5 L14.7 23 M19.5 13.5 L18.4 23 M28.6 13.5 L29.7 23 M34.5 13.5 L33.3 23 M43.6 13.5 L44.9 21.5" stroke="#fff" stroke-width="0.8" fill="none"/><path d="M2.1 50.3 L24 28.4 L34.9 40.4 L57.6 17.4" fill="none" stroke="#fff" stroke-width="8.2" stroke-linejoin="miter"/><path d="M2.1 50.3 L24 28.4 L34.9 40.4 L57.6 17.4" fill="none" stroke="#BF9000" stroke-width="4.7" stroke-linejoin="miter"/><path d="M51.4 12.7 H63 V24.4Z" fill="#BF9000" stroke="#fff" stroke-width="0"/></svg>
<svg x="1099.7" y="353.3" width="31.50" height="32.50" viewBox="0 0 53.6 55.4" preserveAspectRatio="none"><g fill="#2E75B6"><circle cx="11.35" cy="32.2" r="5.7"/><circle cx="42.2" cy="32.2" r="5.7"/><path d="M0 51.3 V45.0 C0 42.0 4.4 39.8 10.0 39.8 C15.6 39.8 20 42.0 20 45.0 V51.3Z"/><path d="M33.5 51.3 V45.0 C33.5 42.0 37.922 39.8 43.55 39.8 C49.178 39.8 53.6 42.0 53.6 45.0 V51.3Z"/></g><g fill="#2E75B6" stroke="#fff" stroke-width="2.2" paint-order="stroke"><circle cx="26.7" cy="36.9" r="5.7"/><path d="M15.3 55.4 V49.7 C15.3 46.7 20.316000000000003 44.5 26.700000000000003 44.5 C33.084 44.5 38.1 46.7 38.1 49.7 V55.4Z"/></g><path d="M22.8 19.6 H30.8 L31.4 17.3 Q35.4 14 35.4 9.5 A8.6 8.6 0 1 0 18.2 9.5 Q18.2 14 22.2 17.3Z" fill="none" stroke="#2E75B6" stroke-width="1.7" stroke-linejoin="round"/><path d="M22.6 22.7 H31" stroke="#2E75B6" stroke-width="1.7" fill="none" stroke-linecap="round"/><path d="M24 24.9 H29.6 L26.8 27.6Z" fill="#2E75B6"/><path d="M27.9 4.6 L23.6 10.8 H26.7 L25.6 15.2 L30.5 8.6 H27.2Z" fill="#2E75B6"/></svg>
<svg x="958.6" y="540" width="32.00" height="29.00" viewBox="0 0 59 58" preserveAspectRatio="none"><polygon points="16.200000000000003,14.6 23.0,14.6 29.200000000000003,55.6 10.000000000000002,55.6" fill="#00B050"/><rect x="17.69" y="28.54" width="3.82" height="2.76" fill="#fff"/><rect x="16.63" y="35.57" width="5.94" height="2.76" fill="#fff"/><rect x="15.57" y="42.60" width="8.07" height="2.76" fill="#fff"/><rect x="14.50" y="49.63" width="10.19" height="2.76" fill="#fff"/><g fill="none" stroke="#00B050" stroke-linecap="round" stroke-linejoin="round"><path d="M19.6 1.9 V14.6" stroke-width="5.5"/><path d="M3.6000000000000014 55.6 H35.6" stroke-width="4.6" stroke-linecap="butt"/><path d="M2.4 14.6 H55.4" stroke-width="5.1"/><path d="M2.4 14.6 L19.6 2.0 L55.4 14.6" stroke-width="4.1"/><path d="M49 14.6 V29.4" stroke-width="3.6999999999999997" stroke-linecap="butt"/><rect x="41.2" y="30.599999999999998" width="16.200000000000003" height="8.200000000000001" stroke-width="2.5" stroke-linejoin="miter"/></g></svg>
<svg x="997.4" y="542.6" width="32.00" height="25.00" viewBox="0 0 63 52.4" preserveAspectRatio="none"><g fill="#BF9000"><circle cx="9.1" cy="3.9" r="3.8"/><circle cx="24" cy="3.9" r="3.8"/><circle cx="38.9" cy="3.9" r="3.8"/><path d="M5.2 8.6 H13 Q15.4 8.6 16 11 L18 22.2 Q18 23.8 16.6 23.8 Q15.6 23.8 15.2 22.6 L13.6 14.6 L15.4 29 H12.6 V35.5 H10 V29 H8.2 V39.5 H5.2 V29 H2.8 L4.6 14.6 L3 22.6 Q2.6 23.8 1.6 23.8 Q0.2 23.8 0.2 22.2 L2.2 11 Q2.8 8.6 5.2 8.6Z"/><path d="M20 8.6 H28 Q30.4 8.6 31 11 L33 22.2 Q33 23.8 31.6 23.8 Q30.6 23.8 30.2 22.6 L28.8 15 V27 H19.2 V15 L17.8 22.6 Q17.4 23.8 16.4 23.8 Q15 23.8 15 22.2 L17 11 Q17.6 8.6 20 8.6Z"/><path d="M35 8.6 H43 Q45.4 8.6 46 11 L48 20.4 Q48 22 46.6 22 Q45.6 22 45.2 20.8 L43.8 15 L44 27 H41.4 V24.5 H39.6 V32 H36.6 V24.5 H34.2 V15 L32.8 22.6 Q32.4 23.8 31.4 23.8 Q30 23.8 30 22.2 L32 11 Q32.6 8.6 35 8.6Z"/></g><path d="M4.9 13.5 L3.6 23 M13.3 13.5 L14.7 23 M19.5 13.5 L18.4 23 M28.6 13.5 L29.7 23 M34.5 13.5 L33.3 23 M43.6 13.5 L44.9 21.5" stroke="#fff" stroke-width="0.8" fill="none"/><path d="M2.1 50.3 L24 28.4 L34.9 40.4 L57.6 17.4" fill="none" stroke="#fff" stroke-width="8.2" stroke-linejoin="miter"/><path d="M2.1 50.3 L24 28.4 L34.9 40.4 L57.6 17.4" fill="none" stroke="#BF9000" stroke-width="4.7" stroke-linejoin="miter"/><path d="M51.4 12.7 H63 V24.4Z" fill="#BF9000" stroke="#fff" stroke-width="0"/></svg>
<svg x="1032.6" y="540.6" width="33.80" height="28.00" viewBox="0 0 63.6 57.5" preserveAspectRatio="none"><circle cx="13.4" cy="5.45" r="5.4" fill="#C00000"/><path d="M8.4 12.1 H18.4 Q22.700000000000003 12.1 23.6 16.2 L26.8 29.3 A2.1 2.1 0 0 1 22.8 30.6 L19.4 19 V56.6 A0.9 0.9 0 0 1 18.5 57.5 H15.600000000000001 A0.9 0.9 0 0 1 14.700000000000001 56.6 V36.4 H12.1 V56.6 A0.9 0.9 0 0 1 11.2 57.5 H8.3 A0.9 0.9 0 0 1 7.4 56.6 V19 L4.0 30.6 A2.1 2.1 0 0 1 0.0 29.3 L3.200000000000001 16.2 Q4.1 12.1 8.4 12.1Z" fill="#C00000"/><circle cx="50.3" cy="5.45" r="5.4" fill="#C00000"/><path d="M45.3 12.1 H55.3 Q59.599999999999994 12.1 60.5 16.2 L63.699999999999996 29.3 A2.1 2.1 0 0 1 59.699999999999996 30.6 L56.3 19 V56.6 A0.9 0.9 0 0 1 55.4 57.5 H52.5 A0.9 0.9 0 0 1 51.599999999999994 56.6 V36.4 H49.0 V56.6 A0.9 0.9 0 0 1 48.099999999999994 57.5 H45.199999999999996 A0.9 0.9 0 0 1 44.3 56.6 V19 L40.9 30.6 A2.1 2.1 0 0 1 36.9 29.3 L40.099999999999994 16.2 Q41.0 12.1 45.3 12.1Z" fill="#C00000"/><path d="M26.8 12.1 H36.8 Q41.1 12.1 42.0 16.2 L45.2 29.3 A2.1 2.1 0 0 1 41.2 30.6 L37.8 19 V56.6 A0.9 0.9 0 0 1 36.9 57.5 H34.0 A0.9 0.9 0 0 1 33.1 56.6 V36.4 H30.5 V56.6 A0.9 0.9 0 0 1 29.6 57.5 H26.700000000000003 A0.9 0.9 0 0 1 25.8 56.6 V19 L22.4 30.6 A2.1 2.1 0 0 1 18.4 29.3 L21.6 16.2 Q22.5 12.1 26.8 12.1Z" fill="#C00000" stroke="#fff" stroke-width="2" paint-order="stroke" stroke-linejoin="round"/><circle cx="31.8" cy="5.45" r="5.4" fill="#C00000"/></svg>
<svg x="1071.4" y="539.6" width="32.00" height="29.80" viewBox="0 0 61.4 61.5" preserveAspectRatio="none"><rect x="2.1" y="30" width="31.5" height="21.9" rx="1.6" fill="none" stroke="#A9D18E" stroke-width="4.2"/><rect x="14.4" y="53" width="6.8" height="5" fill="#A9D18E"/><rect x="9" y="57.3" width="17.6" height="4.2" rx="0.8" fill="#A9D18E"/><path d="M30.3 22.4 H54.3 A5.2 5.2 0 0 0 55.6 12.2 A5.6 5.6 0 0 0 46.8 7 A7.3 7.3 0 0 0 32.9 9.3 A6.5 6.5 0 0 0 30.3 22.4Z" fill="none" stroke="#A9D18E" stroke-width="4.1" stroke-linejoin="round"/><path d="M9.6 24.6 Q9.2 16.5 15.6 13.6" fill="none" stroke="#A9D18E" stroke-width="4.6"/><path d="M13.6 8.2 L20.2 12.6 L15.4 19.4Z" fill="#A9D18E"/><path d="M50.6 28 Q51.4 35.6 45.2 38.6" fill="none" stroke="#A9D18E" stroke-width="4.6"/><path d="M46.6 33.2 L39.8 39 L46 44.6Z" fill="#A9D18E"/></svg>
<svg x="1106" y="544.4" width="33.00" height="21.60" viewBox="0 0 63 45" preserveAspectRatio="none"><g fill="#FFC000"><circle cx="12.3" cy="9.4" r="5.5"/><circle cx="50.2" cy="9.4" r="5.5"/><path d="M0 31.2 V24.5 Q0 20.8 4 19.7 Q10 18.1 18 18.3 V31.2Z"/><path d="M62.8 31.2 V24.5 Q62.8 20.8 58.8 19.7 Q52.8 18.1 44.8 18.3 V31.2Z"/><path d="M18.1 27 H44.8 V40.7 Q44.8 41.5 44 41.5 H18.9 Q18.1 41.5 18.1 40.7Z"/></g><circle cx="31.05" cy="17.9" r="18.1" fill="#fff"/><path d="M42 29 L55.6 41.8" stroke="#fff" stroke-width="9.4" stroke-linecap="round" fill="none"/><circle cx="31.05" cy="17.9" r="14.95" fill="none" stroke="#FFC000" stroke-width="3.4"/><circle cx="31.05" cy="14" r="7.5" fill="#FFC000"/><path d="M19.5 27.4 Q23 23.7 31.05 23.7 Q39.1 23.7 42.6 27.4 A15 15 0 0 1 19.5 27.4Z" fill="#FFC000"/><path d="M41 28 L46 32.5" stroke="#FFC000" stroke-width="4.4" fill="none"/><path d="M45.8 32.6 L55.4 41.6" stroke="#FFC000" stroke-width="6.9" stroke-linecap="round" fill="none"/></svg>
<svg x="1142.6" y="539" width="27.00" height="26.00" viewBox="0 0 53.6 55.4" preserveAspectRatio="none"><g fill="#2E75B6"><circle cx="11.35" cy="32.2" r="5.7"/><circle cx="42.2" cy="32.2" r="5.7"/><path d="M0 51.3 V45.0 C0 42.0 4.4 39.8 10.0 39.8 C15.6 39.8 20 42.0 20 45.0 V51.3Z"/><path d="M33.5 51.3 V45.0 C33.5 42.0 37.922 39.8 43.55 39.8 C49.178 39.8 53.6 42.0 53.6 45.0 V51.3Z"/></g><g fill="#2E75B6" stroke="#fff" stroke-width="2.2" paint-order="stroke"><circle cx="26.7" cy="36.9" r="5.7"/><path d="M15.3 55.4 V49.7 C15.3 46.7 20.316000000000003 44.5 26.700000000000003 44.5 C33.084 44.5 38.1 46.7 38.1 49.7 V55.4Z"/></g><path d="M22.8 19.6 H30.8 L31.4 17.3 Q35.4 14 35.4 9.5 A8.6 8.6 0 1 0 18.2 9.5 Q18.2 14 22.2 17.3Z" fill="none" stroke="#2E75B6" stroke-width="1.7" stroke-linejoin="round"/><path d="M22.6 22.7 H31" stroke="#2E75B6" stroke-width="1.7" fill="none" stroke-linecap="round"/><path d="M24 24.9 H29.6 L26.8 27.6Z" fill="#2E75B6"/><path d="M27.9 4.6 L23.6 10.8 H26.7 L25.6 15.2 L30.5 8.6 H27.2Z" fill="#2E75B6"/></svg>
<svg x="26.9" y="326.9" width="25.30" height="25.30" viewBox="0 0 53.6 55.4" preserveAspectRatio="none"><g fill="#2E75B6"><circle cx="11.35" cy="32.2" r="5.7"/><circle cx="42.2" cy="32.2" r="5.7"/><path d="M0 51.3 V45.0 C0 42.0 4.4 39.8 10.0 39.8 C15.6 39.8 20 42.0 20 45.0 V51.3Z"/><path d="M33.5 51.3 V45.0 C33.5 42.0 37.922 39.8 43.55 39.8 C49.178 39.8 53.6 42.0 53.6 45.0 V51.3Z"/></g><g fill="#2E75B6" stroke="#fff" stroke-width="2.2" paint-order="stroke"><circle cx="26.7" cy="36.9" r="5.7"/><path d="M15.3 55.4 V49.7 C15.3 46.7 20.316000000000003 44.5 26.700000000000003 44.5 C33.084 44.5 38.1 46.7 38.1 49.7 V55.4Z"/></g><path d="M22.8 19.6 H30.8 L31.4 17.3 Q35.4 14 35.4 9.5 A8.6 8.6 0 1 0 18.2 9.5 Q18.2 14 22.2 17.3Z" fill="none" stroke="#2E75B6" stroke-width="1.7" stroke-linejoin="round"/><path d="M22.6 22.7 H31" stroke="#2E75B6" stroke-width="1.7" fill="none" stroke-linecap="round"/><path d="M24 24.9 H29.6 L26.8 27.6Z" fill="#2E75B6"/><path d="M27.9 4.6 L23.6 10.8 H26.7 L25.6 15.2 L30.5 8.6 H27.2Z" fill="#2E75B6"/></svg>
<svg x="62.3" y="330.6" width="28.80" height="23.80" viewBox="0 0 63 52.4" preserveAspectRatio="none"><g fill="#BF9000"><circle cx="9.1" cy="3.9" r="3.8"/><circle cx="24" cy="3.9" r="3.8"/><circle cx="38.9" cy="3.9" r="3.8"/><path d="M5.2 8.6 H13 Q15.4 8.6 16 11 L18 22.2 Q18 23.8 16.6 23.8 Q15.6 23.8 15.2 22.6 L13.6 14.6 L15.4 29 H12.6 V35.5 H10 V29 H8.2 V39.5 H5.2 V29 H2.8 L4.6 14.6 L3 22.6 Q2.6 23.8 1.6 23.8 Q0.2 23.8 0.2 22.2 L2.2 11 Q2.8 8.6 5.2 8.6Z"/><path d="M20 8.6 H28 Q30.4 8.6 31 11 L33 22.2 Q33 23.8 31.6 23.8 Q30.6 23.8 30.2 22.6 L28.8 15 V27 H19.2 V15 L17.8 22.6 Q17.4 23.8 16.4 23.8 Q15 23.8 15 22.2 L17 11 Q17.6 8.6 20 8.6Z"/><path d="M35 8.6 H43 Q45.4 8.6 46 11 L48 20.4 Q48 22 46.6 22 Q45.6 22 45.2 20.8 L43.8 15 L44 27 H41.4 V24.5 H39.6 V32 H36.6 V24.5 H34.2 V15 L32.8 22.6 Q32.4 23.8 31.4 23.8 Q30 23.8 30 22.2 L32 11 Q32.6 8.6 35 8.6Z"/></g><path d="M4.9 13.5 L3.6 23 M13.3 13.5 L14.7 23 M19.5 13.5 L18.4 23 M28.6 13.5 L29.7 23 M34.5 13.5 L33.3 23 M43.6 13.5 L44.9 21.5" stroke="#fff" stroke-width="0.8" fill="none"/><path d="M2.1 50.3 L24 28.4 L34.9 40.4 L57.6 17.4" fill="none" stroke="#fff" stroke-width="8.2" stroke-linejoin="miter"/><path d="M2.1 50.3 L24 28.4 L34.9 40.4 L57.6 17.4" fill="none" stroke="#BF9000" stroke-width="4.7" stroke-linejoin="miter"/><path d="M51.4 12.7 H63 V24.4Z" fill="#BF9000" stroke="#fff" stroke-width="0"/></svg>
<svg x="94.2" y="326.9" width="28.60" height="26.10" viewBox="0 0 63.6 57.5" preserveAspectRatio="none"><circle cx="13.4" cy="5.45" r="5.4" fill="#C00000"/><path d="M8.4 12.1 H18.4 Q22.700000000000003 12.1 23.6 16.2 L26.8 29.3 A2.1 2.1 0 0 1 22.8 30.6 L19.4 19 V56.6 A0.9 0.9 0 0 1 18.5 57.5 H15.600000000000001 A0.9 0.9 0 0 1 14.700000000000001 56.6 V36.4 H12.1 V56.6 A0.9 0.9 0 0 1 11.2 57.5 H8.3 A0.9 0.9 0 0 1 7.4 56.6 V19 L4.0 30.6 A2.1 2.1 0 0 1 0.0 29.3 L3.200000000000001 16.2 Q4.1 12.1 8.4 12.1Z" fill="#C00000"/><circle cx="50.3" cy="5.45" r="5.4" fill="#C00000"/><path d="M45.3 12.1 H55.3 Q59.599999999999994 12.1 60.5 16.2 L63.699999999999996 29.3 A2.1 2.1 0 0 1 59.699999999999996 30.6 L56.3 19 V56.6 A0.9 0.9 0 0 1 55.4 57.5 H52.5 A0.9 0.9 0 0 1 51.599999999999994 56.6 V36.4 H49.0 V56.6 A0.9 0.9 0 0 1 48.099999999999994 57.5 H45.199999999999996 A0.9 0.9 0 0 1 44.3 56.6 V19 L40.9 30.6 A2.1 2.1 0 0 1 36.9 29.3 L40.099999999999994 16.2 Q41.0 12.1 45.3 12.1Z" fill="#C00000"/><path d="M26.8 12.1 H36.8 Q41.1 12.1 42.0 16.2 L45.2 29.3 A2.1 2.1 0 0 1 41.2 30.6 L37.8 19 V56.6 A0.9 0.9 0 0 1 36.9 57.5 H34.0 A0.9 0.9 0 0 1 33.1 56.6 V36.4 H30.5 V56.6 A0.9 0.9 0 0 1 29.6 57.5 H26.700000000000003 A0.9 0.9 0 0 1 25.8 56.6 V19 L22.4 30.6 A2.1 2.1 0 0 1 18.4 29.3 L21.6 16.2 Q22.5 12.1 26.8 12.1Z" fill="#C00000" stroke="#fff" stroke-width="2" paint-order="stroke" stroke-linejoin="round"/><circle cx="31.8" cy="5.45" r="5.4" fill="#C00000"/></svg>
<svg x="127.4" y="330.2" width="29.10" height="19.10" viewBox="0 0 63 45" preserveAspectRatio="none"><g fill="#FFC000"><circle cx="12.3" cy="9.4" r="5.5"/><circle cx="50.2" cy="9.4" r="5.5"/><path d="M0 31.2 V24.5 Q0 20.8 4 19.7 Q10 18.1 18 18.3 V31.2Z"/><path d="M62.8 31.2 V24.5 Q62.8 20.8 58.8 19.7 Q52.8 18.1 44.8 18.3 V31.2Z"/><path d="M18.1 27 H44.8 V40.7 Q44.8 41.5 44 41.5 H18.9 Q18.1 41.5 18.1 40.7Z"/></g><circle cx="31.05" cy="17.9" r="18.1" fill="#fff"/><path d="M42 29 L55.6 41.8" stroke="#fff" stroke-width="9.4" stroke-linecap="round" fill="none"/><circle cx="31.05" cy="17.9" r="14.95" fill="none" stroke="#FFC000" stroke-width="3.4"/><circle cx="31.05" cy="14" r="7.5" fill="#FFC000"/><path d="M19.5 27.4 Q23 23.7 31.05 23.7 Q39.1 23.7 42.6 27.4 A15 15 0 0 1 19.5 27.4Z" fill="#FFC000"/><path d="M41 28 L46 32.5" stroke="#FFC000" stroke-width="4.4" fill="none"/><path d="M45.8 32.6 L55.4 41.6" stroke="#FFC000" stroke-width="6.9" stroke-linecap="round" fill="none"/></svg>
<svg x="160.75" y="323.6" width="27.15" height="28.10" viewBox="0 0 61.4 61.5" preserveAspectRatio="none"><rect x="2.1" y="30" width="31.5" height="21.9" rx="1.6" fill="none" stroke="#A9D18E" stroke-width="4.2"/><rect x="14.4" y="53" width="6.8" height="5" fill="#A9D18E"/><rect x="9" y="57.3" width="17.6" height="4.2" rx="0.8" fill="#A9D18E"/><path d="M30.3 22.4 H54.3 A5.2 5.2 0 0 0 55.6 12.2 A5.6 5.6 0 0 0 46.8 7 A7.3 7.3 0 0 0 32.9 9.3 A6.5 6.5 0 0 0 30.3 22.4Z" fill="none" stroke="#A9D18E" stroke-width="4.1" stroke-linejoin="round"/><path d="M9.6 24.6 Q9.2 16.5 15.6 13.6" fill="none" stroke="#A9D18E" stroke-width="4.6"/><path d="M13.6 8.2 L20.2 12.6 L15.4 19.4Z" fill="#A9D18E"/><path d="M50.6 28 Q51.4 35.6 45.2 38.6" fill="none" stroke="#A9D18E" stroke-width="4.6"/><path d="M46.6 33.2 L39.8 39 L46 44.6Z" fill="#A9D18E"/></svg>
<svg x="197.4" y="324.5" width="23.30" height="29.90" viewBox="0 0 51.1 65.5" preserveAspectRatio="none"><g fill="none" stroke="#7030A0"><path d="M8.3 2.8 H5.6 Q3.1 2.8 3.1 5.6 V27" stroke-width="2.7"/><path d="M23.2 2.8 H26 Q28.5 2.8 28.5 5.6 V27" stroke-width="2.7"/><path d="M3.1 25.5 V26.6 A12.7 12.7 0 0 0 28.5 26.6 V25.5" stroke-width="6.1" stroke-linecap="round"/><path d="M15.8 40 V50 A13.55 13.55 0 0 0 42.9 50 V32" stroke-width="4.2"/><circle cx="42.9" cy="24.5" r="7" stroke-width="2.7"/></g><circle cx="8.3" cy="2.8" r="2.7" fill="#7030A0"/><circle cx="23.2" cy="2.8" r="2.7" fill="#7030A0"/><circle cx="42.9" cy="24.5" r="3.7" fill="#7030A0"/></svg>
<svg x="28.4" y="535" width="25.10" height="25.30" viewBox="0 0 53.6 55.4" preserveAspectRatio="none"><g fill="#2E75B6"><circle cx="11.35" cy="32.2" r="5.7"/><circle cx="42.2" cy="32.2" r="5.7"/><path d="M0 51.3 V45.0 C0 42.0 4.4 39.8 10.0 39.8 C15.6 39.8 20 42.0 20 45.0 V51.3Z"/><path d="M33.5 51.3 V45.0 C33.5 42.0 37.922 39.8 43.55 39.8 C49.178 39.8 53.6 42.0 53.6 45.0 V51.3Z"/></g><g fill="#2E75B6" stroke="#fff" stroke-width="2.2" paint-order="stroke"><circle cx="26.7" cy="36.9" r="5.7"/><path d="M15.3 55.4 V49.7 C15.3 46.7 20.316000000000003 44.5 26.700000000000003 44.5 C33.084 44.5 38.1 46.7 38.1 49.7 V55.4Z"/></g><path d="M22.8 19.6 H30.8 L31.4 17.3 Q35.4 14 35.4 9.5 A8.6 8.6 0 1 0 18.2 9.5 Q18.2 14 22.2 17.3Z" fill="none" stroke="#2E75B6" stroke-width="1.7" stroke-linejoin="round"/><path d="M22.6 22.7 H31" stroke="#2E75B6" stroke-width="1.7" fill="none" stroke-linecap="round"/><path d="M24 24.9 H29.6 L26.8 27.6Z" fill="#2E75B6"/><path d="M27.9 4.6 L23.6 10.8 H26.7 L25.6 15.2 L30.5 8.6 H27.2Z" fill="#2E75B6"/></svg>
<svg x="63.6" y="538.3" width="28.40" height="24.20" viewBox="0 0 63 52.4" preserveAspectRatio="none"><g fill="#BF9000"><circle cx="9.1" cy="3.9" r="3.8"/><circle cx="24" cy="3.9" r="3.8"/><circle cx="38.9" cy="3.9" r="3.8"/><path d="M5.2 8.6 H13 Q15.4 8.6 16 11 L18 22.2 Q18 23.8 16.6 23.8 Q15.6 23.8 15.2 22.6 L13.6 14.6 L15.4 29 H12.6 V35.5 H10 V29 H8.2 V39.5 H5.2 V29 H2.8 L4.6 14.6 L3 22.6 Q2.6 23.8 1.6 23.8 Q0.2 23.8 0.2 22.2 L2.2 11 Q2.8 8.6 5.2 8.6Z"/><path d="M20 8.6 H28 Q30.4 8.6 31 11 L33 22.2 Q33 23.8 31.6 23.8 Q30.6 23.8 30.2 22.6 L28.8 15 V27 H19.2 V15 L17.8 22.6 Q17.4 23.8 16.4 23.8 Q15 23.8 15 22.2 L17 11 Q17.6 8.6 20 8.6Z"/><path d="M35 8.6 H43 Q45.4 8.6 46 11 L48 20.4 Q48 22 46.6 22 Q45.6 22 45.2 20.8 L43.8 15 L44 27 H41.4 V24.5 H39.6 V32 H36.6 V24.5 H34.2 V15 L32.8 22.6 Q32.4 23.8 31.4 23.8 Q30 23.8 30 22.2 L32 11 Q32.6 8.6 35 8.6Z"/></g><path d="M4.9 13.5 L3.6 23 M13.3 13.5 L14.7 23 M19.5 13.5 L18.4 23 M28.6 13.5 L29.7 23 M34.5 13.5 L33.3 23 M43.6 13.5 L44.9 21.5" stroke="#fff" stroke-width="0.8" fill="none"/><path d="M2.1 50.3 L24 28.4 L34.9 40.4 L57.6 17.4" fill="none" stroke="#fff" stroke-width="8.2" stroke-linejoin="miter"/><path d="M2.1 50.3 L24 28.4 L34.9 40.4 L57.6 17.4" fill="none" stroke="#BF9000" stroke-width="4.7" stroke-linejoin="miter"/><path d="M51.4 12.7 H63 V24.4Z" fill="#BF9000" stroke="#fff" stroke-width="0"/></svg>
<svg x="95.3" y="534.7" width="28.80" height="26.55" viewBox="0 0 63.6 57.5" preserveAspectRatio="none"><circle cx="13.4" cy="5.45" r="5.4" fill="#C00000"/><path d="M8.4 12.1 H18.4 Q22.700000000000003 12.1 23.6 16.2 L26.8 29.3 A2.1 2.1 0 0 1 22.8 30.6 L19.4 19 V56.6 A0.9 0.9 0 0 1 18.5 57.5 H15.600000000000001 A0.9 0.9 0 0 1 14.700000000000001 56.6 V36.4 H12.1 V56.6 A0.9 0.9 0 0 1 11.2 57.5 H8.3 A0.9 0.9 0 0 1 7.4 56.6 V19 L4.0 30.6 A2.1 2.1 0 0 1 0.0 29.3 L3.200000000000001 16.2 Q4.1 12.1 8.4 12.1Z" fill="#C00000"/><circle cx="50.3" cy="5.45" r="5.4" fill="#C00000"/><path d="M45.3 12.1 H55.3 Q59.599999999999994 12.1 60.5 16.2 L63.699999999999996 29.3 A2.1 2.1 0 0 1 59.699999999999996 30.6 L56.3 19 V56.6 A0.9 0.9 0 0 1 55.4 57.5 H52.5 A0.9 0.9 0 0 1 51.599999999999994 56.6 V36.4 H49.0 V56.6 A0.9 0.9 0 0 1 48.099999999999994 57.5 H45.199999999999996 A0.9 0.9 0 0 1 44.3 56.6 V19 L40.9 30.6 A2.1 2.1 0 0 1 36.9 29.3 L40.099999999999994 16.2 Q41.0 12.1 45.3 12.1Z" fill="#C00000"/><path d="M26.8 12.1 H36.8 Q41.1 12.1 42.0 16.2 L45.2 29.3 A2.1 2.1 0 0 1 41.2 30.6 L37.8 19 V56.6 A0.9 0.9 0 0 1 36.9 57.5 H34.0 A0.9 0.9 0 0 1 33.1 56.6 V36.4 H30.5 V56.6 A0.9 0.9 0 0 1 29.6 57.5 H26.700000000000003 A0.9 0.9 0 0 1 25.8 56.6 V19 L22.4 30.6 A2.1 2.1 0 0 1 18.4 29.3 L21.6 16.2 Q22.5 12.1 26.8 12.1Z" fill="#C00000" stroke="#fff" stroke-width="2" paint-order="stroke" stroke-linejoin="round"/><circle cx="31.8" cy="5.45" r="5.4" fill="#C00000"/></svg>
<svg x="128.7" y="538" width="28.90" height="19.60" viewBox="0 0 63 45" preserveAspectRatio="none"><g fill="#FFC000"><circle cx="12.3" cy="9.4" r="5.5"/><circle cx="50.2" cy="9.4" r="5.5"/><path d="M0 31.2 V24.5 Q0 20.8 4 19.7 Q10 18.1 18 18.3 V31.2Z"/><path d="M62.8 31.2 V24.5 Q62.8 20.8 58.8 19.7 Q52.8 18.1 44.8 18.3 V31.2Z"/><path d="M18.1 27 H44.8 V40.7 Q44.8 41.5 44 41.5 H18.9 Q18.1 41.5 18.1 40.7Z"/></g><circle cx="31.05" cy="17.9" r="18.1" fill="#fff"/><path d="M42 29 L55.6 41.8" stroke="#fff" stroke-width="9.4" stroke-linecap="round" fill="none"/><circle cx="31.05" cy="17.9" r="14.95" fill="none" stroke="#FFC000" stroke-width="3.4"/><circle cx="31.05" cy="14" r="7.5" fill="#FFC000"/><path d="M19.5 27.4 Q23 23.7 31.05 23.7 Q39.1 23.7 42.6 27.4 A15 15 0 0 1 19.5 27.4Z" fill="#FFC000"/><path d="M41 28 L46 32.5" stroke="#FFC000" stroke-width="4.4" fill="none"/><path d="M45.8 32.6 L55.4 41.6" stroke="#FFC000" stroke-width="6.9" stroke-linecap="round" fill="none"/></svg>
<svg x="161.7" y="531.4" width="27.10" height="28.60" viewBox="0 0 61.4 61.5" preserveAspectRatio="none"><rect x="2.1" y="30" width="31.5" height="21.9" rx="1.6" fill="none" stroke="#A9D18E" stroke-width="4.2"/><rect x="14.4" y="53" width="6.8" height="5" fill="#A9D18E"/><rect x="9" y="57.3" width="17.6" height="4.2" rx="0.8" fill="#A9D18E"/><path d="M30.3 22.4 H54.3 A5.2 5.2 0 0 0 55.6 12.2 A5.6 5.6 0 0 0 46.8 7 A7.3 7.3 0 0 0 32.9 9.3 A6.5 6.5 0 0 0 30.3 22.4Z" fill="none" stroke="#A9D18E" stroke-width="4.1" stroke-linejoin="round"/><path d="M9.6 24.6 Q9.2 16.5 15.6 13.6" fill="none" stroke="#A9D18E" stroke-width="4.6"/><path d="M13.6 8.2 L20.2 12.6 L15.4 19.4Z" fill="#A9D18E"/><path d="M50.6 28 Q51.4 35.6 45.2 38.6" fill="none" stroke="#A9D18E" stroke-width="4.6"/><path d="M46.6 33.2 L39.8 39 L46 44.6Z" fill="#A9D18E"/></svg>
<svg x="198.9" y="532.8" width="23.30" height="29.70" viewBox="0 0 51.1 65.5" preserveAspectRatio="none"><g fill="none" stroke="#7030A0"><path d="M8.3 2.8 H5.6 Q3.1 2.8 3.1 5.6 V27" stroke-width="2.7"/><path d="M23.2 2.8 H26 Q28.5 2.8 28.5 5.6 V27" stroke-width="2.7"/><path d="M3.1 25.5 V26.6 A12.7 12.7 0 0 0 28.5 26.6 V25.5" stroke-width="6.1" stroke-linecap="round"/><path d="M15.8 40 V50 A13.55 13.55 0 0 0 42.9 50 V32" stroke-width="4.2"/><circle cx="42.9" cy="24.5" r="7" stroke-width="2.7"/></g><circle cx="8.3" cy="2.8" r="2.7" fill="#7030A0"/><circle cx="23.2" cy="2.8" r="2.7" fill="#7030A0"/><circle cx="42.9" cy="24.5" r="3.7" fill="#7030A0"/></svg>
<svg x="276.9" y="621.5" width="24.80" height="27.50" viewBox="0 0 53.6 55.4" preserveAspectRatio="none"><g fill="#2E75B6"><circle cx="11.35" cy="32.2" r="5.7"/><circle cx="42.2" cy="32.2" r="5.7"/><path d="M0 51.3 V45.0 C0 42.0 4.4 39.8 10.0 39.8 C15.6 39.8 20 42.0 20 45.0 V51.3Z"/><path d="M33.5 51.3 V45.0 C33.5 42.0 37.922 39.8 43.55 39.8 C49.178 39.8 53.6 42.0 53.6 45.0 V51.3Z"/></g><g fill="#2E75B6" stroke="#fff" stroke-width="2.2" paint-order="stroke"><circle cx="26.7" cy="36.9" r="5.7"/><path d="M15.3 55.4 V49.7 C15.3 46.7 20.316000000000003 44.5 26.700000000000003 44.5 C33.084 44.5 38.1 46.7 38.1 49.7 V55.4Z"/></g><path d="M22.8 19.6 H30.8 L31.4 17.3 Q35.4 14 35.4 9.5 A8.6 8.6 0 1 0 18.2 9.5 Q18.2 14 22.2 17.3Z" fill="none" stroke="#2E75B6" stroke-width="1.7" stroke-linejoin="round"/><path d="M22.6 22.7 H31" stroke="#2E75B6" stroke-width="1.7" fill="none" stroke-linecap="round"/><path d="M24 24.9 H29.6 L26.8 27.6Z" fill="#2E75B6"/><path d="M27.9 4.6 L23.6 10.8 H26.7 L25.6 15.2 L30.5 8.6 H27.2Z" fill="#2E75B6"/></svg>
<svg x="309.5" y="628.5" width="28.80" height="26.00" viewBox="0 0 63 52.4" preserveAspectRatio="none"><g fill="#BF9000"><circle cx="9.1" cy="3.9" r="3.8"/><circle cx="24" cy="3.9" r="3.8"/><circle cx="38.9" cy="3.9" r="3.8"/><path d="M5.2 8.6 H13 Q15.4 8.6 16 11 L18 22.2 Q18 23.8 16.6 23.8 Q15.6 23.8 15.2 22.6 L13.6 14.6 L15.4 29 H12.6 V35.5 H10 V29 H8.2 V39.5 H5.2 V29 H2.8 L4.6 14.6 L3 22.6 Q2.6 23.8 1.6 23.8 Q0.2 23.8 0.2 22.2 L2.2 11 Q2.8 8.6 5.2 8.6Z"/><path d="M20 8.6 H28 Q30.4 8.6 31 11 L33 22.2 Q33 23.8 31.6 23.8 Q30.6 23.8 30.2 22.6 L28.8 15 V27 H19.2 V15 L17.8 22.6 Q17.4 23.8 16.4 23.8 Q15 23.8 15 22.2 L17 11 Q17.6 8.6 20 8.6Z"/><path d="M35 8.6 H43 Q45.4 8.6 46 11 L48 20.4 Q48 22 46.6 22 Q45.6 22 45.2 20.8 L43.8 15 L44 27 H41.4 V24.5 H39.6 V32 H36.6 V24.5 H34.2 V15 L32.8 22.6 Q32.4 23.8 31.4 23.8 Q30 23.8 30 22.2 L32 11 Q32.6 8.6 35 8.6Z"/></g><path d="M4.9 13.5 L3.6 23 M13.3 13.5 L14.7 23 M19.5 13.5 L18.4 23 M28.6 13.5 L29.7 23 M34.5 13.5 L33.3 23 M43.6 13.5 L44.9 21.5" stroke="#fff" stroke-width="0.8" fill="none"/><path d="M2.1 50.3 L24 28.4 L34.9 40.4 L57.6 17.4" fill="none" stroke="#fff" stroke-width="8.2" stroke-linejoin="miter"/><path d="M2.1 50.3 L24 28.4 L34.9 40.4 L57.6 17.4" fill="none" stroke="#BF9000" stroke-width="4.7" stroke-linejoin="miter"/><path d="M51.4 12.7 H63 V24.4Z" fill="#BF9000" stroke="#fff" stroke-width="0"/></svg>
<svg x="342.4" y="624.6" width="29.50" height="29.50" viewBox="0 0 63.6 57.5" preserveAspectRatio="none"><circle cx="13.4" cy="5.45" r="5.4" fill="#C00000"/><path d="M8.4 12.1 H18.4 Q22.700000000000003 12.1 23.6 16.2 L26.8 29.3 A2.1 2.1 0 0 1 22.8 30.6 L19.4 19 V56.6 A0.9 0.9 0 0 1 18.5 57.5 H15.600000000000001 A0.9 0.9 0 0 1 14.700000000000001 56.6 V36.4 H12.1 V56.6 A0.9 0.9 0 0 1 11.2 57.5 H8.3 A0.9 0.9 0 0 1 7.4 56.6 V19 L4.0 30.6 A2.1 2.1 0 0 1 0.0 29.3 L3.200000000000001 16.2 Q4.1 12.1 8.4 12.1Z" fill="#C00000"/><circle cx="50.3" cy="5.45" r="5.4" fill="#C00000"/><path d="M45.3 12.1 H55.3 Q59.599999999999994 12.1 60.5 16.2 L63.699999999999996 29.3 A2.1 2.1 0 0 1 59.699999999999996 30.6 L56.3 19 V56.6 A0.9 0.9 0 0 1 55.4 57.5 H52.5 A0.9 0.9 0 0 1 51.599999999999994 56.6 V36.4 H49.0 V56.6 A0.9 0.9 0 0 1 48.099999999999994 57.5 H45.199999999999996 A0.9 0.9 0 0 1 44.3 56.6 V19 L40.9 30.6 A2.1 2.1 0 0 1 36.9 29.3 L40.099999999999994 16.2 Q41.0 12.1 45.3 12.1Z" fill="#C00000"/><path d="M26.8 12.1 H36.8 Q41.1 12.1 42.0 16.2 L45.2 29.3 A2.1 2.1 0 0 1 41.2 30.6 L37.8 19 V56.6 A0.9 0.9 0 0 1 36.9 57.5 H34.0 A0.9 0.9 0 0 1 33.1 56.6 V36.4 H30.5 V56.6 A0.9 0.9 0 0 1 29.6 57.5 H26.700000000000003 A0.9 0.9 0 0 1 25.8 56.6 V19 L22.4 30.6 A2.1 2.1 0 0 1 18.4 29.3 L21.6 16.2 Q22.5 12.1 26.8 12.1Z" fill="#C00000" stroke="#fff" stroke-width="2" paint-order="stroke" stroke-linejoin="round"/><circle cx="31.8" cy="5.45" r="5.4" fill="#C00000"/></svg>
<svg x="375.9" y="631" width="29.35" height="22.00" viewBox="0 0 63 45" preserveAspectRatio="none"><g fill="#FFC000"><circle cx="12.3" cy="9.4" r="5.5"/><circle cx="50.2" cy="9.4" r="5.5"/><path d="M0 31.2 V24.5 Q0 20.8 4 19.7 Q10 18.1 18 18.3 V31.2Z"/><path d="M62.8 31.2 V24.5 Q62.8 20.8 58.8 19.7 Q52.8 18.1 44.8 18.3 V31.2Z"/><path d="M18.1 27 H44.8 V40.7 Q44.8 41.5 44 41.5 H18.9 Q18.1 41.5 18.1 40.7Z"/></g><circle cx="31.05" cy="17.9" r="18.1" fill="#fff"/><path d="M42 29 L55.6 41.8" stroke="#fff" stroke-width="9.4" stroke-linecap="round" fill="none"/><circle cx="31.05" cy="17.9" r="14.95" fill="none" stroke="#FFC000" stroke-width="3.4"/><circle cx="31.05" cy="14" r="7.5" fill="#FFC000"/><path d="M19.5 27.4 Q23 23.7 31.05 23.7 Q39.1 23.7 42.6 27.4 A15 15 0 0 1 19.5 27.4Z" fill="#FFC000"/><path d="M41 28 L46 32.5" stroke="#FFC000" stroke-width="4.4" fill="none"/><path d="M45.8 32.6 L55.4 41.6" stroke="#FFC000" stroke-width="6.9" stroke-linecap="round" fill="none"/></svg>
<svg x="407.6" y="622.4" width="23.30" height="33.40" viewBox="0 0 51.1 65.5" preserveAspectRatio="none"><g fill="none" stroke="#7030A0"><path d="M8.3 2.8 H5.6 Q3.1 2.8 3.1 5.6 V27" stroke-width="2.7"/><path d="M23.2 2.8 H26 Q28.5 2.8 28.5 5.6 V27" stroke-width="2.7"/><path d="M3.1 25.5 V26.6 A12.7 12.7 0 0 0 28.5 26.6 V25.5" stroke-width="6.1" stroke-linecap="round"/><path d="M15.8 40 V50 A13.55 13.55 0 0 0 42.9 50 V32" stroke-width="4.2"/><circle cx="42.9" cy="24.5" r="7" stroke-width="2.7"/></g><circle cx="8.3" cy="2.8" r="2.7" fill="#7030A0"/><circle cx="23.2" cy="2.8" r="2.7" fill="#7030A0"/><circle cx="42.9" cy="24.5" r="3.7" fill="#7030A0"/></svg>
<svg x="562" y="612" width="31.00" height="25.00" viewBox="0 0 63 52.4" preserveAspectRatio="none"><g fill="#BF9000"><circle cx="9.1" cy="3.9" r="3.8"/><circle cx="24" cy="3.9" r="3.8"/><circle cx="38.9" cy="3.9" r="3.8"/><path d="M5.2 8.6 H13 Q15.4 8.6 16 11 L18 22.2 Q18 23.8 16.6 23.8 Q15.6 23.8 15.2 22.6 L13.6 14.6 L15.4 29 H12.6 V35.5 H10 V29 H8.2 V39.5 H5.2 V29 H2.8 L4.6 14.6 L3 22.6 Q2.6 23.8 1.6 23.8 Q0.2 23.8 0.2 22.2 L2.2 11 Q2.8 8.6 5.2 8.6Z"/><path d="M20 8.6 H28 Q30.4 8.6 31 11 L33 22.2 Q33 23.8 31.6 23.8 Q30.6 23.8 30.2 22.6 L28.8 15 V27 H19.2 V15 L17.8 22.6 Q17.4 23.8 16.4 23.8 Q15 23.8 15 22.2 L17 11 Q17.6 8.6 20 8.6Z"/><path d="M35 8.6 H43 Q45.4 8.6 46 11 L48 20.4 Q48 22 46.6 22 Q45.6 22 45.2 20.8 L43.8 15 L44 27 H41.4 V24.5 H39.6 V32 H36.6 V24.5 H34.2 V15 L32.8 22.6 Q32.4 23.8 31.4 23.8 Q30 23.8 30 22.2 L32 11 Q32.6 8.6 35 8.6Z"/></g><path d="M4.9 13.5 L3.6 23 M13.3 13.5 L14.7 23 M19.5 13.5 L18.4 23 M28.6 13.5 L29.7 23 M34.5 13.5 L33.3 23 M43.6 13.5 L44.9 21.5" stroke="#fff" stroke-width="0.8" fill="none"/><path d="M2.1 50.3 L24 28.4 L34.9 40.4 L57.6 17.4" fill="none" stroke="#fff" stroke-width="8.2" stroke-linejoin="miter"/><path d="M2.1 50.3 L24 28.4 L34.9 40.4 L57.6 17.4" fill="none" stroke="#BF9000" stroke-width="4.7" stroke-linejoin="miter"/><path d="M51.4 12.7 H63 V24.4Z" fill="#BF9000" stroke="#fff" stroke-width="0"/></svg>
<svg x="604.5" y="613.75" width="25.00" height="22.95" viewBox="0 0 61.4 61.5" preserveAspectRatio="none"><rect x="2.1" y="30" width="31.5" height="21.9" rx="1.6" fill="none" stroke="#A9D18E" stroke-width="4.2"/><rect x="14.4" y="53" width="6.8" height="5" fill="#A9D18E"/><rect x="9" y="57.3" width="17.6" height="4.2" rx="0.8" fill="#A9D18E"/><path d="M30.3 22.4 H54.3 A5.2 5.2 0 0 0 55.6 12.2 A5.6 5.6 0 0 0 46.8 7 A7.3 7.3 0 0 0 32.9 9.3 A6.5 6.5 0 0 0 30.3 22.4Z" fill="none" stroke="#A9D18E" stroke-width="4.1" stroke-linejoin="round"/><path d="M9.6 24.6 Q9.2 16.5 15.6 13.6" fill="none" stroke="#A9D18E" stroke-width="4.6"/><path d="M13.6 8.2 L20.2 12.6 L15.4 19.4Z" fill="#A9D18E"/><path d="M50.6 28 Q51.4 35.6 45.2 38.6" fill="none" stroke="#A9D18E" stroke-width="4.6"/><path d="M46.6 33.2 L39.8 39 L46 44.6Z" fill="#A9D18E"/></svg>
<svg x="638.75" y="609" width="27.75" height="26.80" viewBox="0 0 53.6 55.4" preserveAspectRatio="none"><g fill="#2E75B6"><circle cx="11.35" cy="32.2" r="5.7"/><circle cx="42.2" cy="32.2" r="5.7"/><path d="M0 51.3 V45.0 C0 42.0 4.4 39.8 10.0 39.8 C15.6 39.8 20 42.0 20 45.0 V51.3Z"/><path d="M33.5 51.3 V45.0 C33.5 42.0 37.922 39.8 43.55 39.8 C49.178 39.8 53.6 42.0 53.6 45.0 V51.3Z"/></g><g fill="#2E75B6" stroke="#fff" stroke-width="2.2" paint-order="stroke"><circle cx="26.7" cy="36.9" r="5.7"/><path d="M15.3 55.4 V49.7 C15.3 46.7 20.316000000000003 44.5 26.700000000000003 44.5 C33.084 44.5 38.1 46.7 38.1 49.7 V55.4Z"/></g><path d="M22.8 19.6 H30.8 L31.4 17.3 Q35.4 14 35.4 9.5 A8.6 8.6 0 1 0 18.2 9.5 Q18.2 14 22.2 17.3Z" fill="none" stroke="#2E75B6" stroke-width="1.7" stroke-linejoin="round"/><path d="M22.6 22.7 H31" stroke="#2E75B6" stroke-width="1.7" fill="none" stroke-linecap="round"/><path d="M24 24.9 H29.6 L26.8 27.6Z" fill="#2E75B6"/><path d="M27.9 4.6 L23.6 10.8 H26.7 L25.6 15.2 L30.5 8.6 H27.2Z" fill="#2E75B6"/></svg>
<svg x="780.75" y="626" width="25.05" height="26.25" viewBox="0 0 53.6 55.4" preserveAspectRatio="none"><g fill="#2E75B6"><circle cx="11.35" cy="32.2" r="5.7"/><circle cx="42.2" cy="32.2" r="5.7"/><path d="M0 51.3 V45.0 C0 42.0 4.4 39.8 10.0 39.8 C15.6 39.8 20 42.0 20 45.0 V51.3Z"/><path d="M33.5 51.3 V45.0 C33.5 42.0 37.922 39.8 43.55 39.8 C49.178 39.8 53.6 42.0 53.6 45.0 V51.3Z"/></g><g fill="#2E75B6" stroke="#fff" stroke-width="2.2" paint-order="stroke"><circle cx="26.7" cy="36.9" r="5.7"/><path d="M15.3 55.4 V49.7 C15.3 46.7 20.316000000000003 44.5 26.700000000000003 44.5 C33.084 44.5 38.1 46.7 38.1 49.7 V55.4Z"/></g><path d="M22.8 19.6 H30.8 L31.4 17.3 Q35.4 14 35.4 9.5 A8.6 8.6 0 1 0 18.2 9.5 Q18.2 14 22.2 17.3Z" fill="none" stroke="#2E75B6" stroke-width="1.7" stroke-linejoin="round"/><path d="M22.6 22.7 H31" stroke="#2E75B6" stroke-width="1.7" fill="none" stroke-linecap="round"/><path d="M24 24.9 H29.6 L26.8 27.6Z" fill="#2E75B6"/><path d="M27.9 4.6 L23.6 10.8 H26.7 L25.6 15.2 L30.5 8.6 H27.2Z" fill="#2E75B6"/></svg>
<svg x="808.8" y="629.75" width="30.00" height="24.00" viewBox="0 0 63 52.4" preserveAspectRatio="none"><g fill="#BF9000"><circle cx="9.1" cy="3.9" r="3.8"/><circle cx="24" cy="3.9" r="3.8"/><circle cx="38.9" cy="3.9" r="3.8"/><path d="M5.2 8.6 H13 Q15.4 8.6 16 11 L18 22.2 Q18 23.8 16.6 23.8 Q15.6 23.8 15.2 22.6 L13.6 14.6 L15.4 29 H12.6 V35.5 H10 V29 H8.2 V39.5 H5.2 V29 H2.8 L4.6 14.6 L3 22.6 Q2.6 23.8 1.6 23.8 Q0.2 23.8 0.2 22.2 L2.2 11 Q2.8 8.6 5.2 8.6Z"/><path d="M20 8.6 H28 Q30.4 8.6 31 11 L33 22.2 Q33 23.8 31.6 23.8 Q30.6 23.8 30.2 22.6 L28.8 15 V27 H19.2 V15 L17.8 22.6 Q17.4 23.8 16.4 23.8 Q15 23.8 15 22.2 L17 11 Q17.6 8.6 20 8.6Z"/><path d="M35 8.6 H43 Q45.4 8.6 46 11 L48 20.4 Q48 22 46.6 22 Q45.6 22 45.2 20.8 L43.8 15 L44 27 H41.4 V24.5 H39.6 V32 H36.6 V24.5 H34.2 V15 L32.8 22.6 Q32.4 23.8 31.4 23.8 Q30 23.8 30 22.2 L32 11 Q32.6 8.6 35 8.6Z"/></g><path d="M4.9 13.5 L3.6 23 M13.3 13.5 L14.7 23 M19.5 13.5 L18.4 23 M28.6 13.5 L29.7 23 M34.5 13.5 L33.3 23 M43.6 13.5 L44.9 21.5" stroke="#fff" stroke-width="0.8" fill="none"/><path d="M2.1 50.3 L24 28.4 L34.9 40.4 L57.6 17.4" fill="none" stroke="#fff" stroke-width="8.2" stroke-linejoin="miter"/><path d="M2.1 50.3 L24 28.4 L34.9 40.4 L57.6 17.4" fill="none" stroke="#BF9000" stroke-width="4.7" stroke-linejoin="miter"/><path d="M51.4 12.7 H63 V24.4Z" fill="#BF9000" stroke="#fff" stroke-width="0"/></svg>
<svg x="841.2" y="626.75" width="30.00" height="27.75" viewBox="0 0 63.6 57.5" preserveAspectRatio="none"><circle cx="13.4" cy="5.45" r="5.4" fill="#C00000"/><path d="M8.4 12.1 H18.4 Q22.700000000000003 12.1 23.6 16.2 L26.8 29.3 A2.1 2.1 0 0 1 22.8 30.6 L19.4 19 V56.6 A0.9 0.9 0 0 1 18.5 57.5 H15.600000000000001 A0.9 0.9 0 0 1 14.700000000000001 56.6 V36.4 H12.1 V56.6 A0.9 0.9 0 0 1 11.2 57.5 H8.3 A0.9 0.9 0 0 1 7.4 56.6 V19 L4.0 30.6 A2.1 2.1 0 0 1 0.0 29.3 L3.200000000000001 16.2 Q4.1 12.1 8.4 12.1Z" fill="#C00000"/><circle cx="50.3" cy="5.45" r="5.4" fill="#C00000"/><path d="M45.3 12.1 H55.3 Q59.599999999999994 12.1 60.5 16.2 L63.699999999999996 29.3 A2.1 2.1 0 0 1 59.699999999999996 30.6 L56.3 19 V56.6 A0.9 0.9 0 0 1 55.4 57.5 H52.5 A0.9 0.9 0 0 1 51.599999999999994 56.6 V36.4 H49.0 V56.6 A0.9 0.9 0 0 1 48.099999999999994 57.5 H45.199999999999996 A0.9 0.9 0 0 1 44.3 56.6 V19 L40.9 30.6 A2.1 2.1 0 0 1 36.9 29.3 L40.099999999999994 16.2 Q41.0 12.1 45.3 12.1Z" fill="#C00000"/><path d="M26.8 12.1 H36.8 Q41.1 12.1 42.0 16.2 L45.2 29.3 A2.1 2.1 0 0 1 41.2 30.6 L37.8 19 V56.6 A0.9 0.9 0 0 1 36.9 57.5 H34.0 A0.9 0.9 0 0 1 33.1 56.6 V36.4 H30.5 V56.6 A0.9 0.9 0 0 1 29.6 57.5 H26.700000000000003 A0.9 0.9 0 0 1 25.8 56.6 V19 L22.4 30.6 A2.1 2.1 0 0 1 18.4 29.3 L21.6 16.2 Q22.5 12.1 26.8 12.1Z" fill="#C00000" stroke="#fff" stroke-width="2" paint-order="stroke" stroke-linejoin="round"/><circle cx="31.8" cy="5.45" r="5.4" fill="#C00000"/></svg>
<svg x="873.75" y="630.8" width="29.25" height="20.70" viewBox="0 0 63 45" preserveAspectRatio="none"><g fill="#FFC000"><circle cx="12.3" cy="9.4" r="5.5"/><circle cx="50.2" cy="9.4" r="5.5"/><path d="M0 31.2 V24.5 Q0 20.8 4 19.7 Q10 18.1 18 18.3 V31.2Z"/><path d="M62.8 31.2 V24.5 Q62.8 20.8 58.8 19.7 Q52.8 18.1 44.8 18.3 V31.2Z"/><path d="M18.1 27 H44.8 V40.7 Q44.8 41.5 44 41.5 H18.9 Q18.1 41.5 18.1 40.7Z"/></g><circle cx="31.05" cy="17.9" r="18.1" fill="#fff"/><path d="M42 29 L55.6 41.8" stroke="#fff" stroke-width="9.4" stroke-linecap="round" fill="none"/><circle cx="31.05" cy="17.9" r="14.95" fill="none" stroke="#FFC000" stroke-width="3.4"/><circle cx="31.05" cy="14" r="7.5" fill="#FFC000"/><path d="M19.5 27.4 Q23 23.7 31.05 23.7 Q39.1 23.7 42.6 27.4 A15 15 0 0 1 19.5 27.4Z" fill="#FFC000"/><path d="M41 28 L46 32.5" stroke="#FFC000" stroke-width="4.4" fill="none"/><path d="M45.8 32.6 L55.4 41.6" stroke="#FFC000" stroke-width="6.9" stroke-linecap="round" fill="none"/></svg>
</g>
</svg></body></html>
